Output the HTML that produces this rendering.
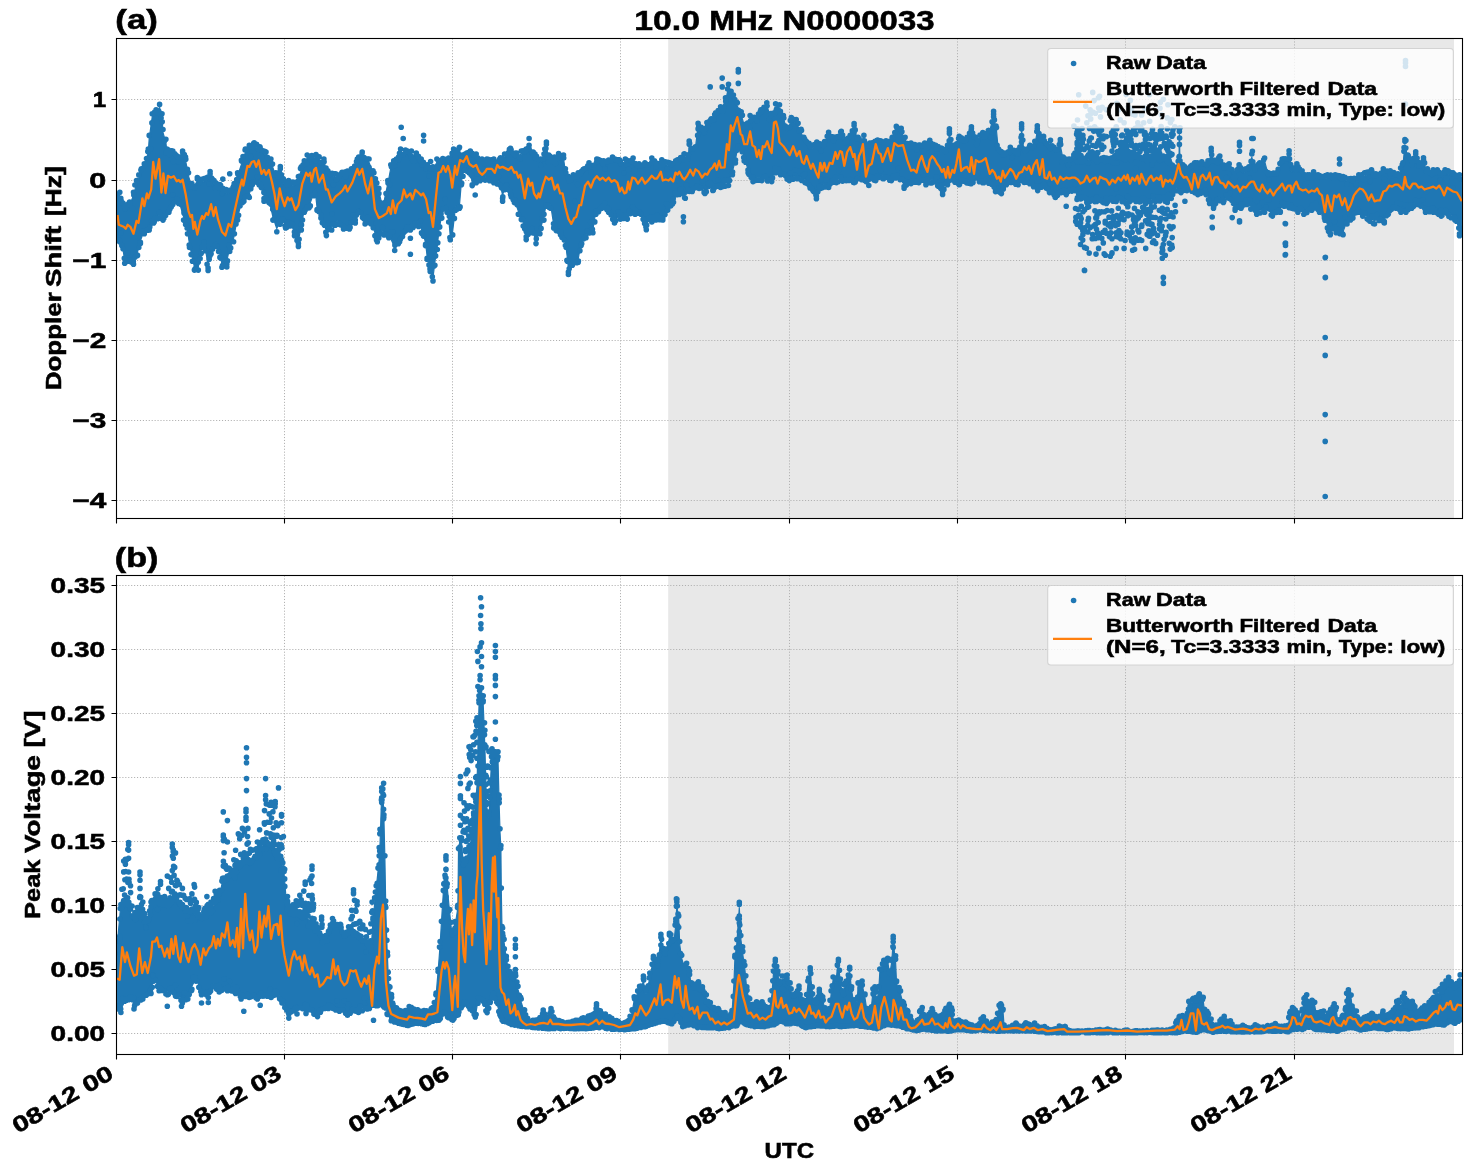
<!DOCTYPE html>
<html><head><meta charset="utf-8"><title>chart</title>
<style>text{stroke:#000;stroke-width:0.55px;}html,body{margin:0;padding:0;background:#fff;}body{width:1471px;height:1172px;position:relative;overflow:hidden;font-family:"Liberation Sans",sans-serif;}</style>
</head><body>
<svg width="1471" height="1172" viewBox="0 0 1471 1172" style="position:absolute;left:0;top:0;will-change:transform;font-family:'Liberation Sans',sans-serif;font-weight:bold">
<rect width="1471" height="1172" fill="#fff"/>
<defs>
<clipPath id="ca"><rect x="116.5" y="38.5" width="1346.0" height="480.0"/></clipPath>
<clipPath id="cb"><rect x="116.5" y="575.5" width="1346.0" height="479.0"/></clipPath>
</defs>
<rect x="668.2" y="38.5" width="785.8" height="480.0" fill="#e8e8e8"/>
<path d="M284.5 38.5V518.5M452.5 38.5V518.5M620.5 38.5V518.5M789.5 38.5V518.5M957.5 38.5V518.5M1125.5 38.5V518.5M1294.5 38.5V518.5M116.5 99.5H1462.5M116.5 180.5H1462.5M116.5 260.5H1462.5M116.5 340.5H1462.5M116.5 420.5H1462.5M116.5 500.5H1462.5" stroke="#b0b0b0" stroke-width="1" stroke-dasharray="1.1 1.83" fill="none"/>
<g clip-path="url(#ca)">
<polygon points="117.5,195.5 120.8,201.4 121.8,203.4 124.7,209.2 128.6,206.1 129.6,205.3 133.5,195.5 136.5,183.7 137.5,181.4 140.4,174.3 141.4,172.0 144.3,167.1 148.3,152.3 149.2,138.6 152.2,117.0 154.2,115.1 156.1,113.1 159.1,108.5 159.6,107.6 162.0,117.0 163.0,132.7 165.9,142.5 166.9,152.3 168.9,153.0 172.8,154.3 178.7,160.2 182.6,154.3 183.6,156.3 185.5,160.2 187.5,170.7 188.5,175.9 189.5,179.3 192.4,189.6 194.4,186.1 197.3,180.8 198.3,180.9 201.2,181.4 204.2,181.8 208.1,178.5 210.1,176.9 214.0,183.7 216.0,185.0 219.9,187.7 221.9,190.3 222.8,191.6 226.8,193.2 227.7,193.6 229.7,192.2 233.6,189.6 237.6,175.9 241.5,164.1 242.5,161.2 245.4,152.3 249.3,148.4 252.3,147.0 254.2,146.1 259.1,149.7 260.1,150.4 264.0,153.7 266.0,155.3 268.9,159.4 270.9,162.2 272.9,167.6 275.8,175.9 276.8,175.0 280.3,172.0 280.7,173.4 283.7,183.7 285.6,183.7 288.6,183.7 290.5,184.4 294.5,185.7 298.4,179.8 301.3,170.0 304.3,164.1 307.2,158.2 310.2,158.1 315.1,157.9 316.0,157.8 317.0,158.4 320.9,160.5 323.9,162.2 325.9,168.0 327.8,173.9 331.7,175.4 335.7,176.9 337.6,176.5 343.5,175.3 345.5,174.9 349.4,172.9 351.4,172.0 355.3,165.4 357.3,162.2 359.2,159.4 362.2,155.3 365.1,158.2 369.0,162.2 371.0,167.6 373.9,175.9 374.9,179.0 377.3,186.6 378.8,191.6 381.8,203.4 382.8,207.3 387.8,183.7 388.8,178.5 390.8,168.0 393.7,164.1 394.7,163.3 398.6,160.2 399.6,156.3 400.6,152.3 404.5,153.1 405.5,153.3 410.4,154.1 411.4,154.3 416.3,156.3 417.3,157.4 421.2,162.2 422.2,163.1 425.5,166.5 427.1,168.0 430.0,169.0 433.0,170.0 434.9,166.1 436.9,162.2 437.3,162.1 438.9,162.0 441.8,161.8 442.8,161.8 445.7,161.5 448.7,161.2 450.3,158.3 452.6,154.1 453.6,152.3 455.5,151.7 459.5,150.4 461.4,155.6 462.4,158.2 464.4,156.6 469.3,154.8 470.3,154.3 472.2,155.3 476.2,157.2 480.1,160.5 482.0,162.2 486.9,162.1 493.8,162.2 499.7,162.2 502.6,159.2 504.6,157.2 505.6,156.3 510.5,151.4 514.4,155.3 515.4,156.3 518.3,155.3 521.3,154.3 523.2,153.5 526.2,152.3 529.1,148.4 531.1,151.4 535.0,157.2 536.0,158.1 539.9,161.3 540.9,162.2 543.9,154.8 544.8,152.3 546.4,147.4 548.8,158.2 550.7,158.9 553.7,159.9 554.6,160.2 558.6,156.7 560.5,157.3 563.5,158.2 565.4,172.0 567.4,178.5 568.4,181.8 572.3,178.6 573.3,177.9 578.2,175.9 581.1,173.9 584.1,172.0 586.0,169.6 589.0,166.1 592.9,164.1 595.9,162.6 596.8,162.2 601.7,163.6 603.7,164.1 608.6,161.9 612.5,160.2 614.5,161.0 619.4,163.1 620.4,163.0 625.3,162.2 627.3,161.9 633.1,161.2 635.1,163.1 639.0,167.1 641.0,166.7 644.9,166.1 645.9,165.4 651.8,161.2 655.9,165.9 661.8,162.9 662.8,163.3 667.7,165.2 669.6,165.9 673.5,164.4 677.5,162.9 679.4,161.3 684.3,157.1 685.3,157.3 688.3,158.0 689.2,144.3 692.2,147.2 695.1,150.2 698.1,126.6 699.1,128.0 704.0,134.5 704.9,131.5 706.9,125.7 710.8,122.7 712.8,120.0 715.7,115.9 720.6,110.0 725.5,101.1 728.5,87.4 732.4,96.0 733.4,98.2 735.4,102.1 737.3,106.0 738.3,108.2 741.2,114.9 744.2,125.2 745.2,128.6 748.1,122.7 750.1,118.8 753.0,119.8 756.0,120.8 760.9,112.9 761.9,111.8 766.8,106.0 770.7,116.8 771.7,114.9 775.6,107.0 779.5,108.0 780.5,110.7 783.4,118.8 787.4,130.6 789.3,125.7 791.3,120.8 796.2,122.7 797.2,124.7 801.1,132.5 805.0,141.9 806.0,144.3 812.9,148.2 816.4,145.6 816.8,145.3 820.7,146.6 822.7,147.2 828.6,135.5 834.5,141.4 836.4,139.4 841.3,134.5 846.2,142.3 850.2,138.4 854.1,128.6 858.0,140.4 861.9,139.1 863.9,138.4 868.8,145.0 869.8,146.3 875.7,144.1 877.6,143.3 883.5,144.1 885.5,144.3 891.4,140.9 892.3,140.4 896.3,129.6 897.3,130.0 901.2,131.5 904.1,138.2 905.1,140.4 911.0,146.3 918.8,148.2 924.7,146.3 925.9,148.4 929.8,143.5 931.8,145.1 935.7,148.4 937.7,149.4 941.6,151.4 942.6,150.9 947.5,148.4 949.4,134.7 952.4,148.4 959.2,139.6 965.1,142.5 971.0,132.4 971.4,131.7 975.9,140.6 982.8,135.7 988.7,133.7 992.6,120.7 993.6,117.4 995.5,126.3 996.5,130.8 998.5,152.3 1001.4,154.3 1004.4,156.3 1006.3,154.3 1010.3,150.4 1018.1,153.3 1021.1,140.6 1021.6,129.8 1024.0,152.3 1029.9,148.4 1034.8,144.5 1037.3,131.7 1037.7,132.8 1040.7,140.6 1043.6,139.6 1047.6,148.4 1049.5,145.1 1050.5,143.5 1055.4,152.3 1060.3,145.5 1061.3,150.4 1063.2,160.2 1066.2,161.2 1069.1,162.2 1075.0,156.3 1077.0,156.8 1078.9,157.2 1086.8,159.6 1088.8,160.2 1096.6,158.2 1106.4,161.2 1116.2,158.2 1126.0,160.2 1135.9,158.2 1145.7,160.2 1155.5,158.2 1165.3,160.2 1167.3,162.2 1169.2,164.1 1171.2,166.7 1175.1,172.0 1179.0,160.2 1179.4,134.7 1180.0,164.1 1181.0,165.2 1186.9,172.0 1194.7,166.1 1195.9,166.1 1197.8,165.8 1201.8,165.1 1205.7,165.8 1207.7,166.1 1209.6,159.5 1211.2,154.3 1213.5,161.2 1214.5,164.1 1217.5,161.4 1219.8,159.2 1223.4,167.7 1224.3,170.0 1229.2,167.1 1234.2,175.9 1235.1,174.3 1239.1,168.0 1241.0,170.5 1243.0,172.9 1246.9,171.0 1248.9,170.0 1251.8,157.2 1252.8,161.5 1254.8,170.0 1256.7,168.4 1259.7,166.1 1264.6,161.2 1268.5,175.9 1272.4,175.9 1276.3,175.9 1280.3,166.7 1282.2,162.2 1284.2,160.8 1289.1,157.2 1292.0,172.0 1296.9,167.1 1297.9,168.4 1301.9,173.9 1303.8,175.2 1307.7,177.9 1311.7,175.9 1313.6,174.9 1319.5,178.8 1324.4,178.2 1327.4,177.9 1330.3,177.9 1335.2,177.9 1336.2,178.1 1343.1,179.8 1347.0,180.8 1350.9,181.8 1352.9,180.8 1357.8,178.3 1358.8,177.9 1362.7,176.5 1364.6,175.9 1368.6,174.2 1371.5,172.9 1374.5,175.9 1376.4,177.9 1380.3,174.5 1383.3,172.0 1384.3,172.2 1388.2,173.4 1390.2,173.9 1396.0,176.1 1398.0,176.9 1400.9,170.4 1402.9,166.1 1404.9,144.5 1405.9,149.1 1407.8,158.2 1411.7,164.1 1415.7,157.2 1417.6,161.7 1419.6,166.1 1423.5,163.1 1425.5,167.6 1427.4,172.0 1433.3,172.6 1437.3,172.9 1441.2,172.9 1445.1,172.9 1449.0,174.4 1453.0,175.9 1454.9,176.3 1459.8,177.4 1461.8,177.9 1461.8,232.6 1459.8,230.6 1454.9,216.9 1453.0,215.6 1449.0,212.9 1445.1,212.9 1441.2,212.9 1437.3,211.0 1433.3,209.0 1427.4,209.0 1425.5,209.0 1423.5,207.1 1419.6,203.1 1417.6,201.2 1415.7,202.5 1411.7,205.1 1407.8,207.7 1405.9,209.0 1404.9,209.0 1402.9,209.0 1400.9,209.0 1398.0,206.7 1396.0,205.1 1390.2,209.5 1388.2,211.0 1384.3,219.8 1383.3,219.1 1380.3,216.9 1376.4,219.5 1374.5,220.8 1371.5,218.8 1368.6,216.9 1364.6,214.3 1362.7,212.9 1358.8,208.2 1357.8,207.1 1352.9,214.9 1350.9,216.9 1347.0,220.8 1343.1,231.6 1336.2,229.6 1335.2,230.0 1330.3,231.6 1327.4,224.7 1324.4,214.9 1319.5,209.0 1313.6,207.6 1311.7,207.1 1307.7,209.0 1303.8,211.0 1301.9,210.3 1297.9,209.0 1296.9,208.4 1292.0,205.1 1289.1,204.4 1284.2,203.1 1282.2,206.1 1280.3,209.0 1276.3,211.0 1272.4,212.9 1268.5,211.0 1264.6,209.0 1259.7,210.2 1256.7,211.0 1254.8,208.0 1252.8,205.1 1251.8,204.4 1248.9,202.5 1246.9,201.2 1243.0,203.8 1241.0,205.1 1239.1,205.8 1235.1,207.1 1234.2,205.1 1229.2,195.3 1224.3,198.6 1223.4,199.2 1219.8,198.0 1217.5,197.2 1214.5,203.1 1213.5,205.1 1211.2,202.2 1209.6,200.2 1207.7,194.8 1205.7,189.4 1201.8,190.4 1197.8,191.4 1195.9,190.1 1194.7,189.4 1186.9,187.4 1181.0,189.4 1180.0,189.1 1179.4,188.9 1179.0,188.7 1175.1,187.4 1171.2,195.3 1169.2,197.2 1167.3,199.2 1165.3,199.0 1155.5,198.2 1145.7,200.2 1135.9,198.2 1126.0,200.2 1116.2,198.2 1106.4,200.2 1096.6,198.2 1088.8,199.0 1086.8,199.2 1078.9,196.9 1077.0,196.3 1075.0,187.4 1069.1,190.1 1066.2,191.4 1063.2,190.2 1061.3,189.4 1060.3,190.2 1055.4,194.3 1050.5,190.2 1049.5,189.4 1047.6,186.8 1043.6,181.6 1040.7,184.5 1037.7,187.4 1037.3,187.1 1034.8,184.9 1029.9,180.6 1024.0,181.1 1021.6,181.3 1021.1,181.3 1018.1,181.6 1010.3,181.6 1006.3,181.6 1004.4,185.1 1001.4,190.4 998.5,189.4 996.5,188.7 995.5,188.4 993.6,183.8 992.6,181.6 988.7,180.8 982.8,179.6 975.9,180.2 971.4,180.5 971.0,180.6 965.1,181.1 959.2,181.6 952.4,181.6 949.4,181.6 947.5,181.6 942.6,188.4 941.6,187.2 937.7,182.5 935.7,181.6 931.8,179.6 929.8,180.2 925.9,181.6 924.7,181.2 918.8,179.4 911.0,180.4 905.1,182.9 904.1,183.3 901.2,179.1 897.3,173.5 896.3,174.2 892.3,176.8 891.4,177.4 885.5,176.0 883.5,175.5 877.6,176.9 875.7,177.4 869.8,181.6 868.8,182.3 863.9,178.1 861.9,176.5 858.0,177.9 854.1,179.4 850.2,178.4 846.2,177.4 841.3,178.4 836.4,179.4 834.5,180.6 828.6,184.3 822.7,185.0 820.7,185.3 816.8,192.4 816.4,193.1 812.9,187.2 806.0,180.4 805.0,179.4 801.1,177.4 797.2,175.5 796.2,175.7 791.3,176.9 789.3,177.4 787.4,176.1 783.4,173.5 780.5,171.6 779.5,171.2 775.6,169.6 771.7,178.4 770.7,178.3 766.8,177.9 761.9,177.4 760.9,177.5 756.0,178.1 753.0,178.4 750.1,173.1 748.1,169.6 745.2,160.8 744.2,157.8 741.2,146.0 738.3,144.1 737.3,149.3 735.4,159.8 733.4,167.6 732.4,171.6 728.5,182.3 725.5,183.1 720.6,184.3 715.7,186.1 712.8,187.2 710.8,188.0 706.9,189.5 704.9,190.2 704.0,189.4 699.1,185.3 698.1,185.7 695.1,187.0 692.2,188.2 689.2,191.2 688.3,192.2 685.3,195.1 684.3,194.4 679.4,191.2 677.5,193.8 673.5,199.0 669.6,204.3 667.7,206.9 662.8,216.7 661.8,216.7 655.9,216.7 651.8,218.8 645.9,223.7 644.9,221.2 641.0,211.0 639.0,211.0 635.1,211.0 633.1,212.2 627.3,215.9 625.3,215.9 620.4,215.9 619.4,216.5 614.5,219.8 612.5,216.2 608.6,209.0 603.7,206.2 601.7,205.1 596.8,210.0 595.9,211.0 592.9,229.6 589.0,232.4 586.0,234.5 584.1,237.7 581.1,242.4 578.2,259.1 573.3,261.5 572.3,262.0 568.4,268.9 567.4,258.1 565.4,242.4 563.5,238.1 560.5,231.6 558.6,229.6 554.6,225.7 553.7,224.7 550.7,205.1 548.8,204.2 546.4,203.1 544.8,211.6 543.9,216.9 540.9,227.2 539.9,230.6 536.0,240.4 535.0,237.7 531.1,226.7 529.1,229.4 526.2,233.6 523.2,222.8 521.3,218.1 518.3,211.0 515.4,202.2 514.4,199.2 510.5,191.4 505.6,183.5 504.6,187.4 502.6,195.3 499.7,181.6 493.8,179.6 486.9,176.7 482.0,177.3 480.1,177.6 476.2,179.6 472.2,181.6 470.3,173.7 469.3,169.8 464.4,167.4 462.4,176.6 461.4,181.6 459.5,205.1 455.5,207.1 453.6,223.4 452.6,231.6 450.3,236.5 448.7,218.8 445.7,205.1 442.8,212.5 441.8,214.9 438.9,230.6 437.3,246.3 436.9,248.9 434.9,262.0 433.0,277.7 430.0,265.9 427.1,256.1 425.5,242.4 422.2,230.6 421.2,228.8 417.3,221.8 416.3,222.5 411.4,226.0 410.4,226.7 405.5,228.3 404.5,228.6 400.6,236.5 399.6,238.5 398.6,240.2 394.7,247.3 393.7,245.2 390.8,238.8 388.8,234.5 387.8,234.0 382.8,231.2 381.8,230.6 378.8,235.7 377.3,238.5 374.9,232.6 373.9,229.6 371.0,220.8 369.0,220.8 365.1,220.8 362.2,214.9 359.2,209.0 357.3,212.9 355.3,216.9 351.4,222.8 349.4,225.7 345.5,225.7 343.5,225.7 337.6,220.8 335.7,222.8 331.7,226.7 327.8,228.6 325.9,229.6 323.9,223.7 320.9,214.9 317.0,207.1 316.0,198.2 315.1,189.4 310.2,203.1 307.2,206.1 304.3,209.0 301.3,226.7 298.4,240.4 294.5,232.6 290.5,222.8 288.6,223.5 285.6,224.7 283.7,222.4 280.7,218.8 280.3,219.8 276.8,228.6 275.8,225.7 272.9,216.9 270.9,208.0 268.9,199.2 266.0,196.9 264.0,195.3 260.1,184.3 259.1,181.6 254.2,181.6 252.3,181.6 249.3,194.3 245.4,197.1 242.5,199.2 241.5,202.7 237.6,216.9 233.6,238.5 229.7,248.3 227.7,256.8 226.8,261.0 222.8,263.4 221.9,264.0 219.9,254.2 216.0,242.4 214.0,245.7 210.1,252.2 208.1,264.9 204.2,242.4 201.2,250.2 198.3,266.9 197.3,266.9 194.4,266.9 192.4,258.1 189.5,244.3 188.5,237.5 187.5,230.6 185.5,223.7 183.6,216.9 182.6,213.5 178.7,200.2 172.8,201.2 168.9,209.0 166.9,211.6 165.9,212.9 163.0,216.9 162.0,216.4 159.6,215.2 159.1,214.9 156.1,217.3 154.2,218.8 152.2,222.0 149.2,226.7 148.3,227.5 144.3,230.6 141.4,238.0 140.4,240.4 137.5,252.2 136.5,254.4 133.5,261.0 129.6,258.7 128.6,258.1 124.7,260.0 121.8,242.4 120.8,241.5 117.5,238.5" fill="#1f77b4" stroke="#1f77b4" stroke-width="1.2" stroke-linejoin="round"/>
<path d="M117.6 194.2h.01M119.3 203.3h.01M121.2 200.9h.01M122.9 203.0h.01M125.1 209.0h.01M126.3 204.9h.01M128.7 203.5h.01M129.6 204.5h.01M132.5 208.5h.01M133.8 194.9h.01M134.9 185.0h.01M136.8 180.9h.01M138.8 174.9h.01M140.9 170.1h.01M143.1 168.3h.01M144.7 165.5h.01M146.5 158.6h.01M147.8 151.6h.01M150.5 148.8h.01M151.9 122.9h.01M153.2 113.6h.01M154.8 111.7h.01M157.0 112.7h.01M158.8 111.2h.01M161.1 118.1h.01M162.2 121.8h.01M164.3 141.1h.01M166.0 152.9h.01M168.1 149.7h.01M169.4 154.6h.01M171.3 150.9h.01M173.6 161.6h.01M174.8 153.8h.01M176.4 155.5h.01M178.3 161.7h.01M180.4 156.7h.01M182.6 152.2h.01M184.3 154.5h.01M185.8 159.2h.01M187.4 169.2h.01M189.9 186.8h.01M191.8 183.6h.01M193.0 185.9h.01M195.1 187.7h.01M197.3 179.0h.01M198.2 178.5h.01M200.1 182.5h.01M201.6 179.3h.01M204.0 178.8h.01M205.8 178.2h.01M207.4 177.2h.01M209.3 183.9h.01M211.5 178.0h.01M212.5 179.2h.01M215.1 188.2h.01M216.1 183.1h.01M218.8 187.4h.01M220.6 185.4h.01M222.0 193.6h.01M223.2 190.4h.01M226.1 189.6h.01M227.5 191.0h.01M229.5 190.3h.01M230.7 191.0h.01M233.0 187.6h.01M234.2 183.6h.01M236.7 179.5h.01M237.8 173.9h.01M239.5 173.1h.01M241.4 160.3h.01M243.0 156.6h.01M245.1 150.0h.01M246.7 150.0h.01M249.4 147.0h.01M250.9 156.4h.01M252.6 147.2h.01M253.7 143.4h.01M256.6 144.3h.01M258.5 149.2h.01M259.9 146.9h.01M261.8 150.3h.01M263.9 151.0h.01M265.2 151.6h.01M267.4 157.3h.01M268.9 159.9h.01M271.0 163.1h.01M272.5 164.1h.01M274.5 174.8h.01M276.2 174.2h.01M277.8 177.0h.01M279.4 172.4h.01M281.4 174.8h.01M283.3 178.8h.01M285.4 195.6h.01M286.6 184.4h.01M288.6 184.5h.01M290.7 182.9h.01M292.4 182.0h.01M294.0 182.4h.01M295.4 182.6h.01M297.5 181.5h.01M299.8 176.4h.01M300.5 168.4h.01M303.1 164.7h.01M304.3 160.7h.01M306.7 163.5h.01M308.8 156.7h.01M310.3 156.1h.01M311.8 155.5h.01M314.2 159.7h.01M315.4 161.0h.01M317.1 158.0h.01M319.1 156.8h.01M321.3 162.8h.01M323.2 162.0h.01M324.1 161.7h.01M326.0 168.0h.01M328.0 171.6h.01M329.9 174.5h.01M332.1 173.3h.01M333.4 184.9h.01M334.7 173.8h.01M336.5 179.6h.01M339.0 176.7h.01M341.0 173.8h.01M342.1 172.4h.01M343.7 173.8h.01M345.8 176.7h.01M347.4 171.0h.01M349.6 172.6h.01M351.7 171.5h.01M353.9 170.5h.01M354.7 166.0h.01M356.5 161.5h.01M358.7 157.0h.01M360.1 158.2h.01M362.1 153.2h.01M364.1 157.6h.01M366.2 158.7h.01M368.1 159.1h.01M369.0 167.4h.01M371.6 173.4h.01M373.0 170.8h.01M375.4 178.7h.01M376.8 183.0h.01M378.9 193.6h.01M380.3 202.9h.01M381.7 204.5h.01M384.3 202.7h.01M386.0 193.6h.01M388.0 182.9h.01M389.9 184.6h.01M391.4 166.7h.01M393.4 163.2h.01M394.5 166.0h.01M396.4 159.0h.01M398.6 159.7h.01M399.5 153.2h.01M401.4 154.4h.01M403.3 154.6h.01M405.8 151.3h.01M406.9 150.9h.01M409.4 152.9h.01M411.1 156.5h.01M412.7 160.4h.01M414.0 161.3h.01M416.3 153.8h.01M418.4 156.3h.01M419.9 160.4h.01M421.8 165.0h.01M423.4 162.4h.01M425.8 168.6h.01M427.5 165.5h.01M428.9 175.8h.01M430.3 168.6h.01M432.5 168.9h.01M433.7 167.0h.01M436.1 171.0h.01M438.3 160.4h.01M439.7 161.3h.01M441.0 162.2h.01M443.2 160.8h.01M445.6 167.8h.01M446.9 159.1h.01M448.6 158.3h.01M451.0 159.8h.01M452.1 153.4h.01M454.2 149.6h.01M455.5 156.2h.01M457.1 152.3h.01M459.2 147.9h.01M461.1 155.5h.01M463.2 155.6h.01M465.2 154.0h.01M466.7 153.1h.01M468.1 152.6h.01M470.2 152.9h.01M472.0 153.4h.01M473.5 155.0h.01M475.9 154.4h.01M477.5 157.7h.01M479.4 161.0h.01M480.8 162.3h.01M483.3 161.7h.01M484.5 163.6h.01M487.0 159.7h.01M488.9 159.5h.01M489.7 163.5h.01M492.2 159.5h.01M493.2 159.6h.01M495.4 163.0h.01M496.9 162.5h.01M499.3 160.2h.01M500.5 157.8h.01M503.2 159.4h.01M504.0 164.5h.01M506.6 154.5h.01M508.3 152.7h.01M509.4 149.4h.01M511.1 149.7h.01M513.5 153.6h.01M514.9 155.5h.01M516.7 153.1h.01M519.5 157.4h.01M520.2 159.1h.01M523.0 150.8h.01M524.6 151.8h.01M526.1 150.4h.01M527.8 149.0h.01M529.1 148.8h.01M531.9 152.4h.01M533.2 152.1h.01M535.0 158.1h.01M536.5 156.3h.01M538.1 159.3h.01M540.9 165.3h.01M542.7 159.1h.01M544.0 154.0h.01M545.9 148.6h.01M548.1 162.3h.01M550.0 156.2h.01M551.6 160.0h.01M553.0 161.5h.01M555.4 163.6h.01M557.0 158.7h.01M558.4 157.9h.01M559.8 157.9h.01M562.1 155.8h.01M563.7 158.0h.01M565.8 172.7h.01M568.0 176.4h.01M569.1 181.1h.01M571.2 179.6h.01M572.8 177.2h.01M574.9 201.4h.01M576.8 177.0h.01M577.7 184.4h.01M580.4 174.3h.01M581.8 171.1h.01M583.3 169.2h.01M585.0 168.5h.01M587.8 165.8h.01M589.1 165.2h.01M591.0 172.2h.01M592.9 177.0h.01M594.0 165.1h.01M596.6 162.0h.01M598.6 159.5h.01M599.9 160.4h.01M601.7 160.9h.01M603.0 163.7h.01M605.2 168.9h.01M607.2 161.7h.01M608.6 160.0h.01M610.8 161.0h.01M612.8 158.0h.01M613.7 158.8h.01M615.6 159.4h.01M618.2 159.8h.01M620.2 161.4h.01M621.0 163.7h.01M623.8 172.8h.01M625.6 159.2h.01M626.9 160.4h.01M628.4 169.4h.01M631.0 160.5h.01M632.3 161.9h.01M634.5 170.5h.01M635.4 163.5h.01M637.6 165.5h.01M639.0 164.5h.01M640.8 165.7h.01M643.3 164.9h.01M644.6 164.7h.01M646.6 164.2h.01M648.5 164.8h.01M650.8 177.2h.01M651.8 162.3h.01M654.4 160.8h.01M655.8 167.1h.01M657.2 163.2h.01M659.4 164.4h.01M661.3 162.8h.01M662.5 164.4h.01M665.3 161.7h.01M667.0 168.9h.01M667.8 162.3h.01M670.0 163.5h.01M671.4 164.8h.01M673.2 163.5h.01M675.7 160.8h.01M677.5 162.2h.01M679.1 159.8h.01M680.7 157.5h.01M683.1 159.4h.01M684.0 154.1h.01M686.4 159.3h.01M687.8 159.2h.01M689.6 143.4h.01M691.5 148.5h.01M694.1 148.5h.01M695.4 146.8h.01M697.6 135.4h.01M698.7 126.2h.01M701.2 127.2h.01M702.0 129.6h.01M704.3 132.8h.01M705.9 128.4h.01M707.4 126.2h.01M709.9 121.1h.01M711.3 118.8h.01M713.5 119.9h.01M714.7 114.5h.01M717.2 112.6h.01M718.2 110.5h.01M720.6 110.6h.01M722.8 111.3h.01M724.0 107.9h.01M725.7 101.2h.01M727.6 89.0h.01M730.0 94.6h.01M731.1 91.2h.01M732.9 95.7h.01M734.8 99.5h.01M736.8 102.2h.01M738.5 110.3h.01M740.4 115.0h.01M742.4 115.2h.01M743.6 127.3h.01M745.7 124.4h.01M747.6 123.1h.01M749.5 127.3h.01M750.6 120.8h.01M753.2 118.9h.01M754.2 117.4h.01M757.0 120.7h.01M758.5 114.1h.01M760.4 111.4h.01M761.6 111.6h.01M764.0 107.2h.01M765.8 106.5h.01M767.1 105.8h.01M769.3 119.6h.01M770.9 115.2h.01M772.9 113.4h.01M774.4 113.4h.01M776.5 109.2h.01M778.5 110.2h.01M780.4 111.2h.01M781.9 120.3h.01M783.8 118.0h.01M785.2 126.0h.01M786.7 128.2h.01M789.5 127.6h.01M790.3 120.4h.01M792.4 118.7h.01M794.9 119.8h.01M795.9 119.7h.01M798.1 123.3h.01M799.3 131.0h.01M801.5 130.5h.01M803.8 137.2h.01M804.6 139.0h.01M806.6 142.2h.01M809.0 143.4h.01M810.2 146.4h.01M812.0 145.3h.01M814.4 144.7h.01M816.0 143.9h.01M817.7 147.5h.01M820.0 143.9h.01M821.1 151.0h.01M823.6 145.6h.01M824.6 141.6h.01M827.2 136.2h.01M828.4 137.3h.01M830.3 136.3h.01M832.7 136.8h.01M833.6 140.8h.01M835.7 137.0h.01M837.9 136.5h.01M839.4 137.1h.01M840.7 132.0h.01M842.6 135.0h.01M844.7 142.8h.01M847.1 141.9h.01M848.3 138.0h.01M850.4 135.8h.01M852.3 130.9h.01M854.1 132.0h.01M855.2 129.9h.01M856.8 138.8h.01M859.1 138.8h.01M861.0 145.6h.01M862.5 141.5h.01M864.4 140.7h.01M865.8 145.9h.01M867.8 146.1h.01M869.9 145.4h.01M872.1 142.9h.01M873.3 142.8h.01M875.1 141.2h.01M877.4 142.2h.01M879.1 141.6h.01M880.6 140.8h.01M883.1 142.6h.01M884.5 146.3h.01M886.0 140.8h.01M887.6 143.4h.01M889.6 141.2h.01M892.1 137.7h.01M892.9 139.4h.01M894.8 132.5h.01M896.9 128.1h.01M898.5 128.4h.01M900.7 129.6h.01M901.9 131.8h.01M903.9 138.9h.01M906.0 146.7h.01M907.5 143.6h.01M909.0 146.8h.01M910.8 143.6h.01M913.3 147.0h.01M914.8 144.6h.01M916.8 149.9h.01M918.2 145.2h.01M919.8 145.1h.01M921.6 145.5h.01M923.8 150.9h.01M925.9 147.0h.01M927.9 147.6h.01M929.1 142.4h.01M930.5 143.0h.01M933.1 144.4h.01M935.0 156.4h.01M936.6 148.9h.01M938.1 146.6h.01M940.3 148.7h.01M941.8 148.3h.01M944.0 149.2h.01M945.6 151.4h.01M947.6 145.8h.01M949.2 140.8h.01M950.9 139.6h.01M953.0 145.3h.01M954.5 155.5h.01M956.7 143.9h.01M958.6 138.5h.01M959.5 139.7h.01M961.4 137.9h.01M963.7 141.1h.01M965.8 140.2h.01M967.1 137.3h.01M969.5 133.3h.01M971.2 130.2h.01M972.6 133.0h.01M974.0 136.7h.01M976.7 144.4h.01M978.0 141.1h.01M980.1 135.1h.01M982.0 134.4h.01M983.4 133.1h.01M984.7 137.0h.01M986.4 133.5h.01M988.3 130.5h.01M991.0 137.5h.01M992.1 121.7h.01M994.4 119.9h.01M996.0 126.1h.01M997.1 145.3h.01M999.5 150.5h.01M1001.2 151.5h.01M1002.7 154.7h.01M1004.6 154.7h.01M1006.5 153.2h.01M1007.9 152.0h.01M1009.9 150.5h.01M1012.2 157.5h.01M1013.8 150.4h.01M1015.9 152.2h.01M1017.8 154.1h.01M1019.9 147.0h.01M1021.5 142.1h.01M1022.8 140.1h.01M1025.2 151.2h.01M1026.5 149.7h.01M1028.8 148.0h.01M1029.6 146.2h.01M1032.4 147.5h.01M1033.8 146.1h.01M1035.3 142.0h.01M1036.8 131.5h.01M1039.0 133.6h.01M1040.8 139.4h.01M1042.9 136.9h.01M1044.2 140.6h.01M1046.2 143.5h.01M1047.6 145.1h.01M1050.5 148.6h.01M1052.1 145.8h.01M1053.9 147.4h.01M1055.6 149.7h.01M1057.6 149.3h.01M1059.3 144.6h.01M1060.7 144.6h.01M1061.9 162.3h.01M1064.1 158.2h.01M1065.6 159.1h.01M1068.3 165.3h.01M1069.5 159.9h.01M1071.0 159.2h.01M1073.8 154.9h.01M1075.1 154.2h.01M1077.5 161.7h.01M1078.3 155.9h.01M1081.0 155.6h.01M1081.9 161.9h.01M1083.9 161.1h.01M1085.5 158.1h.01M1088.3 163.0h.01M1089.7 157.5h.01M1091.8 157.0h.01M1092.6 156.1h.01M1094.7 159.3h.01M1097.1 162.0h.01M1098.1 159.3h.01M1100.8 159.7h.01M1101.6 158.4h.01M1103.7 158.0h.01M1105.3 161.5h.01M1107.2 158.2h.01M1109.6 160.4h.01M1111.3 158.0h.01M1113.0 162.5h.01M1114.5 156.3h.01M1116.7 162.9h.01M1118.5 156.4h.01M1120.7 156.1h.01M1121.9 157.9h.01M1123.2 158.8h.01M1125.2 159.6h.01M1127.7 157.6h.01M1128.8 156.7h.01M1130.6 160.2h.01M1132.8 156.6h.01M1135.0 155.9h.01M1135.7 168.3h.01M1138.4 157.3h.01M1140.4 157.3h.01M1141.3 158.3h.01M1143.7 159.0h.01M1145.5 158.3h.01M1147.1 161.3h.01M1149.3 158.5h.01M1150.7 159.4h.01M1152.1 164.7h.01M1153.9 159.8h.01M1155.8 158.0h.01M1158.2 157.3h.01M1160.0 160.5h.01M1161.5 157.0h.01M1163.4 157.3h.01M1164.5 159.0h.01M1167.2 161.3h.01M1169.1 163.0h.01M1170.1 163.2h.01M1172.3 165.1h.01M1174.0 168.7h.01M1176.3 167.1h.01M1178.2 161.2h.01M1179.6 138.0h.01M1181.0 166.6h.01M1182.9 164.8h.01M1184.7 166.6h.01M1186.7 170.6h.01M1188.6 168.2h.01M1190.7 166.4h.01M1191.8 165.3h.01M1194.1 163.9h.01M1196.0 167.7h.01M1197.4 162.8h.01M1199.0 163.6h.01M1200.6 171.9h.01M1203.2 163.9h.01M1204.3 174.0h.01M1206.8 164.4h.01M1208.0 160.9h.01M1209.7 161.4h.01M1211.7 154.7h.01M1213.2 160.1h.01M1216.1 160.1h.01M1217.6 162.7h.01M1218.8 157.5h.01M1220.6 161.0h.01M1223.2 164.7h.01M1224.3 168.1h.01M1226.4 177.6h.01M1228.0 164.7h.01M1229.4 168.2h.01M1231.9 169.5h.01M1233.6 177.5h.01M1235.3 177.4h.01M1237.5 169.5h.01M1239.2 166.5h.01M1240.5 167.6h.01M1242.6 169.8h.01M1243.9 169.6h.01M1246.1 168.9h.01M1247.8 168.4h.01M1249.9 178.2h.01M1251.1 161.4h.01M1252.8 161.9h.01M1254.9 170.1h.01M1256.3 166.1h.01M1258.4 164.3h.01M1261.0 163.5h.01M1262.0 164.0h.01M1263.7 159.8h.01M1265.7 171.2h.01M1268.0 174.1h.01M1268.9 179.8h.01M1271.2 173.9h.01M1273.6 173.0h.01M1275.2 173.9h.01M1276.2 174.1h.01M1278.2 169.2h.01M1279.9 163.6h.01M1281.5 162.0h.01M1283.8 158.9h.01M1285.3 158.8h.01M1287.2 158.9h.01M1289.5 158.9h.01M1290.7 164.5h.01M1293.2 168.9h.01M1294.6 167.7h.01M1296.2 170.3h.01M1298.1 166.8h.01M1299.5 169.0h.01M1302.1 170.8h.01M1304.1 174.5h.01M1305.3 184.3h.01M1307.8 177.7h.01M1309.3 174.7h.01M1311.4 176.4h.01M1312.4 178.3h.01M1314.0 175.3h.01M1316.2 175.2h.01M1318.0 174.9h.01M1319.9 176.8h.01M1321.3 176.3h.01M1323.5 176.7h.01M1325.5 175.5h.01M1326.6 175.5h.01M1328.8 175.9h.01M1330.8 175.1h.01M1332.6 178.3h.01M1333.7 178.3h.01M1335.9 176.4h.01M1337.8 175.5h.01M1339.7 175.9h.01M1341.5 178.9h.01M1343.0 177.9h.01M1344.9 177.2h.01M1347.0 184.2h.01M1348.9 178.9h.01M1350.5 179.1h.01M1352.8 180.7h.01M1354.2 178.3h.01M1356.2 184.6h.01M1357.8 178.1h.01M1359.4 176.0h.01M1361.7 174.8h.01M1363.0 179.6h.01M1364.3 179.8h.01M1366.7 172.2h.01M1368.3 172.1h.01M1369.9 181.6h.01M1371.8 171.0h.01M1373.6 175.6h.01M1375.8 173.9h.01M1377.2 175.2h.01M1379.5 174.2h.01M1381.2 173.0h.01M1383.3 171.6h.01M1384.5 179.6h.01M1387.0 171.0h.01M1388.6 171.3h.01M1390.3 174.3h.01M1392.3 181.3h.01M1393.8 172.6h.01M1395.6 174.8h.01M1397.0 174.8h.01M1399.1 175.4h.01M1400.6 168.1h.01M1402.3 164.5h.01M1404.1 147.6h.01M1405.8 148.1h.01M1408.3 155.8h.01M1409.8 158.5h.01M1411.7 165.3h.01M1413.9 158.4h.01M1414.8 160.8h.01M1417.1 158.2h.01M1418.8 166.1h.01M1420.4 165.8h.01M1422.3 164.5h.01M1424.6 162.9h.01M1426.5 171.3h.01M1427.8 171.3h.01M1429.8 172.7h.01M1431.9 174.5h.01M1433.2 169.8h.01M1434.8 172.9h.01M1436.3 170.3h.01M1439.2 172.4h.01M1440.1 180.3h.01M1442.2 173.2h.01M1444.0 172.7h.01M1446.5 178.2h.01M1448.0 170.9h.01M1449.0 171.8h.01M1451.6 173.1h.01M1452.6 187.9h.01M1454.3 174.3h.01M1456.7 175.9h.01M1458.3 175.3h.01M1460.7 179.2h.01M117.4 240.7h.01M119.6 240.4h.01M121.0 233.1h.01M123.0 248.8h.01M124.3 258.3h.01M126.0 261.8h.01M128.0 253.3h.01M129.6 260.1h.01M131.3 262.1h.01M133.3 261.4h.01M135.2 256.9h.01M137.3 255.0h.01M138.8 247.5h.01M140.4 242.3h.01M142.5 231.2h.01M144.1 233.4h.01M146.9 230.3h.01M148.5 230.1h.01M149.8 226.9h.01M151.6 221.0h.01M153.6 222.9h.01M155.4 217.9h.01M157.6 218.7h.01M159.5 212.2h.01M161.1 217.2h.01M162.1 216.0h.01M163.9 218.2h.01M165.6 215.5h.01M168.2 212.2h.01M169.7 209.4h.01M171.2 206.9h.01M172.7 194.7h.01M175.5 201.7h.01M177.2 199.0h.01M179.1 201.9h.01M180.8 204.3h.01M181.8 202.9h.01M184.0 212.9h.01M185.6 224.5h.01M187.1 227.9h.01M189.2 245.1h.01M191.1 254.6h.01M193.5 261.1h.01M195.1 268.8h.01M196.4 268.8h.01M198.3 261.9h.01M200.1 258.5h.01M201.8 247.1h.01M204.0 242.3h.01M205.3 250.8h.01M207.1 264.3h.01M209.2 259.2h.01M211.1 253.7h.01M212.7 249.1h.01M215.2 245.4h.01M217.0 246.5h.01M218.6 251.4h.01M220.7 258.1h.01M222.5 265.5h.01M223.6 265.3h.01M225.1 261.3h.01M227.5 260.9h.01M228.9 245.2h.01M230.7 247.9h.01M232.3 230.3h.01M234.4 233.8h.01M236.0 223.9h.01M238.6 215.2h.01M240.1 205.8h.01M241.8 203.0h.01M243.9 201.3h.01M245.2 196.9h.01M247.0 195.8h.01M248.6 196.4h.01M250.8 188.8h.01M251.9 182.6h.01M254.2 181.8h.01M256.2 182.1h.01M257.5 176.7h.01M260.3 184.4h.01M261.3 187.4h.01M263.9 192.4h.01M265.5 197.8h.01M267.5 200.4h.01M268.4 200.2h.01M270.7 203.9h.01M272.7 209.2h.01M274.1 219.0h.01M275.4 214.0h.01M278.0 223.5h.01M279.9 224.2h.01M281.3 220.9h.01M282.7 218.9h.01M285.1 226.1h.01M286.8 227.3h.01M288.5 222.1h.01M290.7 225.2h.01M292.4 224.1h.01M294.4 232.0h.01M295.3 233.5h.01M297.0 240.5h.01M299.1 239.2h.01M301.5 224.9h.01M302.5 220.1h.01M305.1 210.3h.01M307.0 207.1h.01M308.9 208.0h.01M310.3 205.7h.01M312.2 195.2h.01M313.9 195.8h.01M314.9 194.8h.01M317.1 209.6h.01M318.8 211.4h.01M321.1 215.2h.01M322.3 222.8h.01M324.5 225.2h.01M325.8 232.2h.01M328.2 223.2h.01M329.5 229.5h.01M331.9 214.1h.01M333.3 224.1h.01M335.2 225.2h.01M337.3 224.1h.01M339.3 223.4h.01M340.6 225.0h.01M343.0 225.9h.01M344.5 227.6h.01M346.2 228.1h.01M348.3 227.9h.01M350.1 227.4h.01M351.4 222.4h.01M353.2 214.9h.01M355.2 216.3h.01M356.4 215.1h.01M358.4 211.6h.01M361.0 213.0h.01M362.5 217.4h.01M363.8 218.6h.01M365.5 222.4h.01M367.4 217.2h.01M369.3 222.4h.01M371.7 219.8h.01M373.2 227.7h.01M375.4 235.4h.01M376.5 240.0h.01M378.8 238.1h.01M380.1 233.1h.01M382.6 227.5h.01M384.1 234.9h.01M385.5 234.1h.01M387.3 235.1h.01M389.4 235.4h.01M391.7 232.1h.01M392.8 231.8h.01M394.9 245.2h.01M397.1 243.7h.01M398.3 243.8h.01M400.3 239.2h.01M402.5 236.4h.01M403.5 232.8h.01M405.4 231.1h.01M406.8 226.9h.01M409.3 229.8h.01M411.2 226.6h.01M413.1 227.4h.01M414.8 223.0h.01M416.3 225.3h.01M418.5 226.4h.01M420.4 221.0h.01M421.5 232.9h.01M423.5 236.1h.01M425.6 244.4h.01M427.1 258.3h.01M429.0 264.9h.01M430.2 271.4h.01M432.3 276.8h.01M434.0 265.9h.01M435.6 255.9h.01M437.8 242.8h.01M439.7 226.9h.01M441.0 214.1h.01M442.9 208.7h.01M445.1 199.3h.01M447.0 212.2h.01M449.3 216.3h.01M449.9 237.6h.01M452.7 234.9h.01M454.4 218.4h.01M455.9 209.6h.01M457.2 209.1h.01M460.1 206.9h.01M461.7 183.3h.01M463.0 176.3h.01M464.6 170.2h.01M467.2 171.2h.01M468.5 171.7h.01M470.8 174.5h.01M472.2 175.9h.01M474.4 182.0h.01M475.5 181.7h.01M477.2 178.8h.01M479.2 180.2h.01M480.9 179.3h.01M482.8 179.3h.01M485.1 180.1h.01M486.5 179.8h.01M488.2 178.8h.01M489.6 180.7h.01M491.7 181.0h.01M493.4 181.3h.01M495.5 180.2h.01M497.2 183.9h.01M498.5 176.6h.01M501.5 187.8h.01M502.8 196.9h.01M504.3 189.7h.01M506.4 185.0h.01M508.1 189.6h.01M510.2 191.4h.01M511.2 196.8h.01M513.2 199.7h.01M515.2 200.3h.01M517.0 204.6h.01M519.1 214.5h.01M521.3 219.6h.01M522.3 218.8h.01M524.7 228.7h.01M526.3 231.8h.01M528.2 234.2h.01M529.8 231.7h.01M532.0 228.6h.01M532.7 233.0h.01M535.4 232.9h.01M536.3 238.8h.01M538.6 232.9h.01M541.1 228.4h.01M541.8 218.1h.01M544.0 214.2h.01M545.8 204.9h.01M547.6 205.1h.01M549.3 207.4h.01M550.8 208.2h.01M553.5 223.8h.01M555.0 225.9h.01M556.2 230.6h.01M559.0 231.6h.01M560.8 232.1h.01M562.0 237.5h.01M564.3 239.9h.01M566.1 247.3h.01M566.9 260.4h.01M569.2 268.8h.01M571.6 264.0h.01M573.1 262.9h.01M575.0 262.5h.01M576.8 262.8h.01M578.4 261.1h.01M579.9 250.8h.01M581.7 243.8h.01M583.7 238.8h.01M585.6 237.1h.01M587.1 231.3h.01M589.1 232.9h.01M590.7 222.4h.01M592.4 229.4h.01M594.8 221.9h.01M596.0 211.2h.01M598.5 211.7h.01M600.2 208.7h.01M601.8 206.6h.01M604.1 206.8h.01M605.2 203.1h.01M606.8 209.4h.01M608.4 208.6h.01M611.1 215.0h.01M612.7 219.2h.01M614.4 220.1h.01M615.7 220.7h.01M618.2 211.7h.01M619.2 214.6h.01M621.2 214.5h.01M623.3 218.4h.01M624.6 216.3h.01M627.0 214.7h.01M629.2 211.3h.01M630.3 213.6h.01M632.6 206.9h.01M634.5 213.8h.01M635.6 210.3h.01M637.1 213.3h.01M639.2 211.9h.01M641.0 214.0h.01M643.1 219.3h.01M644.6 223.4h.01M646.7 225.3h.01M648.1 218.6h.01M650.7 217.4h.01M652.2 219.0h.01M653.9 217.0h.01M656.2 216.7h.01M657.2 215.4h.01M659.8 219.7h.01M661.4 218.5h.01M662.8 218.8h.01M665.0 214.6h.01M666.5 203.8h.01M668.1 206.7h.01M670.6 206.0h.01M672.4 204.1h.01M673.2 198.8h.01M675.0 192.7h.01M676.8 194.7h.01M678.9 181.3h.01M680.4 189.2h.01M682.2 193.3h.01M684.6 197.7h.01M686.5 185.1h.01M688.4 189.7h.01M689.4 191.5h.01M691.3 189.7h.01M693.3 188.6h.01M694.9 188.0h.01M697.0 185.7h.01M698.4 186.6h.01M700.8 187.9h.01M702.6 180.6h.01M704.1 192.4h.01M706.3 191.7h.01M708.5 183.9h.01M710.2 182.6h.01M712.0 185.1h.01M713.3 190.2h.01M715.3 186.9h.01M717.0 186.1h.01M718.2 180.1h.01M721.1 185.4h.01M721.8 187.0h.01M724.6 180.5h.01M725.3 186.1h.01M727.9 180.4h.01M729.6 180.6h.01M731.7 173.6h.01M732.6 172.0h.01M735.5 160.1h.01M736.6 150.5h.01M738.3 146.2h.01M740.6 148.6h.01M742.2 151.7h.01M743.7 157.6h.01M745.6 162.2h.01M748.0 170.1h.01M748.9 174.3h.01M751.1 177.3h.01M752.7 176.8h.01M754.9 180.6h.01M756.5 180.3h.01M758.8 180.1h.01M759.8 180.2h.01M761.7 179.6h.01M763.9 176.9h.01M765.5 176.3h.01M767.6 180.9h.01M768.8 180.5h.01M771.5 179.9h.01M772.5 177.9h.01M775.1 168.0h.01M775.9 171.6h.01M778.4 169.1h.01M780.2 173.3h.01M781.4 174.1h.01M783.8 174.1h.01M785.7 176.0h.01M787.1 179.1h.01M788.4 178.9h.01M790.3 172.9h.01M793.0 179.2h.01M794.8 169.7h.01M796.6 177.7h.01M798.2 178.6h.01M799.3 171.2h.01M801.7 180.4h.01M803.6 175.3h.01M805.0 173.7h.01M806.4 183.1h.01M809.2 185.3h.01M810.1 187.9h.01M811.8 188.6h.01M813.7 191.4h.01M815.9 195.1h.01M817.8 191.7h.01M819.5 186.4h.01M820.8 179.6h.01M822.6 187.4h.01M825.2 186.9h.01M826.7 180.0h.01M828.3 187.0h.01M830.1 183.9h.01M832.7 180.6h.01M834.0 182.3h.01M835.7 177.4h.01M838.0 181.7h.01M838.7 170.6h.01M841.0 177.3h.01M842.5 181.1h.01M845.0 180.4h.01M845.9 180.0h.01M848.7 180.4h.01M850.3 179.5h.01M851.5 180.2h.01M853.5 182.5h.01M855.2 181.9h.01M857.1 178.5h.01M859.2 178.8h.01M860.7 178.9h.01M862.8 173.9h.01M864.5 180.2h.01M866.1 181.6h.01M867.8 177.6h.01M870.3 176.5h.01M871.3 177.1h.01M874.1 180.1h.01M874.9 179.9h.01M876.8 176.4h.01M878.5 177.2h.01M880.4 170.5h.01M882.7 178.6h.01M884.4 177.6h.01M886.6 177.3h.01M887.8 177.6h.01M889.7 180.2h.01M891.6 179.6h.01M893.3 176.4h.01M895.1 177.9h.01M897.1 175.0h.01M898.4 168.2h.01M900.0 179.6h.01M902.0 179.1h.01M904.5 181.2h.01M906.4 184.9h.01M907.6 182.9h.01M910.0 181.8h.01M911.3 181.5h.01M913.5 182.3h.01M914.7 181.0h.01M916.4 182.2h.01M918.9 177.3h.01M920.8 171.5h.01M922.5 180.1h.01M924.3 180.4h.01M925.3 179.8h.01M927.3 179.2h.01M929.8 182.8h.01M931.1 182.9h.01M933.3 182.1h.01M935.2 181.4h.01M936.7 177.1h.01M938.5 186.3h.01M940.7 188.3h.01M941.7 184.7h.01M943.9 189.4h.01M946.1 183.3h.01M946.9 182.1h.01M948.6 180.9h.01M951.2 178.7h.01M953.1 180.1h.01M955.0 182.2h.01M956.3 181.7h.01M957.9 183.3h.01M959.5 184.6h.01M961.4 179.8h.01M963.8 181.2h.01M965.3 180.7h.01M966.8 183.0h.01M969.1 183.3h.01M971.2 180.3h.01M973.0 182.4h.01M974.0 176.2h.01M976.2 174.2h.01M978.2 173.3h.01M979.4 181.8h.01M981.5 180.7h.01M983.7 182.8h.01M985.1 180.9h.01M986.6 179.5h.01M988.8 183.3h.01M990.3 183.5h.01M991.8 184.5h.01M994.1 186.9h.01M996.1 182.8h.01M997.6 190.7h.01M999.5 192.1h.01M1000.8 183.9h.01M1003.3 188.9h.01M1005.0 183.0h.01M1007.2 181.7h.01M1008.2 177.8h.01M1010.9 182.4h.01M1011.7 182.5h.01M1013.4 180.4h.01M1015.8 184.3h.01M1017.8 183.8h.01M1019.1 180.8h.01M1021.3 180.1h.01M1022.8 180.7h.01M1024.2 182.5h.01M1027.0 182.1h.01M1027.8 177.3h.01M1029.8 183.7h.01M1031.8 182.0h.01M1033.6 186.7h.01M1035.8 186.1h.01M1037.5 188.7h.01M1039.2 185.8h.01M1041.2 187.3h.01M1042.2 185.3h.01M1043.9 184.0h.01M1046.2 188.1h.01M1047.6 188.8h.01M1050.3 183.7h.01M1051.8 192.4h.01M1054.1 194.8h.01M1055.1 197.0h.01M1057.5 195.3h.01M1058.8 192.5h.01M1061.2 191.6h.01M1062.8 192.2h.01M1064.2 190.1h.01M1066.0 193.2h.01M1067.7 192.0h.01M1069.6 190.1h.01M1071.8 191.1h.01M1073.3 189.6h.01M1075.0 184.6h.01M1077.4 197.7h.01M1079.0 188.7h.01M1080.7 199.0h.01M1082.1 197.0h.01M1084.6 197.7h.01M1086.1 198.9h.01M1087.9 200.6h.01M1089.8 201.4h.01M1091.9 199.6h.01M1093.4 200.5h.01M1094.8 201.6h.01M1096.4 197.1h.01M1098.2 199.0h.01M1100.9 200.6h.01M1102.6 201.9h.01M1104.0 202.7h.01M1106.1 198.1h.01M1107.6 201.7h.01M1109.6 199.1h.01M1111.2 198.3h.01M1113.1 201.2h.01M1114.8 199.3h.01M1116.1 188.4h.01M1118.1 197.3h.01M1120.6 198.3h.01M1122.0 201.6h.01M1123.7 200.7h.01M1125.7 202.7h.01M1127.5 196.4h.01M1129.5 201.8h.01M1130.5 200.8h.01M1132.7 199.3h.01M1135.1 199.4h.01M1136.8 199.0h.01M1138.4 200.6h.01M1139.7 202.0h.01M1141.9 199.1h.01M1143.4 197.7h.01M1145.1 202.4h.01M1146.5 200.8h.01M1149.1 201.3h.01M1150.5 201.9h.01M1153.0 195.8h.01M1153.9 200.8h.01M1155.6 201.1h.01M1158.2 196.9h.01M1159.7 200.9h.01M1160.9 198.4h.01M1163.7 197.0h.01M1165.3 201.5h.01M1166.7 198.8h.01M1168.4 194.6h.01M1170.3 197.2h.01M1172.7 194.6h.01M1174.2 190.7h.01M1175.6 181.1h.01M1177.8 190.8h.01M1180.1 191.6h.01M1181.2 191.4h.01M1183.5 190.5h.01M1185.1 185.7h.01M1186.5 190.3h.01M1188.2 188.4h.01M1190.7 186.5h.01M1191.9 191.3h.01M1194.2 191.7h.01M1195.9 193.1h.01M1197.9 194.2h.01M1199.4 192.0h.01M1200.6 193.5h.01M1203.5 192.1h.01M1205.1 190.4h.01M1206.0 194.6h.01M1208.5 199.7h.01M1209.8 203.4h.01M1212.1 202.9h.01M1213.7 206.8h.01M1215.6 203.4h.01M1217.1 199.5h.01M1218.9 200.1h.01M1220.3 200.7h.01M1222.8 201.1h.01M1224.0 200.7h.01M1226.3 194.8h.01M1227.9 197.1h.01M1230.2 193.3h.01M1231.9 200.5h.01M1233.5 203.5h.01M1235.2 208.6h.01M1237.1 207.5h.01M1238.9 206.7h.01M1241.2 203.7h.01M1241.9 206.6h.01M1243.7 205.0h.01M1246.2 200.1h.01M1247.5 204.0h.01M1250.1 200.1h.01M1251.7 204.0h.01M1253.2 205.0h.01M1255.2 210.2h.01M1257.5 207.8h.01M1259.1 206.2h.01M1260.2 213.0h.01M1262.4 202.2h.01M1263.9 210.2h.01M1265.9 206.9h.01M1267.2 199.9h.01M1268.9 199.7h.01M1271.2 215.1h.01M1272.6 212.7h.01M1275.4 212.4h.01M1277.0 212.3h.01M1278.6 210.4h.01M1280.3 211.6h.01M1282.3 202.6h.01M1283.8 206.0h.01M1285.5 204.4h.01M1287.7 204.6h.01M1289.0 207.6h.01M1290.8 204.9h.01M1293.2 208.6h.01M1295.2 208.9h.01M1296.0 208.8h.01M1298.0 209.3h.01M1300.4 207.9h.01M1301.4 209.3h.01M1304.1 214.0h.01M1305.1 212.9h.01M1306.9 212.4h.01M1309.6 209.6h.01M1310.6 209.5h.01M1312.3 205.2h.01M1314.6 207.9h.01M1315.8 203.2h.01M1318.0 209.4h.01M1319.6 207.5h.01M1321.3 211.1h.01M1324.1 215.0h.01M1325.0 220.2h.01M1327.3 219.6h.01M1328.5 231.3h.01M1330.4 233.8h.01M1332.7 228.5h.01M1334.5 221.8h.01M1336.0 229.9h.01M1337.9 229.5h.01M1339.7 233.6h.01M1341.5 232.9h.01M1342.7 234.0h.01M1344.9 217.0h.01M1346.5 223.0h.01M1349.2 219.6h.01M1350.5 219.9h.01M1352.6 216.6h.01M1353.8 213.6h.01M1356.2 212.6h.01M1358.1 210.1h.01M1359.1 212.2h.01M1361.7 212.6h.01M1363.4 213.5h.01M1365.2 213.3h.01M1367.1 218.7h.01M1368.1 219.5h.01M1369.7 221.1h.01M1372.0 216.1h.01M1373.4 223.4h.01M1375.8 217.5h.01M1376.9 214.5h.01M1379.0 220.4h.01M1380.6 220.0h.01M1383.1 221.3h.01M1384.3 221.5h.01M1386.4 215.7h.01M1388.4 213.6h.01M1390.0 210.6h.01M1391.3 209.5h.01M1393.3 207.2h.01M1394.9 207.5h.01M1397.4 202.7h.01M1399.2 209.3h.01M1400.5 203.7h.01M1402.9 210.8h.01M1404.7 210.8h.01M1405.7 204.8h.01M1407.9 209.7h.01M1410.2 205.4h.01M1412.2 204.7h.01M1413.4 206.5h.01M1415.6 200.2h.01M1417.7 204.4h.01M1419.3 201.6h.01M1420.8 206.1h.01M1423.0 199.7h.01M1424.8 208.5h.01M1426.5 191.5h.01M1428.5 209.0h.01M1429.6 211.8h.01M1431.1 209.7h.01M1432.8 207.7h.01M1434.8 210.1h.01M1437.0 212.8h.01M1438.6 214.3h.01M1441.1 210.0h.01M1442.1 215.2h.01M1443.7 212.6h.01M1445.5 210.5h.01M1447.5 213.7h.01M1448.9 216.5h.01M1451.1 217.7h.01M1453.7 217.9h.01M1454.4 217.0h.01M1456.4 221.3h.01M1458.8 228.1h.01M1460.8 228.5h.01M119.8 192.3h.01M120.8 198.2h.01M124.7 206.0h.01M129.6 202.1h.01M133.5 192.3h.01M136.5 180.5h.01M141.4 168.8h.01M144.3 163.9h.01M148.3 149.1h.01M149.2 135.4h.01M152.2 113.8h.01M156.1 109.9h.01M159.6 104.4h.01M162.0 113.8h.01M163.0 129.5h.01M165.9 139.3h.01M166.9 149.1h.01M172.8 151.1h.01M178.7 157.0h.01M182.6 151.1h.01M185.5 157.0h.01M188.5 172.7h.01M192.4 186.4h.01M197.3 177.6h.01M204.2 178.6h.01M210.1 173.7h.01M214.0 180.5h.01M219.9 184.5h.01M222.8 188.4h.01M227.7 190.4h.01M233.6 186.4h.01M237.6 172.7h.01M241.5 160.9h.01M245.4 149.1h.01M249.3 145.2h.01M254.2 142.9h.01M260.1 147.2h.01M266.0 152.1h.01M270.9 159.0h.01M275.8 172.7h.01M280.3 168.8h.01M283.7 180.5h.01M288.6 180.5h.01M294.5 182.5h.01M298.4 176.6h.01M301.3 166.8h.01M307.2 155.0h.01M316.0 154.6h.01M323.9 159.0h.01M327.8 170.7h.01M335.7 173.7h.01M345.5 171.7h.01M351.4 168.8h.01M357.3 159.0h.01M362.2 152.1h.01M369.0 159.0h.01M373.9 172.7h.01M378.8 188.4h.01M382.8 204.1h.01M387.8 180.5h.01M390.8 164.8h.01M393.7 160.9h.01M398.6 157.0h.01M400.6 149.1h.01M405.5 150.1h.01M411.4 151.1h.01M416.3 153.1h.01M421.2 159.0h.01M427.1 164.8h.01M433.0 166.8h.01M436.9 159.0h.01M442.8 158.6h.01M448.7 158.0h.01M453.6 149.1h.01M459.5 147.2h.01M462.4 155.0h.01M470.3 151.1h.01M476.2 154.0h.01M482.0 159.0h.01M486.9 159.0h.01M493.8 159.0h.01M499.7 159.0h.01M504.6 154.0h.01M510.5 148.2h.01M515.4 153.1h.01M521.3 151.1h.01M526.2 149.1h.01M529.1 145.2h.01M535.0 154.0h.01M540.9 159.0h.01M544.8 149.1h.01M546.4 144.2h.01M548.8 155.0h.01M554.6 157.0h.01M558.6 153.5h.01M563.5 155.0h.01M565.4 168.8h.01M568.4 178.6h.01M573.3 174.7h.01M578.2 172.7h.01M584.1 168.8h.01M589.0 162.9h.01M596.8 159.0h.01M603.7 160.9h.01M612.5 157.0h.01M619.4 159.9h.01M625.3 159.0h.01M633.1 158.0h.01M639.0 163.9h.01M644.9 162.9h.01M651.8 158.0h.01M655.9 162.7h.01M661.8 159.7h.01M669.6 162.7h.01M677.5 159.7h.01M684.3 153.9h.01M688.3 154.8h.01M689.2 141.1h.01M695.1 147.0h.01M698.1 123.4h.01M704.0 131.3h.01M706.9 122.5h.01M710.8 119.5h.01M715.7 112.7h.01M720.6 106.8h.01M725.5 97.9h.01M728.5 84.2h.01M733.4 95.0h.01M737.3 102.8h.01M741.2 111.7h.01M745.2 125.4h.01M750.1 115.6h.01M756.0 117.6h.01M760.9 109.7h.01M766.8 102.8h.01M770.7 113.6h.01M775.6 103.8h.01M779.5 104.8h.01M783.4 115.6h.01M787.4 127.4h.01M791.3 117.6h.01M796.2 119.5h.01M801.1 129.3h.01M806.0 141.1h.01M812.9 145.0h.01M816.8 142.1h.01M822.7 144.0h.01M828.6 132.3h.01M834.5 138.2h.01M841.3 131.3h.01M846.2 139.1h.01M850.2 135.2h.01M854.1 125.4h.01M858.0 137.2h.01M863.9 135.2h.01M869.8 143.1h.01M877.6 140.1h.01M885.5 141.1h.01M892.3 137.2h.01M896.3 126.4h.01M901.2 128.3h.01M905.1 137.2h.01M911.0 143.1h.01M918.8 145.0h.01M924.7 143.1h.01M925.9 145.2h.01M929.8 140.3h.01M935.7 145.2h.01M941.6 148.2h.01M947.5 145.2h.01M949.4 131.5h.01M952.4 145.2h.01M959.2 136.4h.01M965.1 139.3h.01M971.4 128.5h.01M975.9 137.4h.01M982.8 132.5h.01M988.7 130.5h.01M993.6 114.2h.01M996.5 127.6h.01M998.5 149.1h.01M1004.4 153.1h.01M1010.3 147.2h.01M1018.1 150.1h.01M1021.1 137.4h.01M1021.6 126.6h.01M1024.0 149.1h.01M1029.9 145.2h.01M1034.8 141.3h.01M1037.3 128.5h.01M1040.7 137.4h.01M1043.6 136.4h.01M1047.6 145.2h.01M1050.5 140.3h.01M1055.4 149.1h.01M1060.3 142.3h.01M1063.2 157.0h.01M1069.1 159.0h.01M1075.0 153.1h.01M1078.9 154.0h.01M1088.8 157.0h.01M1096.6 155.0h.01M1106.4 158.0h.01M1116.2 155.0h.01M1126.0 157.0h.01M1135.9 155.0h.01M1145.7 157.0h.01M1155.5 155.0h.01M1165.3 157.0h.01M1169.2 160.9h.01M1175.1 168.8h.01M1179.0 157.0h.01M1179.4 131.5h.01M1180.0 160.9h.01M1186.9 168.8h.01M1194.7 162.9h.01M1195.9 162.9h.01M1201.8 161.9h.01M1207.7 162.9h.01M1211.2 151.1h.01M1214.5 160.9h.01M1219.8 156.0h.01M1224.3 166.8h.01M1229.2 163.9h.01M1234.2 172.7h.01M1239.1 164.8h.01M1243.0 169.7h.01M1248.9 166.8h.01M1251.8 154.0h.01M1254.8 166.8h.01M1259.7 162.9h.01M1264.6 158.0h.01M1268.5 172.7h.01M1276.3 172.7h.01M1282.2 159.0h.01M1289.1 154.0h.01M1292.0 168.8h.01M1296.9 163.9h.01M1301.9 170.7h.01M1307.7 174.7h.01M1313.6 171.7h.01M1319.5 175.6h.01M1327.4 174.7h.01M1335.2 174.7h.01M1343.1 176.6h.01M1350.9 178.6h.01M1358.8 174.7h.01M1364.6 172.7h.01M1371.5 169.7h.01M1376.4 174.7h.01M1383.3 168.8h.01M1390.2 170.7h.01M1398.0 173.7h.01M1402.9 162.9h.01M1404.9 141.3h.01M1407.8 155.0h.01M1411.7 160.9h.01M1415.7 154.0h.01M1419.6 162.9h.01M1423.5 159.9h.01M1427.4 168.8h.01M1437.3 169.7h.01M1445.1 169.7h.01M1453.0 172.7h.01M1459.5 174.7h.01M119.8 241.7h.01M121.8 245.6h.01M124.7 263.2h.01M128.6 261.3h.01M133.5 264.2h.01M137.5 255.4h.01M140.4 243.6h.01M144.3 233.8h.01M149.2 229.9h.01M154.2 222.0h.01M159.1 218.1h.01M163.0 220.1h.01M168.9 212.2h.01M172.8 204.4h.01M178.7 203.4h.01M183.6 220.1h.01M187.5 233.8h.01M189.5 247.5h.01M192.4 261.3h.01M194.4 270.1h.01M198.3 270.1h.01M201.2 253.4h.01M204.2 245.6h.01M208.1 268.1h.01M210.1 255.4h.01M216.0 245.6h.01M219.9 257.4h.01M221.9 267.2h.01M226.8 264.2h.01M229.7 251.5h.01M233.6 241.7h.01M237.6 220.1h.01M242.5 202.4h.01M249.3 197.5h.01M252.3 184.8h.01M259.1 184.8h.01M264.0 198.5h.01M268.9 202.4h.01M272.9 220.1h.01M276.8 231.8h.01M280.7 222.0h.01M285.6 227.9h.01M290.5 226.0h.01M294.5 235.8h.01M298.4 243.6h.01M301.3 229.9h.01M304.3 212.2h.01M310.2 206.3h.01M315.1 192.6h.01M317.0 210.3h.01M320.9 218.1h.01M325.9 232.8h.01M331.7 229.9h.01M337.6 224.0h.01M343.5 228.9h.01M349.4 228.9h.01M355.3 220.1h.01M359.2 212.2h.01M365.1 224.0h.01M371.0 224.0h.01M374.9 235.8h.01M377.3 241.7h.01M381.8 233.8h.01M388.8 237.7h.01M394.7 250.5h.01M399.6 241.7h.01M404.5 231.8h.01M410.4 229.9h.01M417.3 225.0h.01M422.2 233.8h.01M425.5 245.6h.01M427.1 259.3h.01M430.0 269.1h.01M433.0 280.9h.01M434.9 265.2h.01M437.3 249.5h.01M438.9 233.8h.01M441.8 218.1h.01M445.7 208.3h.01M448.7 222.0h.01M450.3 239.7h.01M452.6 234.8h.01M455.5 210.3h.01M459.5 208.3h.01M461.4 184.8h.01M464.4 170.0h.01M469.3 173.0h.01M472.2 184.8h.01M476.2 182.8h.01M480.1 180.8h.01M486.9 179.8h.01M493.8 182.8h.01M499.7 184.8h.01M502.6 198.5h.01M505.6 186.7h.01M510.5 194.6h.01M514.4 202.4h.01M518.3 214.2h.01M523.2 226.0h.01M526.2 236.8h.01M531.1 229.9h.01M536.0 243.6h.01M539.9 233.8h.01M543.9 220.1h.01M546.4 206.3h.01M550.7 208.3h.01M553.7 227.9h.01M560.5 234.8h.01M565.4 245.6h.01M567.4 261.3h.01M568.4 272.1h.01M572.3 265.2h.01M578.2 262.3h.01M581.1 245.6h.01M586.0 237.7h.01M592.9 232.8h.01M595.9 214.2h.01M601.7 208.3h.01M608.6 212.2h.01M614.5 223.0h.01M620.4 219.1h.01M627.3 219.1h.01M635.1 214.2h.01M641.0 214.2h.01M645.9 226.9h.01M651.8 222.0h.01M655.9 219.9h.01M662.8 219.9h.01M667.7 210.1h.01M673.5 202.2h.01M679.4 194.4h.01M685.3 198.3h.01M692.2 191.4h.01M699.1 188.5h.01M704.9 193.4h.01M712.8 190.4h.01M720.6 187.5h.01M728.5 185.5h.01M732.4 174.8h.01M735.4 163.0h.01M738.3 147.3h.01M741.2 149.2h.01M744.2 161.0h.01M748.1 172.8h.01M753.0 181.6h.01M761.9 180.6h.01M771.7 181.6h.01M775.6 172.8h.01M780.5 174.8h.01M789.3 180.6h.01M797.2 178.7h.01M805.0 182.6h.01M812.9 190.4h.01M816.4 196.3h.01M820.7 188.5h.01M828.6 187.5h.01M836.4 182.6h.01M846.2 180.6h.01M854.1 182.6h.01M861.9 179.7h.01M868.8 185.5h.01M875.7 180.6h.01M883.5 178.7h.01M891.4 180.6h.01M897.3 176.7h.01M904.1 186.5h.01M911.0 183.6h.01M918.8 182.6h.01M925.9 184.8h.01M931.8 182.8h.01M937.7 185.7h.01M942.6 191.6h.01M947.5 184.8h.01M959.2 184.8h.01M971.0 183.8h.01M982.8 182.8h.01M992.6 184.8h.01M995.5 191.6h.01M1001.4 193.6h.01M1006.3 184.8h.01M1018.1 184.8h.01M1029.9 183.8h.01M1037.7 190.6h.01M1043.6 184.8h.01M1049.5 192.6h.01M1055.4 197.5h.01M1061.3 192.6h.01M1066.2 194.6h.01M1075.0 190.6h.01M1077.0 199.5h.01M1086.8 202.4h.01M1096.6 201.4h.01M1106.4 203.4h.01M1116.2 201.4h.01M1126.0 203.4h.01M1135.9 201.4h.01M1145.7 203.4h.01M1155.5 201.4h.01M1167.3 202.4h.01M1171.2 198.5h.01M1175.1 190.6h.01M1181.0 192.6h.01M1186.9 190.6h.01M1194.7 192.6h.01M1197.8 194.6h.01M1205.7 192.6h.01M1209.6 203.4h.01M1213.5 208.3h.01M1217.5 200.4h.01M1223.4 202.4h.01M1229.2 198.5h.01M1235.1 210.3h.01M1241.0 208.3h.01M1246.9 204.4h.01M1252.8 208.3h.01M1256.7 214.2h.01M1264.6 212.2h.01M1272.4 216.1h.01M1280.3 212.2h.01M1284.2 206.3h.01M1292.0 208.3h.01M1297.9 212.2h.01M1303.8 214.2h.01M1311.7 210.3h.01M1319.5 212.2h.01M1324.4 218.1h.01M1327.4 227.9h.01M1330.3 234.8h.01M1336.2 232.8h.01M1343.1 234.8h.01M1347.0 224.0h.01M1352.9 218.1h.01M1357.8 210.3h.01M1362.7 216.1h.01M1368.6 220.1h.01M1374.5 224.0h.01M1380.3 220.1h.01M1384.3 223.0h.01M1388.2 214.2h.01M1396.0 208.3h.01M1400.9 212.2h.01M1405.9 212.2h.01M1411.7 208.3h.01M1417.6 204.4h.01M1425.5 212.2h.01M1433.3 212.2h.01M1441.2 216.1h.01M1449.0 216.1h.01M1454.9 220.1h.01M1459.5 233.8h.01M1459.5 235.8h.01M229.7 173.8h.01M222.8 179.1h.01M208.1 270.4h.01M226.8 267.0h.01M326.4 235.6h.01M355.3 222.9h.01M264.0 201.3h.01M298.4 246.4h.01M280.3 166.6h.01M210.1 171.5h.01M401.2 127.3h.01M403.2 138.5h.01M423.6 135.2h.01M423.6 141.0h.01M529.1 138.5h.01M546.4 142.0h.01M410.4 238.2h.01M410.4 254.3h.01M475.2 195.0h.01M568.4 274.5h.01M646.3 229.7h.01M526.2 239.6h.01M430.6 161.5h.01M472.2 185.6h.01M502.6 201.3h.01M738.3 69.6h.01M738.3 72.0h.01M722.2 78.1h.01M738.3 83.4h.01M710.2 86.9h.01M722.2 86.9h.01M689.2 141.2h.01M689.2 144.2h.01M683.4 216.8h.01M683.4 221.7h.01M904.1 188.3h.01M698.1 123.6h.01M698.1 128.9h.01M816.4 198.7h.01M854.1 123.6h.01M993.6 111.4h.01M993.6 116.9h.01M1021.6 123.8h.01M1021.6 128.7h.01M1021.6 135.5h.01M1037.3 125.7h.01M1037.3 130.6h.01M949.4 128.7h.01M949.4 133.6h.01M949.4 141.4h.01M971.4 126.7h.01M1060.3 139.5h.01M1060.3 143.4h.01M1066.2 206.2h.01M1084.4 270.4h.01M1163.3 277.4h.01M1163.3 282.7h.01M1105.4 255.3h.01M1110.3 256.2h.01M1080.5 244.5h.01M1082.9 234.6h.01M1162.3 258.2h.01M1172.2 247.4h.01M1116.2 248.4h.01M1124.1 248.4h.01M1098.6 248.4h.01M1145.7 248.4h.01M1141.7 240.5h.01M1179.4 128.7h.01M1179.4 144.4h.01M1179.4 156.2h.01M942.6 194.4h.01M1184.9 201.3h.01M1175.1 205.2h.01M1173.1 217.0h.01M1173.1 226.8h.01M1172.2 237.6h.01M1163.3 244.5h.01M1165.3 255.3h.01M1152.5 242.5h.01M1153.5 228.4h.01M1092.7 234.6h.01M1090.3 227.4h.01M1080.5 217.0h.01M1080.5 222.9h.01M1080.5 226.8h.01M1097.6 237.6h.01M1130.9 238.6h.01M1125.1 240.5h.01M1109.4 236.6h.01M1116.2 232.7h.01M1139.8 239.6h.01M1161.4 230.7h.01M1148.6 220.9h.01M1131.9 215.0h.01M1092.7 92.4h.01M1099.6 96.3h.01M1163.3 99.2h.01M1098.6 108.1h.01M1092.7 112.0h.01M1100.5 116.9h.01M1086.8 122.8h.01M1094.6 126.7h.01M1116.2 126.7h.01M1124.1 122.8h.01M1141.7 114.9h.01M1143.7 122.8h.01M1161.4 114.9h.01M1167.3 117.9h.01M1161.4 127.7h.01M1167.3 128.7h.01M1141.7 128.7h.01M1137.8 122.8h.01M1120.2 119.9h.01M1160.4 102.2h.01M1090.7 118.9h.01M1180.0 127.7h.01M1339.5 159.1h.01M1339.5 164.0h.01M1251.8 138.5h.01M1253.2 138.5h.01M1239.5 142.4h.01M1239.5 145.4h.01M1239.5 151.2h.01M1289.1 150.7h.01M1212.2 217.0h.01M1212.2 227.4h.01M1232.2 217.6h.01M1239.5 220.9h.01M1285.2 223.5h.01M1285.2 243.5h.01M1285.2 254.9h.01M1325.4 257.2h.01M1325.4 277.4h.01M1250.8 209.1h.01M1211.2 148.3h.01M1252.4 151.2h.01M1404.9 139.5h.01M1405.9 140.5h.01M1403.9 151.2h.01M1415.7 151.8h.01M1423.5 157.7h.01M1325.2 257.6h.01M1325.2 277.6h.01M1325.2 337.5h.01M1325.2 355.4h.01M1325.2 414.6h.01M1325.2 441.4h.01M1325.2 496.5h.01M1084.6 270.4h.01M1163.4 277.6h.01M1163.4 283.5h.01M1285.5 223.8h.01M1285.5 243.0h.01M1285.5 245.5h.01M1285.5 254.6h.01M1212.3 227.7h.01M1239.5 222.0h.01M1405.5 60.5h.01M1405.5 63.0h.01M1405.5 66.5h.01M1405.5 104.0h.01M1136.1 154.1h.01M1079.8 150.0h.01M1138.7 156.5h.01M1150.3 156.0h.01M1095.8 146.3h.01M1139.9 145.4h.01M1090.2 152.3h.01M1078.2 154.6h.01M1092.8 145.5h.01M1112.0 151.1h.01M1113.8 146.0h.01M1113.4 143.3h.01M1103.8 147.0h.01M1169.2 153.6h.01M1133.9 155.3h.01M1131.7 145.6h.01M1079.7 157.2h.01M1142.8 148.5h.01M1078.3 149.8h.01M1172.0 154.3h.01M1166.5 148.2h.01M1160.7 146.8h.01M1168.0 155.9h.01M1087.1 146.1h.01M1136.3 156.9h.01M1125.3 153.3h.01M1088.2 147.6h.01M1080.2 144.2h.01M1142.6 148.2h.01M1146.5 145.2h.01M1137.6 155.0h.01M1113.8 157.2h.01M1147.9 144.6h.01M1101.6 145.1h.01M1135.9 145.5h.01M1154.6 153.3h.01M1120.6 145.2h.01M1165.6 157.4h.01M1154.7 150.4h.01M1163.3 156.0h.01M1134.2 154.4h.01M1118.8 155.5h.01M1127.4 145.7h.01M1122.1 154.6h.01M1120.6 149.9h.01M1138.5 155.0h.01M1134.8 148.3h.01M1159.6 153.3h.01M1167.9 150.8h.01M1101.0 146.0h.01M1153.9 153.1h.01M1171.6 154.7h.01M1145.3 156.0h.01M1079.9 145.9h.01M1170.3 153.3h.01M1081.1 157.8h.01M1092.7 156.4h.01M1102.0 149.2h.01M1171.2 144.1h.01M1136.6 147.2h.01M1096.0 153.3h.01M1080.7 147.4h.01M1167.6 147.4h.01M1097.4 152.6h.01M1101.4 145.4h.01M1158.0 152.1h.01M1076.9 148.7h.01M1169.6 156.1h.01M1145.7 149.5h.01M1123.5 148.8h.01M1092.1 151.9h.01M1126.3 150.4h.01M1132.3 156.9h.01M1077.5 144.8h.01M1150.0 145.0h.01M1154.5 151.0h.01M1154.2 147.0h.01M1124.8 147.4h.01M1150.8 156.2h.01M1078.5 144.9h.01M1130.6 152.2h.01M1076.5 154.2h.01M1082.3 143.0h.01M1097.5 143.2h.01M1117.6 151.6h.01M1152.7 155.9h.01M1122.2 153.2h.01M1123.4 147.6h.01M1146.6 151.7h.01M1154.8 150.2h.01M1153.5 157.6h.01M1143.5 144.0h.01M1088.5 154.9h.01M1077.2 144.0h.01M1155.5 143.7h.01M1097.8 152.7h.01M1144.7 145.0h.01M1151.3 149.2h.01M1172.8 146.2h.01M1140.0 151.6h.01M1138.7 156.2h.01M1148.0 150.3h.01M1136.3 156.7h.01M1127.3 150.6h.01M1129.7 152.3h.01M1165.8 146.5h.01M1103.9 157.6h.01M1159.0 149.8h.01M1099.5 144.3h.01M1087.7 156.0h.01M1150.2 150.2h.01M1164.3 143.4h.01M1084.2 149.4h.01M1148.2 144.3h.01M1123.7 146.2h.01M1136.9 148.3h.01M1133.3 154.9h.01M1133.9 152.7h.01M1118.2 155.8h.01M1169.1 145.7h.01M1082.0 128.5h.01M1078.2 137.9h.01M1146.2 135.1h.01M1135.8 134.4h.01M1096.8 129.1h.01M1159.5 135.0h.01M1098.2 132.2h.01M1125.8 141.4h.01M1134.6 132.7h.01M1077.2 142.2h.01M1129.4 132.4h.01M1106.5 136.6h.01M1171.5 134.0h.01M1111.6 132.7h.01M1130.6 135.0h.01M1093.7 131.1h.01M1173.1 134.5h.01M1077.6 128.9h.01M1116.0 128.7h.01M1157.5 138.7h.01M1152.5 129.4h.01M1115.8 139.7h.01M1144.5 134.7h.01M1083.0 138.4h.01M1111.7 136.0h.01M1131.2 142.8h.01M1089.3 140.9h.01M1076.6 134.3h.01M1126.6 130.0h.01M1126.5 138.3h.01M1172.0 136.3h.01M1156.3 140.3h.01M1101.4 136.1h.01M1091.3 138.0h.01M1150.0 138.5h.01M1112.9 141.3h.01M1127.8 133.7h.01M1077.0 132.3h.01M1089.5 128.4h.01M1077.7 132.0h.01M1113.3 130.0h.01M1101.5 130.1h.01M1130.9 139.5h.01M1078.6 129.8h.01M1155.5 134.5h.01M1172.9 129.9h.01M1135.2 128.2h.01M1103.9 136.0h.01M1099.3 134.7h.01M1152.5 129.8h.01M1115.3 134.6h.01M1165.9 136.0h.01M1133.6 129.6h.01M1116.8 128.8h.01M1080.1 136.7h.01M1135.4 133.9h.01M1121.6 135.7h.01M1151.6 133.5h.01M1154.4 137.9h.01M1082.9 135.4h.01M1098.8 140.5h.01M1083.3 139.3h.01M1112.9 139.9h.01M1122.3 135.1h.01M1090.5 128.2h.01M1166.5 137.3h.01M1079.1 138.2h.01M1159.7 138.6h.01M1169.2 141.9h.01M1079.2 133.4h.01M1160.3 131.1h.01M1079.3 136.7h.01M1144.9 132.6h.01M1103.1 138.7h.01M1090.8 138.0h.01M1162.2 138.3h.01M1147.2 137.2h.01M1161.7 133.1h.01M1117.2 142.5h.01M1140.4 130.7h.01M1113.9 133.8h.01M1162.8 138.3h.01M1100.7 129.5h.01M1121.2 142.3h.01M1145.4 139.5h.01M1088.0 115.8h.01M1145.0 108.2h.01M1160.0 108.2h.01M1130.3 100.4h.01M1095.4 113.2h.01M1133.0 114.2h.01M1130.9 110.5h.01M1167.9 104.8h.01M1138.3 125.5h.01M1170.4 122.6h.01M1098.4 97.8h.01M1135.0 114.9h.01M1149.7 121.3h.01M1161.1 126.5h.01M1094.1 100.6h.01M1106.2 109.6h.01M1090.1 109.8h.01M1174.8 126.7h.01M1073.9 126.1h.01M1126.1 94.5h.01M1171.9 119.5h.01M1130.0 111.0h.01M1090.9 113.6h.01M1131.5 108.7h.01M1116.8 103.2h.01M1099.9 110.2h.01M1128.4 107.1h.01M1085.7 106.1h.01M1077.5 120.0h.01M1078.7 94.7h.01M1140.4 127.0h.01M1149.5 94.4h.01M1118.5 110.0h.01M1102.2 107.4h.01M1118.3 217.3h.01M1138.3 218.1h.01M1075.7 221.4h.01M1118.1 223.1h.01M1105.2 222.9h.01M1108.2 224.9h.01M1148.0 209.6h.01M1134.5 208.3h.01M1152.3 207.5h.01M1084.7 209.7h.01M1152.0 224.3h.01M1099.4 212.9h.01M1078.1 209.5h.01M1122.6 212.3h.01M1127.7 215.8h.01M1143.7 207.7h.01M1138.9 215.1h.01M1118.1 224.3h.01M1075.5 208.5h.01M1081.3 206.2h.01M1116.8 215.6h.01M1127.8 206.7h.01M1135.7 220.8h.01M1147.8 223.6h.01M1161.7 211.2h.01M1175.5 211.7h.01M1088.5 218.2h.01M1110.4 223.6h.01M1163.7 213.1h.01M1148.9 216.8h.01M1151.5 206.8h.01M1095.5 224.4h.01M1121.7 215.2h.01M1095.8 217.9h.01M1120.0 219.3h.01M1152.6 217.3h.01M1133.5 216.7h.01M1081.2 218.8h.01M1075.9 217.2h.01M1159.3 210.2h.01M1087.5 207.2h.01M1088.6 206.8h.01M1124.0 219.7h.01M1118.3 208.3h.01M1101.6 211.7h.01M1127.6 214.8h.01M1111.7 223.9h.01M1171.2 212.7h.01M1146.7 214.3h.01M1140.4 215.3h.01M1150.8 223.8h.01M1078.8 215.4h.01M1113.0 216.6h.01M1144.8 212.0h.01M1111.6 210.9h.01M1160.8 218.2h.01M1088.1 220.6h.01M1098.2 222.5h.01M1169.2 216.3h.01M1133.5 219.8h.01M1148.1 211.9h.01M1128.4 213.8h.01M1083.0 211.7h.01M1096.9 215.6h.01M1142.7 207.4h.01M1165.8 219.0h.01M1134.4 224.0h.01M1096.6 217.7h.01M1165.1 213.2h.01M1121.9 214.1h.01M1159.6 224.6h.01M1105.2 221.4h.01M1099.3 211.8h.01M1137.9 211.8h.01M1167.2 209.2h.01M1149.1 214.9h.01M1134.5 208.5h.01M1094.9 210.7h.01M1150.4 210.9h.01M1104.6 211.7h.01M1136.6 219.3h.01M1162.3 208.3h.01M1109.0 217.2h.01M1155.4 217.5h.01M1080.6 222.7h.01M1145.6 220.7h.01M1113.5 220.4h.01M1077.1 224.3h.01M1126.1 214.0h.01M1141.2 212.5h.01M1159.9 221.0h.01M1170.2 215.4h.01M1154.4 206.8h.01M1151.0 224.5h.01M1107.1 210.5h.01M1138.8 231.9h.01M1116.5 236.6h.01M1096.5 229.2h.01M1159.5 229.0h.01M1165.5 235.7h.01M1119.2 237.4h.01M1120.9 232.7h.01M1112.0 238.8h.01M1152.6 233.4h.01M1087.8 225.4h.01M1149.9 236.2h.01M1135.3 237.9h.01M1135.6 225.4h.01M1171.0 228.6h.01M1131.6 241.0h.01M1141.9 225.1h.01M1127.2 232.0h.01M1087.9 231.9h.01M1103.0 232.2h.01M1147.2 234.4h.01M1120.7 238.7h.01M1164.1 239.3h.01M1165.9 233.0h.01M1129.3 235.5h.01M1082.7 240.1h.01M1097.8 237.8h.01M1099.3 234.8h.01M1095.3 238.4h.01M1152.9 230.9h.01M1084.6 227.7h.01M1081.2 238.0h.01M1153.8 240.9h.01M1166.1 232.4h.01M1161.2 229.1h.01M1162.1 226.3h.01M1119.0 230.6h.01M1132.2 232.3h.01M1081.1 227.2h.01M1092.2 238.8h.01M1141.7 226.5h.01M1154.3 232.6h.01M1169.3 226.3h.01M1119.2 235.6h.01M1137.9 230.3h.01M1133.8 242.8h.01M1110.8 226.9h.01M1152.8 230.9h.01M1148.9 235.7h.01M1106.4 233.3h.01M1127.0 234.2h.01M1157.5 235.3h.01M1110.8 232.7h.01M1148.9 230.8h.01M1131.7 226.9h.01M1101.8 238.2h.01M1093.9 225.9h.01M1105.0 230.3h.01M1115.7 225.6h.01M1103.3 242.9h.01M1138.2 240.2h.01M1082.8 230.8h.01M1097.6 232.9h.01M1134.6 249.2h.01M1171.7 245.1h.01M1162.7 250.3h.01M1104.2 253.9h.01M1112.0 252.9h.01M1170.2 249.1h.01M1111.9 253.5h.01M1155.7 243.4h.01M1162.3 247.9h.01M1169.2 243.2h.01M1084.5 247.4h.01M1086.4 248.3h.01M1132.6 250.3h.01M1096.0 254.1h.01M1089.2 253.1h.01M1162.0 252.4h.01" stroke="#1f77b4" stroke-width="5.6" stroke-linecap="round" fill="none"/>
<polyline points="117.5,215.0 118.8,224.8 123.7,226.8 125.7,228.8 127.7,224.8 130.6,227.2 133.5,233.7 136.5,220.9 138.5,222.9 142.4,198.3 144.3,206.2 146.9,193.4 148.3,198.3 151.2,189.5 153.2,162.0 155.5,178.7 159.1,159.1 161.4,192.5 163.4,173.4 165.5,193.0 167.9,175.8 170.8,177.7 173.8,176.2 176.7,181.3 178.7,180.1 180.6,182.1 182.6,179.7 185.5,193.4 188.5,211.1 190.5,217.0 192.0,215.0 193.4,228.8 194.8,221.9 197.3,234.6 200.3,220.9 202.2,216.0 203.8,218.9 206.2,213.1 208.1,215.0 211.1,204.2 213.6,216.0 215.6,207.2 217.9,218.9 221.9,231.7 225.4,235.6 228.7,223.9 231.3,226.8 234.6,211.1 238.5,193.4 241.9,179.7 243.4,185.6 247.4,166.0 249.3,166.9 251.7,162.0 254.2,161.1 256.2,166.9 258.7,160.5 261.5,173.8 264.0,169.9 266.0,174.8 268.9,169.9 271.9,181.7 274.4,193.4 276.8,209.1 279.7,188.5 281.7,197.4 284.6,206.2 287.6,197.4 289.6,200.3 291.5,198.3 295.4,210.1 298.4,205.2 302.3,183.6 306.2,172.8 308.2,175.8 310.2,172.8 311.7,181.7 314.1,169.9 316.0,167.9 319.0,182.6 322.9,174.8 325.9,189.5 327.8,189.5 331.7,202.3 335.7,196.4 339.6,193.4 342.5,190.5 345.5,185.6 347.4,191.5 352.3,182.6 357.3,168.9 359.2,174.8 362.2,168.9 365.1,183.6 368.0,193.4 371.4,177.7 374.9,209.1 378.8,218.0 382.8,216.0 386.9,213.1 388.8,207.2 390.8,214.0 392.8,200.3 395.3,213.1 397.7,204.2 401.6,200.3 403.9,189.5 406.5,197.4 410.4,193.4 412.4,199.3 415.3,189.9 418.3,192.5 421.2,195.4 423.2,193.4 426.1,199.3 428.7,213.1 430.6,212.1 433.0,226.8 435.9,197.4 438.5,172.8 440.8,171.9 443.2,166.0 445.7,171.9 448.1,166.0 450.3,173.8 452.2,187.6 455.0,166.0 456.9,174.8 460.1,160.1 463.4,162.0 466.7,156.2 469.3,164.0 473.2,166.9 476.2,165.0 479.1,171.9 482.0,174.8 485.0,171.9 486.9,168.9 491.9,168.9 494.8,172.8 497.3,165.0 499.7,167.9 502.6,166.9 508.5,169.9 511.5,166.9 514.4,172.8 516.4,171.9 518.3,177.7 520.3,174.8 522.3,183.6 524.8,198.3 528.2,178.7 530.1,185.6 532.1,182.6 534.0,193.4 537.0,198.3 538.6,193.4 539.9,197.4 542.9,185.6 545.8,176.8 548.8,179.7 551.7,177.7 554.6,189.5 557.6,184.6 560.1,193.4 562.5,193.4 565.4,207.2 568.4,218.9 571.3,223.9 574.3,218.0 576.2,217.0 579.2,205.2 581.1,205.2 585.1,185.6 588.0,181.7 590.9,187.6 593.9,179.7 596.8,176.2 599.8,179.7 602.7,177.7 605.7,180.7 608.6,177.7 611.6,181.7 614.5,180.1 617.4,182.6 619.8,191.5 621.8,187.6 624.3,193.4 626.3,192.5 628.2,181.7 629.6,189.5 632.2,177.7 635.1,178.7 638.0,183.6 642.0,177.7 644.9,183.6 647.9,180.7 651.8,175.8 654.7,178.7 656.9,178.5 658.8,175.6 660.8,171.7 662.8,180.5 665.7,179.5 668.6,180.5 670.6,178.5 673.2,181.5 675.5,172.6 677.5,174.6 679.4,171.7 682.4,177.6 684.3,179.5 687.3,175.6 690.2,169.7 693.2,175.6 695.5,169.3 698.7,171.7 702.0,177.6 704.9,173.6 707.3,174.6 709.9,169.7 712.4,167.7 714.8,163.4 716.7,169.7 719.1,160.9 721.0,167.7 724.6,167.3 726.9,144.2 728.9,150.1 730.8,125.5 732.8,131.4 734.8,124.6 737.3,117.1 739.3,126.5 740.7,134.4 742.2,135.4 744.2,144.2 747.1,144.2 750.1,131.4 752.4,145.2 755.0,147.1 756.9,156.9 758.9,150.1 760.9,158.9 762.8,146.2 764.8,147.1 767.3,141.2 769.7,149.1 771.7,153.0 774.0,122.6 776.0,121.6 777.9,128.5 779.5,142.2 783.4,146.2 787.4,152.0 789.7,155.0 793.2,146.2 796.8,156.0 799.5,151.1 802.1,161.9 804.0,163.8 806.6,156.0 808.9,162.8 810.9,168.7 812.9,163.8 815.8,171.7 818.4,177.6 820.3,162.8 822.3,170.7 824.3,162.8 826.6,171.7 829.6,162.8 832.5,163.8 835.4,152.0 837.4,158.9 840.0,151.1 841.9,152.0 844.3,165.8 847.2,152.0 850.2,147.1 853.1,156.9 854.5,154.0 857.0,169.7 859.0,156.0 860.9,152.0 862.9,144.2 865.9,176.6 868.8,165.8 871.7,163.8 875.7,144.2 878.6,153.0 880.6,154.0 882.5,161.9 885.5,154.0 887.8,148.1 891.0,160.9 894.3,143.2 898.2,146.2 903.1,145.2 907.1,159.9 911.0,170.7 913.9,169.7 916.5,172.6 919.2,161.9 921.8,156.0 924.7,165.8 927.5,171.9 929.8,160.1 932.2,156.2 934.7,159.1 937.3,164.0 939.6,166.9 942.0,171.9 943.9,168.9 945.9,177.7 947.9,166.9 949.8,177.7 952.4,169.9 954.3,172.8 956.3,164.0 958.9,149.3 961.2,170.9 964.2,167.9 967.1,166.9 969.5,171.9 971.4,157.1 974.0,173.8 975.9,160.1 978.9,162.0 981.8,161.1 985.7,158.1 987.7,166.0 989.7,173.8 992.2,169.9 994.6,172.8 996.9,178.7 998.9,176.8 1000.8,181.7 1002.8,170.9 1004.8,177.7 1007.3,173.8 1010.3,168.9 1013.2,171.9 1016.2,178.7 1019.1,172.8 1022.0,171.9 1024.4,166.9 1026.9,169.9 1028.9,166.0 1031.5,173.8 1033.8,165.0 1036.8,160.1 1039.7,174.8 1042.6,159.1 1044.6,177.7 1047.2,178.7 1049.5,171.9 1051.9,179.7 1054.4,177.7 1057.4,183.6 1060.3,176.8 1063.2,179.7 1066.2,177.7 1069.1,178.7 1072.1,177.7 1075.0,177.7 1078.0,179.7 1080.5,183.6 1083.9,181.7 1086.8,175.8 1089.7,181.7 1092.7,178.7 1095.6,177.7 1097.6,183.6 1100.1,176.8 1103.5,178.7 1106.4,179.7 1109.4,184.6 1112.3,179.7 1115.3,182.6 1118.2,177.7 1121.1,180.7 1124.1,175.8 1126.0,179.7 1127.6,174.8 1130.0,183.6 1132.3,177.7 1134.9,180.7 1137.4,175.8 1139.4,183.6 1141.4,173.8 1143.7,179.7 1146.1,184.6 1148.6,178.7 1151.2,175.8 1153.5,180.7 1156.5,177.7 1159.4,179.7 1161.0,175.8 1162.9,186.6 1165.3,179.7 1168.2,181.7 1170.2,179.7 1172.7,183.6 1175.1,177.7 1178.6,164.0 1181.0,173.8 1183.9,177.7 1186.5,176.8 1189.2,181.7 1191.8,189.5 1194.3,173.8 1196.3,179.7 1198.2,187.6 1200.8,176.8 1202.8,174.8 1205.7,179.7 1207.7,177.7 1209.6,172.8 1212.0,184.6 1214.5,177.7 1217.5,176.8 1220.4,182.6 1223.4,183.6 1225.7,187.6 1228.3,181.7 1231.2,184.6 1234.2,187.6 1237.1,185.6 1240.0,191.5 1243.0,186.6 1245.9,187.6 1248.9,183.6 1251.2,181.7 1253.8,181.7 1256.7,188.5 1259.7,191.5 1262.2,184.6 1264.6,189.5 1267.5,193.4 1270.1,189.5 1273.4,195.4 1276.3,190.5 1279.3,187.6 1282.2,183.6 1285.2,190.5 1288.1,185.6 1290.5,185.6 1292.0,192.5 1294.0,185.6 1296.4,181.7 1298.9,188.5 1302.8,190.5 1305.8,189.5 1308.7,192.5 1311.7,190.5 1314.6,191.5 1317.2,188.5 1319.5,193.4 1321.9,195.4 1325.0,212.1 1327.4,195.4 1329.7,205.2 1331.7,211.1 1334.2,195.4 1336.8,197.4 1339.1,194.4 1342.1,205.2 1345.0,198.3 1348.0,210.1 1350.9,204.2 1353.9,195.4 1356.8,191.5 1359.7,188.5 1362.7,189.5 1365.6,193.4 1368.6,200.3 1371.5,194.4 1374.5,201.3 1377.4,200.3 1380.0,200.3 1383.3,191.5 1386.2,190.5 1389.2,185.6 1392.1,186.6 1395.1,184.6 1398.0,184.6 1400.9,187.6 1402.9,189.5 1404.9,176.8 1406.8,185.6 1409.8,188.5 1412.7,183.6 1415.7,183.6 1418.6,187.6 1421.6,186.6 1424.5,189.5 1427.4,188.5 1430.4,187.6 1433.3,186.6 1436.3,188.5 1439.2,185.6 1442.2,190.5 1444.1,195.4 1447.1,187.6 1450.0,189.5 1453.0,191.5 1456.9,192.5 1459.8,197.4 1461.8,201.3" fill="none" stroke="#ff7f0e" stroke-width="2.3" stroke-linejoin="round"/>
</g>
<rect x="1047.7" y="48.5" width="405.5999999999999" height="79.5" rx="3.3" fill="#fff" fill-opacity="0.8" stroke="#ccc" stroke-opacity="0.8" stroke-width="1.1"/>
<circle cx="1073.6" cy="63.5" r="2.8" fill="#1f77b4"/>
<path d="M1053 101.9H1092" stroke="#ff7f0e" stroke-width="2.1"/>
<text x="1106.1" y="68.9" font-size="17.7" textLength="44.30000000000018" lengthAdjust="spacingAndGlyphs" text-anchor="start" >Raw</text>
<text x="1156.0" y="68.9" font-size="17.7" textLength="50.09999999999991" lengthAdjust="spacingAndGlyphs" text-anchor="start" >Data</text>
<text x="1106.1" y="95.3" font-size="17.7" textLength="127.40000000000009" lengthAdjust="spacingAndGlyphs" text-anchor="start" >Butterworth</text>
<text x="1239.4" y="95.3" font-size="17.7" textLength="80.5" lengthAdjust="spacingAndGlyphs" text-anchor="start" >Filtered</text>
<text x="1327.4" y="95.3" font-size="17.7" textLength="49.59999999999991" lengthAdjust="spacingAndGlyphs" text-anchor="start" >Data</text>
<text x="1106.1" y="116.2" font-size="17.7" textLength="59.600000000000136" lengthAdjust="spacingAndGlyphs" text-anchor="start" >(N=6,</text>
<text x="1171.1" y="116.2" font-size="17.7" textLength="108.80000000000018" lengthAdjust="spacingAndGlyphs" text-anchor="start" >Tc=3.3333</text>
<text x="1286.5" y="116.2" font-size="17.7" textLength="45.299999999999955" lengthAdjust="spacingAndGlyphs" text-anchor="start" >min,</text>
<text x="1338.8" y="116.2" font-size="17.7" textLength="54.90000000000009" lengthAdjust="spacingAndGlyphs" text-anchor="start" >Type:</text>
<text x="1400.2" y="116.2" font-size="17.7" textLength="45.09999999999991" lengthAdjust="spacingAndGlyphs" text-anchor="start" >low)</text>
<path d="M116.5 518.5v5M284.5 518.5v5M452.5 518.5v5M620.5 518.5v5M789.5 518.5v5M957.5 518.5v5M1125.5 518.5v5M1294.5 518.5v5M116.5 99.5h-5M116.5 180.5h-5M116.5 260.5h-5M116.5 340.5h-5M116.5 420.5h-5M116.5 500.5h-5" stroke="#000" stroke-width="1.1" fill="none"/>
<rect x="116.5" y="38.5" width="1346.0" height="480.0" fill="none" stroke="#000" stroke-width="1.1"/>
<rect x="668.2" y="575.5" width="785.8" height="479.0" fill="#e8e8e8"/>
<path d="M284.5 575.5V1054.5M452.5 575.5V1054.5M620.5 575.5V1054.5M789.5 575.5V1054.5M957.5 575.5V1054.5M1125.5 575.5V1054.5M1294.5 575.5V1054.5M116.5 1033.5H1462.5M116.5 969.5H1462.5M116.5 905.5H1462.5M116.5 841.5H1462.5M116.5 777.5H1462.5M116.5 713.5H1462.5M116.5 649.5H1462.5M116.5 585.5H1462.5" stroke="#b0b0b0" stroke-width="1" stroke-dasharray="1.1 1.83" fill="none"/>
<g clip-path="url(#cb)">
<polygon points="117.3,956.6 117.3,943.5 117.7,939.6 120.2,911.7 120.9,907.8 123.7,903.7 126.4,904.7 128.6,905.4 128.8,905.5 130.5,912.3 132.2,919.1 133.2,919.6 134.6,920.3 135.6,920.8 137.3,918.8 139.9,915.7 140.0,915.9 142.8,919.2 144.1,920.8 146.9,921.7 149.2,922.5 151.0,910.0 151.8,903.7 153.7,903.0 155.1,902.5 156.1,902.0 159.1,904.1 160.5,905.0 161.2,905.5 164.6,905.5 166.3,905.5 167.3,905.1 168.7,904.7 171.4,903.7 172.3,902.1 174.8,896.9 175.5,898.1 176.9,900.3 180.0,905.5 182.4,907.8 185.1,910.6 186.5,910.9 187.8,911.3 191.9,912.3 194.6,914.3 196.0,915.4 198.7,917.4 201.5,918.3 203.9,919.1 204.2,918.7 206.9,915.0 208.3,913.2 209.0,912.3 211.0,909.5 213.8,905.9 214.1,905.5 215.1,903.4 219.2,897.1 221.9,884.3 222.6,881.6 223.3,881.2 227.4,879.2 229.5,878.2 230.1,877.7 234.6,874.7 235.6,873.4 238.3,869.7 239.7,867.9 241.1,866.5 242.4,865.2 246.0,861.6 246.5,861.1 247.9,862.5 249.2,864.9 250.0,866.2 251.6,864.0 252.0,863.6 255.1,859.4 257.4,855.5 259.6,851.9 260.2,850.8 262.9,846.4 264.3,844.1 265.4,842.3 265.6,842.6 270.5,847.4 271.1,848.3 275.2,853.7 275.6,854.3 276.6,855.2 277.9,856.6 280.7,859.4 281.5,862.8 282.0,865.2 283.4,871.4 284.1,874.7 284.7,882.1 286.7,905.5 287.5,908.1 288.8,912.6 289.2,914.0 292.9,912.8 294.4,912.3 297.0,913.6 299.8,915.0 301.2,915.7 305.2,917.7 306.6,918.4 308.0,919.1 312.0,927.2 313.1,929.3 313.4,929.4 317.5,930.8 318.3,931.1 321.6,939.4 321.7,939.6 325.1,939.6 325.7,938.7 328.4,934.6 328.5,934.5 332.5,926.4 333.6,924.2 339.4,927.1 340.4,927.6 340.7,928.1 345.6,936.2 347.5,934.9 350.7,932.8 351.6,933.4 353.5,934.7 355.8,936.2 357.1,937.0 358.5,937.9 359.8,938.9 360.9,939.6 365.3,944.0 367.7,946.4 369.4,948.0 371.2,949.8 372.1,934.5 372.9,922.5 375.4,895.2 376.2,888.9 378.0,871.3 379.2,859.0 379.7,854.3 381.4,803.1 381.7,800.9 382.8,792.1 383.0,796.5 383.1,797.6 383.9,817.9 384.9,858.9 385.7,904.3 385.8,910.7 386.5,933.3 386.9,943.5 387.1,949.9 387.4,955.5 388.2,975.4 388.5,981.7 389.9,990.3 391.2,998.1 391.6,1000.6 392.6,1006.0 398.5,1011.2 400.7,1013.0 408.1,1009.9 409.2,1009.4 415.6,1011.3 417.7,1012.0 425.2,1013.0 426.3,1013.0 432.7,1009.9 435.9,998.0 438.0,972.4 439.1,958.5 440.1,944.7 442.3,908.4 443.3,893.2 443.8,887.1 445.0,878.5 447.2,887.1 447.6,891.3 449.7,912.7 451.9,934.0 452.9,931.1 455.1,925.5 457.8,908.4 458.0,894.0 458.3,872.1 458.5,851.8 459.8,841.0 461.5,841.0 463.5,868.0 464.0,867.2 464.7,866.1 466.0,864.0 468.0,854.0 469.0,849.7 470.0,845.4 471.0,841.0 473.0,827.7 474.0,821.0 475.3,805.6 477.0,786.0 478.5,725.0 479.0,706.0 480.6,698.0 483.2,704.0 483.9,721.1 484.5,737.9 485.0,751.0 486.0,787.7 486.5,806.0 487.1,808.7 489.0,818.0 490.3,788.9 490.5,783.2 491.5,760.0 492.0,759.4 493.5,757.5 495.4,755.0 496.7,757.4 498.0,760.0 499.0,798.3 499.2,806.0 499.9,827.3 500.0,832.0 500.9,848.7 501.3,891.3 502.0,929.7 503.1,936.1 504.1,942.5 506.3,959.6 509.5,974.5 511.6,978.8 512.7,980.9 515.4,976.6 518.0,989.4 521.2,1002.2 522.3,1005.8 524.4,1012.4 527.6,1020.0 532.9,1021.9 535.1,1021.6 539.3,1021.0 543.2,1014.5 546.8,1020.2 547.8,1018.5 551.0,1013.6 554.2,1020.2 560.6,1023.0 567.0,1023.9 573.4,1022.5 575.6,1022.0 582.0,1020.2 586.2,1018.9 588.4,1018.3 593.7,1016.3 596.5,1008.6 599.0,1012.1 600.1,1013.5 605.4,1016.4 611.8,1020.2 618.2,1023.1 622.5,1025.0 624.6,1024.0 628.9,1022.1 632.1,1012.7 634.2,1000.1 635.3,998.0 639.6,989.4 643.4,982.0 646.0,993.7 649.2,980.9 653.4,959.6 654.5,960.7 657.7,963.8 660.9,940.4 663.0,947.9 665.2,955.3 669.4,938.3 670.8,937.8 671.8,939.5 673.8,942.8 675.8,925.0 676.8,905.3 677.7,912.2 678.7,919.1 679.7,944.7 681.7,958.5 682.7,961.8 684.6,968.4 686.6,966.4 689.6,974.3 691.5,986.1 696.5,987.1 697.5,986.1 698.4,985.1 702.4,990.1 706.3,998.0 707.3,999.9 710.3,1005.8 714.2,1011.6 718.2,1011.6 719.1,1012.8 721.1,1015.1 725.1,1015.0 729.0,1018.5 732.0,1013.2 733.9,984.2 734.9,958.5 736.9,942.8 739.3,907.7 740.8,938.8 742.8,954.6 744.8,968.4 746.8,990.1 749.7,1001.9 752.7,1007.8 754.6,1006.3 756.6,1004.9 759.6,1007.8 762.1,1004.9 764.5,1008.3 765.5,1009.6 769.4,1010.4 772.0,994.0 773.4,974.3 774.4,969.4 775.3,964.4 777.9,974.3 779.3,984.2 780.3,982.5 782.2,979.2 786.2,978.4 787.2,978.2 790.1,986.1 792.1,998.0 795.1,998.0 798.0,993.5 799.0,992.0 801.0,1001.9 805.9,1003.9 807.9,984.2 810.2,973.3 812.2,990.1 813.8,1003.9 816.7,1001.9 817.7,999.2 819.3,995.0 822.7,999.9 825.6,1013.1 829.6,1011.4 831.1,994.0 833.1,980.2 835.9,982.2 837.4,968.4 838.4,964.4 840.4,982.2 841.4,988.1 842.4,994.0 845.3,986.1 848.3,978.2 849.7,972.3 851.6,990.1 853.2,999.8 854.2,1005.8 857.2,1001.9 858.1,986.1 862.1,984.2 865.0,998.0 867.0,1011.4 871.0,1011.5 872.9,992.0 874.9,990.1 876.9,1001.9 878.8,990.1 879.8,972.3 883.8,963.5 886.7,962.0 887.7,961.5 889.7,974.3 891.7,962.5 893.2,941.8 895.6,962.5 896.6,984.2 900.5,994.0 903.5,1005.8 906.5,1011.6 907.4,1013.4 910.4,1018.7 913.4,1025.7 916.3,1023.1 917.3,1022.3 920.3,1013.6 922.2,1010.8 925.2,1018.7 926.2,1018.3 929.1,1017.0 932.1,1011.8 935.0,1017.1 936.0,1017.5 940.0,1018.9 944.9,1013.7 945.9,1011.5 947.9,1009.3 949.5,1007.5 952.2,1013.4 953.8,1022.9 958.7,1021.9 959.7,1022.2 965.6,1023.7 971.5,1026.4 978.4,1026.4 981.0,1021.2 983.4,1019.1 986.3,1022.9 989.3,1028.1 992.2,1023.8 995.2,1023.0 997.6,1016.0 999.1,1008.5 1000.7,1006.9 1003.1,1012.5 1004.1,1026.4 1009.0,1028.2 1015.9,1024.7 1018.9,1026.8 1020.8,1028.2 1025.8,1024.4 1030.7,1026.4 1034.6,1024.7 1038.6,1028.3 1044.5,1028.0 1046.5,1029.5 1048.4,1031.0 1054.4,1030.1 1059.3,1027.5 1065.2,1028.0 1069.1,1031.4 1078.0,1031.6 1087.9,1031.4 1095.8,1031.0 1107.6,1030.1 1117.4,1031.6 1127.3,1031.0 1137.2,1031.6 1147.0,1031.4 1156.9,1031.0 1166.7,1031.0 1173.6,1029.3 1176.6,1023.2 1179.6,1018.8 1182.5,1018.2 1185.5,1023.0 1187.4,1016.1 1188.4,1008.0 1188.8,1004.6 1193.4,1001.6 1196.3,1000.6 1199.3,997.1 1203.2,1000.6 1204.2,1009.1 1204.6,1012.4 1208.1,1016.0 1211.1,1021.3 1213.1,1030.0 1216.0,1026.5 1220.0,1022.6 1220.6,1022.0 1221.5,1021.2 1224.2,1018.8 1226.9,1023.5 1230.4,1022.8 1234.0,1028.3 1236.6,1028.3 1239.3,1028.3 1242.8,1026.7 1247.3,1029.1 1252.6,1029.1 1254.4,1027.3 1255.2,1026.4 1258.8,1028.3 1263.2,1028.2 1267.7,1027.0 1272.1,1026.6 1275.3,1025.1 1278.3,1027.4 1284.5,1027.4 1288.1,1026.7 1289.8,1015.7 1292.5,1010.7 1293.4,1011.6 1295.2,1013.1 1297.8,1015.5 1299.6,1021.7 1302.3,1012.3 1304.0,1001.8 1306.7,997.9 1308.5,1005.4 1312.0,1003.6 1314.7,1005.4 1316.5,1015.5 1320.9,1014.7 1323.6,1014.0 1327.1,1018.7 1330.7,1012.5 1334.2,1007.1 1336.3,1010.7 1336.9,1015.1 1337.8,1021.9 1342.2,1018.6 1344.8,1012.6 1345.7,1010.7 1346.6,996.5 1348.4,992.9 1351.1,998.3 1351.9,1005.4 1352.8,1012.2 1356.4,1013.8 1359.0,1021.7 1360.8,1021.0 1364.4,1019.4 1368.8,1017.7 1369.7,1017.1 1371.8,1015.7 1375.0,1018.5 1379.4,1018.5 1380.3,1017.3 1383.0,1013.8 1385.7,1017.8 1387.4,1017.0 1391.0,1015.4 1395.4,1010.7 1396.7,1004.5 1398.1,1003.9 1399.0,1003.6 1400.7,1010.7 1402.5,1000.0 1404.3,996.5 1406.9,1003.6 1408.7,1004.8 1409.6,1005.4 1412.3,1004.5 1414.9,1009.8 1416.7,1015.3 1419.4,1013.4 1421.1,1012.1 1424.7,1008.9 1428.2,1006.1 1429.1,1005.4 1432.7,1001.8 1435.3,994.7 1437.1,993.8 1438.9,992.9 1442.4,987.6 1444.2,985.8 1446.0,984.1 1448.6,980.5 1449.5,982.0 1451.3,985.0 1454.0,989.4 1454.9,988.5 1456.6,986.7 1460.2,985.8 1461.8,984.1 1461.8,1019.3 1460.2,1020.2 1456.6,1021.9 1454.9,1022.8 1454.0,1022.5 1451.3,1021.6 1449.5,1021.1 1448.6,1021.6 1446.0,1023.4 1444.2,1024.6 1442.4,1024.4 1438.9,1023.9 1437.1,1023.7 1435.3,1024.1 1432.7,1024.6 1429.1,1025.3 1428.2,1025.5 1424.7,1026.2 1421.1,1026.9 1419.4,1027.3 1416.7,1027.6 1414.9,1027.8 1412.3,1028.1 1409.6,1028.4 1408.7,1028.5 1406.9,1028.4 1404.3,1028.4 1402.5,1028.3 1400.7,1028.2 1399.0,1028.2 1398.1,1028.1 1396.7,1028.3 1395.4,1028.4 1391.0,1028.7 1387.4,1029.0 1385.7,1028.8 1383.0,1028.5 1380.3,1028.1 1379.4,1028.1 1375.0,1028.1 1371.8,1028.1 1369.7,1028.1 1368.8,1028.3 1364.4,1029.0 1360.8,1029.6 1359.0,1029.1 1356.4,1028.4 1352.8,1027.5 1351.9,1027.3 1351.1,1027.4 1348.4,1027.7 1346.6,1027.9 1345.7,1028.0 1344.8,1028.1 1342.2,1029.0 1337.8,1030.5 1336.9,1030.8 1336.3,1030.8 1334.2,1030.6 1330.7,1030.2 1327.1,1029.9 1323.6,1029.6 1320.9,1029.4 1316.5,1029.0 1314.7,1028.6 1312.0,1027.8 1308.5,1026.9 1306.7,1026.4 1304.0,1028.0 1302.3,1029.0 1299.6,1029.0 1297.8,1029.0 1295.2,1029.0 1293.4,1029.0 1292.5,1029.4 1289.8,1030.6 1288.1,1031.3 1284.5,1031.2 1278.3,1031.0 1275.3,1030.9 1272.1,1030.8 1267.7,1031.0 1263.2,1031.3 1258.8,1031.5 1255.2,1031.7 1254.4,1031.7 1252.6,1031.7 1247.3,1031.7 1242.8,1031.7 1239.3,1031.7 1236.6,1031.7 1234.0,1031.5 1230.4,1031.4 1226.9,1031.2 1224.2,1031.0 1221.5,1030.9 1220.6,1030.8 1220.0,1030.9 1216.0,1031.5 1213.1,1031.9 1211.1,1031.3 1208.1,1030.5 1204.6,1029.5 1204.2,1029.3 1203.2,1029.7 1199.3,1030.9 1196.3,1031.9 1193.4,1031.5 1188.8,1031.0 1188.4,1030.9 1187.4,1031.1 1185.5,1031.3 1182.5,1031.7 1179.6,1032.1 1176.6,1032.5 1173.6,1032.5 1166.7,1032.5 1156.9,1032.5 1147.0,1032.5 1137.2,1032.5 1127.3,1032.5 1117.4,1032.5 1107.6,1032.5 1095.8,1032.5 1087.9,1032.5 1078.0,1032.5 1069.1,1032.5 1065.2,1032.5 1059.3,1032.5 1054.4,1032.5 1048.4,1032.5 1046.5,1032.5 1044.5,1032.2 1038.6,1031.4 1034.6,1030.9 1030.7,1030.8 1025.8,1030.7 1020.8,1030.6 1018.9,1030.5 1015.9,1030.6 1009.0,1030.7 1004.1,1030.8 1003.1,1030.8 1000.7,1030.9 999.1,1030.9 997.6,1030.8 995.2,1030.7 992.2,1030.5 989.3,1030.3 986.3,1030.1 983.4,1029.9 981.0,1030.1 978.4,1030.2 971.5,1030.5 965.6,1029.9 959.7,1029.3 958.7,1029.5 953.8,1030.1 952.2,1030.3 949.5,1030.7 947.9,1030.9 945.9,1030.9 944.9,1030.8 940.0,1030.7 936.0,1030.6 935.0,1030.5 932.1,1030.1 929.1,1029.6 926.2,1029.2 925.2,1029.3 922.2,1029.6 920.3,1029.8 917.3,1030.1 916.3,1030.2 913.4,1029.6 910.4,1029.0 907.4,1028.4 906.5,1028.2 903.5,1027.4 900.5,1026.5 896.6,1025.3 895.6,1025.2 893.2,1024.9 891.7,1024.8 889.7,1024.6 887.7,1024.4 886.7,1024.3 883.8,1025.5 879.8,1027.1 878.8,1027.4 876.9,1028.2 874.9,1027.9 872.9,1027.6 871.0,1027.3 867.0,1026.6 865.0,1026.3 862.1,1026.0 858.1,1025.7 857.2,1025.6 854.2,1025.4 853.2,1025.3 851.6,1025.4 849.7,1025.6 848.3,1025.7 845.3,1025.9 842.4,1026.2 841.4,1026.3 840.4,1026.3 838.4,1026.3 837.4,1026.3 835.9,1026.3 833.1,1026.3 831.1,1026.3 829.6,1026.3 825.6,1025.9 822.7,1025.7 819.3,1025.4 817.7,1025.3 816.7,1025.4 813.8,1025.9 812.2,1026.2 810.2,1026.5 807.9,1026.9 805.9,1027.3 801.0,1024.8 799.0,1023.8 798.0,1023.3 795.1,1023.3 792.1,1023.3 790.1,1023.3 787.2,1023.3 786.2,1023.3 782.2,1021.3 780.3,1020.4 779.3,1021.0 777.9,1021.9 775.3,1023.6 774.4,1024.3 773.4,1024.5 772.0,1024.8 769.4,1025.3 765.5,1026.1 764.5,1026.3 762.1,1026.3 759.6,1026.3 756.6,1026.3 754.6,1026.3 752.7,1025.8 749.7,1025.0 746.8,1024.3 744.8,1023.0 742.8,1021.7 740.8,1020.4 739.3,1022.3 736.9,1025.3 734.9,1025.8 733.9,1026.0 732.0,1026.5 729.0,1027.3 725.1,1027.6 721.1,1028.0 719.1,1028.2 718.2,1028.2 714.2,1027.8 710.3,1027.5 707.3,1027.3 706.3,1027.3 702.4,1027.3 698.4,1027.3 697.5,1027.3 696.5,1026.9 691.5,1025.0 689.6,1024.3 686.6,1025.1 684.6,1025.7 682.7,1026.3 681.7,1024.3 679.7,1020.4 678.7,1018.4 677.7,1016.4 676.8,1017.6 675.8,1018.7 673.8,1021.0 671.8,1023.3 670.8,1023.0 669.4,1022.6 665.2,1021.4 663.0,1020.8 660.9,1021.4 657.7,1022.2 654.5,1023.0 653.4,1023.4 649.2,1025.0 646.0,1026.2 643.4,1026.7 639.6,1027.4 635.3,1028.3 634.2,1028.4 632.1,1028.6 628.9,1028.9 624.6,1029.4 622.5,1029.3 618.2,1029.1 611.8,1028.9 605.4,1028.1 600.1,1027.4 599.0,1027.2 596.5,1027.4 593.7,1027.7 588.4,1028.1 586.2,1028.3 582.0,1028.3 575.6,1028.3 573.4,1028.3 567.0,1028.3 560.6,1028.3 554.2,1028.3 551.0,1028.3 547.8,1028.3 546.8,1028.2 543.2,1027.9 539.3,1027.6 535.1,1027.2 532.9,1027.0 527.6,1026.6 524.4,1026.3 522.3,1026.2 521.2,1025.9 518.0,1025.3 515.4,1024.8 512.7,1024.2 511.6,1024.0 509.5,1023.2 506.3,1022.0 504.1,1021.2 503.1,1020.8 502.0,1018.7 501.3,1017.4 500.9,1016.6 500.0,1014.7 499.9,1014.4 499.2,1011.8 499.0,1011.0 498.0,1007.0 496.7,1001.6 495.4,998.3 493.5,993.1 492.0,997.0 491.5,998.3 490.5,1001.0 490.3,1001.6 489.0,1005.8 487.1,1012.3 486.5,1010.4 486.0,1008.8 485.0,1005.4 484.5,1003.8 483.9,1001.6 483.2,1001.1 480.6,999.0 479.0,997.7 478.5,997.4 477.0,1006.5 475.3,1016.6 474.0,1014.4 473.0,1012.8 471.0,1009.6 470.0,1008.0 469.0,1006.8 468.0,1005.6 466.0,1003.2 464.7,1001.6 464.0,1002.9 463.5,1003.9 461.5,1007.9 459.8,1011.3 458.5,1013.9 458.3,1014.4 458.0,1014.7 457.8,1014.9 455.1,1017.6 452.9,1019.8 451.9,1019.1 449.7,1017.8 447.6,1016.6 447.2,1016.1 445.0,1014.0 443.8,1012.7 443.3,1012.3 442.3,1014.2 440.1,1017.9 439.1,1019.8 438.0,1019.9 435.9,1020.3 432.7,1020.8 426.3,1023.6 425.2,1024.0 417.7,1023.2 415.6,1023.0 409.2,1024.8 408.1,1025.1 400.7,1023.4 398.5,1020.9 392.6,1018.4 391.6,1017.9 391.2,1017.7 389.9,1015.6 388.5,1013.2 388.2,1012.7 387.4,1011.3 387.1,1010.9 386.9,1010.3 386.5,1009.7 385.8,1008.2 385.7,1008.0 384.9,1006.5 383.9,1004.3 383.1,1002.8 383.0,1002.7 382.8,1002.7 381.7,1002.7 381.4,1002.7 379.7,1002.7 379.2,1002.7 378.0,1002.7 376.2,1002.7 375.4,1003.0 372.9,1004.0 372.1,1004.3 371.2,1004.7 369.4,1005.4 367.7,1006.0 365.3,1007.0 360.9,1008.6 359.8,1009.0 358.5,1009.5 357.1,1009.9 355.8,1010.2 353.5,1010.8 351.6,1011.2 350.7,1011.5 347.5,1012.3 345.6,1011.3 340.7,1008.8 340.4,1008.7 339.4,1008.2 333.6,1006.7 332.5,1006.5 328.5,1005.4 328.4,1005.4 325.7,1007.5 325.1,1007.9 321.7,1010.5 321.6,1010.5 318.3,1013.1 317.5,1013.6 313.4,1011.1 313.1,1010.9 312.0,1010.2 308.0,1007.7 306.6,1006.8 305.2,1006.6 301.2,1006.0 299.8,1005.8 297.0,1005.4 294.4,1007.2 292.9,1008.2 289.2,1010.6 288.8,1010.9 287.5,1008.7 286.7,1007.4 284.7,1004.3 284.1,1003.4 283.4,1002.2 282.0,1000.0 281.5,999.1 280.7,998.0 277.9,993.8 276.6,991.8 275.6,992.3 275.2,992.5 271.1,994.5 270.5,994.4 265.6,993.6 265.4,993.6 264.3,993.4 262.9,993.1 260.2,994.5 259.6,994.8 257.4,995.9 255.1,995.5 252.0,995.0 251.6,994.9 250.0,994.6 249.2,994.5 247.9,994.7 246.5,995.0 246.0,995.1 242.4,995.6 241.1,995.9 239.7,994.5 238.3,993.1 235.6,990.4 234.6,990.1 230.1,988.6 229.5,988.4 227.4,987.7 223.3,988.4 222.6,988.5 221.9,988.6 219.2,989.0 215.1,985.0 214.1,983.9 213.8,983.6 211.0,989.0 209.0,993.1 208.3,994.5 206.9,994.0 204.2,992.9 203.9,992.7 201.5,991.8 198.7,985.0 196.0,978.1 194.6,980.9 191.9,986.3 187.8,995.9 186.5,996.9 185.1,997.9 182.4,1000.0 180.0,997.6 176.9,994.5 175.5,993.1 174.8,993.0 172.3,992.6 171.4,992.5 168.7,992.0 167.3,991.8 166.3,991.3 164.6,990.4 161.2,988.7 160.5,988.4 159.1,987.7 156.1,982.3 155.1,980.5 153.7,978.1 151.8,986.6 151.0,990.4 149.2,991.5 146.9,993.1 144.1,995.0 142.8,995.9 140.0,998.1 139.9,998.3 137.3,1000.4 135.6,1001.8 134.6,1002.7 133.2,1001.8 132.2,1001.1 130.5,1000.0 128.8,998.8 128.6,998.7 126.4,997.2 123.7,1003.4 120.9,1009.5 120.2,1008.8 117.7,1006.3 117.3,1005.4 117.3,1005.4" fill="#1f77b4" stroke="#1f77b4" stroke-width="1.2" stroke-linejoin="round"/>
<path d="M117.2 941.2h.01M119.9 919.0h.01M121.4 907.8h.01M123.3 902.1h.01M124.2 903.2h.01M127.1 902.2h.01M127.8 905.0h.01M130.4 907.8h.01M131.9 916.1h.01M133.3 917.1h.01M135.4 919.6h.01M136.9 916.2h.01M138.6 915.2h.01M140.9 913.9h.01M143.0 916.1h.01M144.7 922.1h.01M145.9 927.4h.01M148.0 920.6h.01M150.3 914.8h.01M152.3 901.5h.01M154.1 903.2h.01M155.8 899.3h.01M157.4 909.5h.01M159.1 903.3h.01M161.1 903.9h.01M162.6 904.8h.01M164.5 903.8h.01M166.6 904.9h.01M167.7 906.2h.01M169.4 904.9h.01M171.5 902.4h.01M172.8 900.7h.01M174.7 894.6h.01M176.5 900.0h.01M179.2 902.6h.01M180.2 904.5h.01M182.2 907.3h.01M183.7 908.1h.01M185.7 911.0h.01M187.7 920.7h.01M190.0 911.9h.01M190.7 921.3h.01M192.6 917.9h.01M195.2 920.2h.01M197.0 913.6h.01M198.4 916.5h.01M200.2 917.7h.01M202.3 918.5h.01M204.1 915.9h.01M206.1 917.1h.01M207.5 913.4h.01M208.9 909.1h.01M210.6 913.0h.01M212.4 910.8h.01M214.8 902.5h.01M216.4 898.2h.01M218.2 900.1h.01M219.6 890.3h.01M221.4 890.2h.01M223.9 881.1h.01M225.6 877.9h.01M226.9 879.5h.01M229.6 876.0h.01M230.9 874.7h.01M233.0 874.6h.01M234.8 877.4h.01M236.3 872.2h.01M238.2 867.1h.01M240.2 866.2h.01M241.2 864.1h.01M243.9 862.4h.01M245.5 861.2h.01M246.8 858.6h.01M248.9 862.0h.01M251.2 862.5h.01M251.9 860.9h.01M254.3 858.1h.01M256.5 857.4h.01M258.5 851.8h.01M259.7 854.3h.01M261.3 848.7h.01M262.7 843.0h.01M265.6 849.3h.01M267.0 842.4h.01M268.9 844.4h.01M270.8 844.6h.01M272.4 847.2h.01M274.5 852.0h.01M275.5 854.2h.01M277.5 858.2h.01M279.9 857.4h.01M280.8 870.2h.01M282.9 868.7h.01M284.8 886.4h.01M287.1 909.5h.01M288.8 909.9h.01M289.8 913.8h.01M291.7 910.9h.01M293.8 914.6h.01M296.0 910.8h.01M297.1 923.5h.01M299.0 915.1h.01M301.4 917.1h.01M303.0 917.7h.01M305.1 914.6h.01M306.6 915.5h.01M308.0 926.1h.01M310.3 922.0h.01M311.7 926.8h.01M314.2 927.9h.01M315.1 930.7h.01M317.7 930.9h.01M319.6 932.7h.01M320.6 935.4h.01M322.4 942.4h.01M324.1 936.8h.01M326.7 941.0h.01M328.4 932.5h.01M330.0 929.1h.01M331.8 924.9h.01M333.5 925.4h.01M334.8 924.8h.01M337.4 924.6h.01M339.2 925.1h.01M341.1 927.6h.01M342.3 931.9h.01M344.7 936.0h.01M346.4 934.3h.01M348.0 933.0h.01M349.7 931.4h.01M352.0 931.2h.01M353.4 934.2h.01M355.1 934.7h.01M357.1 934.3h.01M358.5 936.7h.01M360.1 938.3h.01M362.6 940.9h.01M363.7 940.9h.01M366.0 951.7h.01M367.2 944.3h.01M369.2 947.5h.01M371.6 951.3h.01M373.0 917.8h.01M374.6 897.9h.01M377.2 883.3h.01M379.1 864.7h.01M379.8 833.7h.01M382.0 799.7h.01M383.8 817.3h.01M385.4 906.1h.01M387.6 955.6h.01M389.4 986.5h.01M391.5 994.6h.01M393.0 1004.4h.01M394.3 1008.8h.01M396.4 1007.9h.01M398.0 1010.1h.01M399.8 1010.6h.01M401.7 1011.4h.01M404.1 1013.4h.01M405.4 1010.5h.01M407.4 1010.5h.01M409.6 1009.3h.01M411.2 1007.4h.01M412.6 1011.7h.01M413.9 1009.1h.01M415.9 1012.5h.01M417.6 1009.8h.01M420.1 1011.0h.01M421.9 1013.6h.01M424.0 1010.6h.01M425.7 1013.6h.01M427.5 1013.6h.01M429.2 1011.1h.01M431.3 1008.6h.01M432.4 1007.7h.01M434.3 1002.6h.01M436.1 993.0h.01M438.1 971.5h.01M439.5 947.1h.01M441.4 921.3h.01M443.3 890.4h.01M445.1 883.5h.01M446.8 886.7h.01M448.7 911.0h.01M450.7 922.2h.01M452.2 934.7h.01M454.7 932.7h.01M456.4 923.9h.01M457.5 907.4h.01M459.9 847.0h.01M461.4 840.5h.01M463.2 859.4h.01M464.9 862.7h.01M466.8 858.1h.01M468.3 849.1h.01M470.4 845.2h.01M472.7 830.9h.01M473.8 818.5h.01M475.8 801.7h.01M478.0 766.0h.01M479.3 701.6h.01M481.2 696.8h.01M483.1 702.0h.01M484.7 744.8h.01M486.6 804.5h.01M488.8 812.0h.01M490.1 790.8h.01M492.3 761.8h.01M494.0 771.8h.01M495.4 754.3h.01M497.4 760.0h.01M499.2 799.0h.01M500.7 848.4h.01M503.0 936.1h.01M504.3 948.9h.01M506.4 959.8h.01M507.9 966.2h.01M510.3 972.5h.01M511.5 976.8h.01M513.6 977.3h.01M515.7 975.7h.01M516.9 982.1h.01M519.3 995.3h.01M520.6 997.3h.01M523.1 1014.1h.01M524.6 1010.1h.01M525.6 1014.8h.01M527.5 1020.8h.01M529.6 1024.1h.01M531.5 1021.7h.01M533.6 1022.5h.01M534.5 1020.2h.01M537.0 1019.9h.01M538.2 1019.5h.01M540.0 1017.6h.01M542.5 1014.1h.01M544.4 1013.9h.01M545.7 1017.1h.01M548.1 1017.3h.01M549.9 1013.6h.01M551.9 1011.5h.01M553.4 1016.7h.01M555.1 1019.4h.01M556.3 1020.8h.01M559.0 1020.6h.01M560.0 1021.5h.01M562.4 1021.7h.01M563.3 1023.4h.01M565.2 1024.1h.01M567.5 1023.0h.01M569.1 1022.2h.01M571.4 1022.1h.01M572.6 1021.3h.01M574.4 1024.4h.01M577.0 1020.2h.01M578.0 1022.4h.01M580.5 1019.7h.01M581.7 1018.7h.01M583.3 1017.7h.01M585.5 1018.3h.01M587.2 1019.1h.01M589.0 1016.3h.01M590.9 1015.3h.01M592.3 1016.1h.01M595.1 1013.0h.01M596.1 1008.5h.01M597.6 1009.8h.01M600.3 1010.7h.01M601.8 1013.7h.01M603.3 1014.1h.01M605.3 1016.6h.01M607.4 1017.6h.01M609.3 1016.8h.01M610.8 1018.0h.01M613.0 1020.8h.01M613.9 1020.6h.01M616.5 1020.6h.01M617.5 1021.7h.01M619.6 1023.0h.01M621.1 1024.3h.01M623.8 1023.8h.01M625.0 1022.5h.01M626.5 1021.9h.01M628.5 1020.6h.01M630.1 1016.2h.01M632.1 1010.5h.01M634.5 998.7h.01M635.8 997.7h.01M637.7 990.9h.01M639.8 989.5h.01M640.7 986.1h.01M643.7 979.9h.01M644.9 988.0h.01M647.0 988.0h.01M648.3 985.7h.01M649.8 973.0h.01M652.1 964.2h.01M653.3 958.6h.01M655.4 959.0h.01M658.1 965.8h.01M659.3 954.9h.01M661.6 939.2h.01M663.1 948.4h.01M665.2 954.1h.01M666.2 949.0h.01M668.8 943.6h.01M670.0 935.6h.01M672.3 940.7h.01M674.1 939.5h.01M675.1 925.1h.01M677.3 906.0h.01M678.7 927.3h.01M680.5 953.6h.01M683.3 966.6h.01M683.9 965.9h.01M686.3 963.7h.01M688.4 968.5h.01M689.6 974.6h.01M692.3 983.5h.01M693.7 987.7h.01M695.2 984.4h.01M697.3 987.5h.01M698.7 983.5h.01M700.2 989.8h.01M702.7 990.2h.01M704.4 992.9h.01M705.9 1001.8h.01M708.2 1001.6h.01M709.2 1004.7h.01M711.4 1007.1h.01M713.8 1007.5h.01M715.1 1009.1h.01M716.4 1009.3h.01M718.8 1009.9h.01M720.8 1013.4h.01M722.0 1012.8h.01M724.1 1015.3h.01M725.9 1015.4h.01M727.1 1015.9h.01M730.0 1017.9h.01M731.0 1013.8h.01M733.3 996.4h.01M734.8 956.9h.01M736.4 947.7h.01M738.0 918.5h.01M739.8 925.1h.01M742.6 946.8h.01M743.9 961.6h.01M745.8 975.8h.01M747.0 990.3h.01M749.0 998.1h.01M751.2 1004.9h.01M752.6 1006.5h.01M754.2 1004.2h.01M757.1 1002.5h.01M758.1 1005.7h.01M760.6 1006.1h.01M761.9 1005.7h.01M763.2 1004.3h.01M765.9 1006.7h.01M767.5 1009.8h.01M768.7 1009.8h.01M770.3 1000.1h.01M772.8 980.7h.01M774.4 965.5h.01M776.7 966.2h.01M777.7 973.8h.01M779.5 983.3h.01M782.2 988.6h.01M783.6 990.0h.01M784.9 976.0h.01M787.0 978.8h.01M788.6 983.3h.01M791.1 988.9h.01M792.9 995.6h.01M794.5 995.2h.01M795.8 993.3h.01M797.5 990.7h.01M800.1 994.5h.01M802.0 1003.0h.01M803.8 1000.3h.01M805.3 1001.7h.01M806.6 994.5h.01M808.6 978.1h.01M810.8 973.6h.01M812.5 993.7h.01M814.5 1000.6h.01M816.5 1002.8h.01M818.2 996.7h.01M819.6 993.6h.01M821.0 995.4h.01M823.2 1000.1h.01M825.0 1007.7h.01M826.4 1010.9h.01M828.3 1010.9h.01M830.0 1000.3h.01M832.2 985.7h.01M834.4 977.8h.01M836.2 979.1h.01M837.3 965.0h.01M839.5 970.3h.01M840.7 983.5h.01M843.4 994.6h.01M844.2 984.8h.01M846.3 981.1h.01M848.8 978.4h.01M849.9 976.0h.01M851.4 989.2h.01M854.1 999.7h.01M855.3 1005.5h.01M857.7 997.1h.01M859.0 983.2h.01M860.3 988.1h.01M862.3 985.1h.01M865.0 994.0h.01M866.6 1010.4h.01M868.0 1012.0h.01M870.2 1011.0h.01M871.5 1006.8h.01M873.1 993.9h.01M875.8 991.9h.01M877.4 1001.1h.01M878.7 986.5h.01M881.1 969.6h.01M882.5 963.9h.01M884.5 964.1h.01M885.6 960.0h.01M887.5 960.8h.01M889.7 973.5h.01M892.0 960.4h.01M892.9 946.5h.01M895.6 955.8h.01M896.5 981.8h.01M899.1 987.6h.01M900.5 990.9h.01M902.5 1001.6h.01M904.3 1005.2h.01M905.9 1009.9h.01M907.9 1011.6h.01M909.0 1017.1h.01M911.2 1020.1h.01M912.9 1023.8h.01M915.3 1022.9h.01M916.6 1021.9h.01M918.9 1019.3h.01M919.7 1011.4h.01M921.8 1009.6h.01M923.4 1014.2h.01M926.1 1018.5h.01M927.9 1015.6h.01M928.9 1014.3h.01M930.8 1012.1h.01M932.7 1011.2h.01M935.0 1016.2h.01M936.2 1018.5h.01M938.7 1016.2h.01M939.6 1017.1h.01M941.6 1015.3h.01M943.6 1013.8h.01M945.8 1009.6h.01M946.9 1011.8h.01M949.1 1005.3h.01M951.5 1007.8h.01M952.2 1014.5h.01M954.2 1021.2h.01M956.4 1020.9h.01M958.0 1022.7h.01M960.4 1021.3h.01M961.6 1021.7h.01M963.7 1023.7h.01M965.7 1022.5h.01M966.6 1023.1h.01M968.7 1024.0h.01M970.4 1026.3h.01M972.0 1025.1h.01M974.3 1026.4h.01M975.9 1027.6h.01M977.5 1025.2h.01M979.7 1023.6h.01M982.0 1021.0h.01M982.8 1017.8h.01M985.6 1021.7h.01M986.9 1023.1h.01M988.5 1027.0h.01M991.0 1025.0h.01M992.1 1022.7h.01M994.6 1023.9h.01M996.2 1019.6h.01M997.7 1026.1h.01M1000.0 1006.7h.01M1001.5 1005.4h.01M1002.9 1009.9h.01M1004.4 1026.7h.01M1007.0 1028.1h.01M1008.9 1028.7h.01M1010.2 1027.0h.01M1012.6 1025.3h.01M1013.7 1025.6h.01M1016.3 1023.5h.01M1017.1 1024.7h.01M1019.5 1026.0h.01M1020.8 1028.0h.01M1023.0 1026.2h.01M1024.3 1024.7h.01M1026.0 1024.6h.01M1028.4 1024.0h.01M1030.3 1026.9h.01M1032.3 1026.2h.01M1034.2 1024.6h.01M1035.9 1027.4h.01M1037.0 1025.9h.01M1039.2 1027.4h.01M1041.4 1027.4h.01M1043.2 1027.6h.01M1044.0 1030.5h.01M1046.9 1028.4h.01M1048.0 1029.8h.01M1050.1 1029.8h.01M1052.1 1029.8h.01M1054.0 1031.5h.01M1055.5 1028.7h.01M1057.0 1031.6h.01M1059.5 1026.8h.01M1060.1 1026.9h.01M1062.1 1027.1h.01M1064.8 1026.6h.01M1066.0 1028.7h.01M1067.6 1031.2h.01M1069.2 1030.6h.01M1071.2 1031.1h.01M1073.9 1031.4h.01M1075.5 1031.2h.01M1077.2 1031.0h.01M1079.1 1031.1h.01M1080.3 1031.3h.01M1082.0 1031.1h.01M1084.1 1031.5h.01M1085.6 1030.7h.01M1087.4 1030.8h.01M1089.6 1030.5h.01M1090.7 1031.1h.01M1092.7 1030.9h.01M1095.3 1030.5h.01M1097.1 1030.1h.01M1098.3 1029.8h.01M1099.9 1029.6h.01M1102.6 1030.2h.01M1103.6 1030.3h.01M1105.9 1029.8h.01M1107.0 1029.2h.01M1109.8 1030.7h.01M1110.6 1030.0h.01M1112.5 1031.0h.01M1115.3 1030.4h.01M1116.2 1030.9h.01M1118.6 1031.5h.01M1119.7 1031.3h.01M1121.7 1031.9h.01M1124.0 1030.5h.01M1125.4 1030.3h.01M1127.3 1030.2h.01M1128.7 1031.0h.01M1130.9 1032.8h.01M1132.6 1031.6h.01M1134.6 1031.0h.01M1135.9 1030.9h.01M1137.7 1031.0h.01M1139.5 1031.0h.01M1141.2 1032.2h.01M1143.0 1030.9h.01M1145.8 1031.2h.01M1147.0 1031.0h.01M1149.0 1031.4h.01M1151.0 1031.1h.01M1152.0 1030.4h.01M1154.0 1030.3h.01M1156.5 1030.9h.01M1158.0 1030.0h.01M1159.6 1030.5h.01M1162.1 1030.1h.01M1163.6 1031.0h.01M1165.6 1031.1h.01M1167.2 1031.3h.01M1168.1 1030.2h.01M1170.3 1029.2h.01M1171.7 1029.5h.01M1174.0 1028.0h.01M1175.8 1022.8h.01M1177.9 1019.7h.01M1179.2 1016.7h.01M1181.2 1018.6h.01M1182.7 1019.0h.01M1184.5 1020.7h.01M1186.7 1016.6h.01M1188.5 1009.1h.01M1190.1 1006.1h.01M1192.5 999.4h.01M1193.7 999.3h.01M1196.3 1001.1h.01M1197.5 998.3h.01M1198.8 994.7h.01M1200.8 996.9h.01M1202.5 999.4h.01M1204.4 1010.0h.01M1206.9 1011.4h.01M1208.5 1014.3h.01M1210.4 1019.1h.01M1211.5 1023.9h.01M1213.5 1028.8h.01M1215.9 1026.0h.01M1217.7 1025.8h.01M1219.2 1024.4h.01M1221.1 1022.0h.01M1222.3 1021.1h.01M1224.0 1017.3h.01M1226.9 1021.2h.01M1227.8 1022.4h.01M1229.7 1022.2h.01M1232.0 1024.1h.01M1233.6 1027.3h.01M1234.9 1027.4h.01M1236.6 1027.1h.01M1239.3 1027.4h.01M1240.3 1028.0h.01M1242.3 1026.6h.01M1244.8 1026.5h.01M1246.2 1027.9h.01M1247.6 1029.7h.01M1249.2 1028.1h.01M1251.8 1028.1h.01M1253.3 1027.1h.01M1255.1 1025.2h.01M1257.1 1025.9h.01M1259.1 1027.5h.01M1260.1 1027.2h.01M1262.1 1027.7h.01M1264.3 1029.1h.01M1266.0 1027.8h.01M1267.4 1026.6h.01M1269.2 1026.1h.01M1271.2 1026.2h.01M1273.2 1027.0h.01M1274.4 1025.0h.01M1277.0 1028.5h.01M1278.7 1026.4h.01M1280.1 1027.1h.01M1281.6 1026.4h.01M1283.7 1026.2h.01M1285.3 1026.1h.01M1287.1 1027.2h.01M1288.8 1017.4h.01M1290.6 1011.3h.01M1293.3 1008.3h.01M1294.9 1011.4h.01M1296.6 1012.8h.01M1297.7 1015.0h.01M1299.8 1019.0h.01M1302.3 1010.7h.01M1304.0 1003.0h.01M1305.1 997.4h.01M1306.9 1001.1h.01M1309.6 1002.7h.01M1311.2 1003.6h.01M1312.2 1005.1h.01M1314.2 1002.3h.01M1316.8 1016.0h.01M1318.1 1012.7h.01M1319.9 1012.2h.01M1321.6 1014.7h.01M1323.1 1011.6h.01M1325.3 1016.1h.01M1326.8 1016.4h.01M1328.8 1012.9h.01M1330.6 1009.5h.01M1333.1 1006.8h.01M1333.7 1007.4h.01M1335.6 1009.8h.01M1338.0 1021.7h.01M1339.6 1020.2h.01M1341.4 1018.7h.01M1343.0 1015.3h.01M1345.3 1009.4h.01M1347.0 1001.0h.01M1348.4 991.1h.01M1350.4 994.7h.01M1352.1 1006.0h.01M1354.0 1011.5h.01M1355.4 1011.2h.01M1357.3 1016.9h.01M1359.0 1020.8h.01M1361.1 1019.4h.01M1362.7 1020.4h.01M1364.7 1019.9h.01M1366.7 1016.6h.01M1368.6 1018.6h.01M1370.8 1014.6h.01M1372.5 1013.8h.01M1374.4 1017.2h.01M1375.9 1020.5h.01M1377.9 1017.8h.01M1379.1 1019.3h.01M1381.2 1016.5h.01M1382.7 1012.8h.01M1384.6 1015.3h.01M1386.6 1015.4h.01M1388.2 1014.6h.01M1390.4 1016.3h.01M1392.4 1011.9h.01M1393.4 1009.7h.01M1395.9 1007.1h.01M1396.8 1001.9h.01M1399.3 1002.0h.01M1400.3 1007.3h.01M1402.9 997.7h.01M1405.0 998.3h.01M1406.3 1006.0h.01M1407.9 1001.9h.01M1410.1 1007.4h.01M1412.1 1003.5h.01M1413.4 1004.8h.01M1414.9 1009.5h.01M1417.4 1015.1h.01M1419.1 1011.6h.01M1420.3 1010.4h.01M1422.3 1007.9h.01M1424.7 1006.9h.01M1426.6 1006.3h.01M1427.6 1005.9h.01M1430.1 1002.8h.01M1431.1 1000.4h.01M1433.5 997.5h.01M1435.6 1002.6h.01M1436.6 996.6h.01M1438.5 997.9h.01M1440.3 988.5h.01M1442.1 991.9h.01M1443.8 987.7h.01M1446.4 985.0h.01M1447.9 980.5h.01M1449.2 984.0h.01M1451.1 984.8h.01M1452.6 985.0h.01M1454.4 987.6h.01M1456.9 985.2h.01M1458.8 984.5h.01M1460.6 983.2h.01M117.1 1005.6h.01M118.7 1009.1h.01M120.7 1009.0h.01M122.4 998.6h.01M124.6 1001.2h.01M126.9 998.7h.01M128.5 999.8h.01M130.5 996.9h.01M132.5 999.8h.01M133.6 997.7h.01M135.0 1004.5h.01M137.5 1002.9h.01M139.1 999.7h.01M140.8 999.9h.01M142.2 998.0h.01M144.1 995.7h.01M146.2 995.3h.01M147.8 993.8h.01M150.4 990.0h.01M152.2 987.2h.01M152.9 975.2h.01M155.9 980.2h.01M157.4 986.2h.01M159.5 987.7h.01M161.2 989.3h.01M162.0 990.5h.01M164.2 991.0h.01M165.9 994.0h.01M168.4 994.2h.01M169.7 988.5h.01M171.4 988.4h.01M173.5 992.6h.01M175.3 985.3h.01M176.9 996.5h.01M179.0 994.5h.01M181.0 1000.3h.01M182.7 1000.6h.01M184.5 992.7h.01M185.8 999.8h.01M187.4 998.6h.01M189.2 994.6h.01M191.6 990.4h.01M193.4 977.2h.01M195.1 977.7h.01M196.6 980.8h.01M198.8 987.3h.01M200.8 991.4h.01M202.1 994.1h.01M203.8 992.8h.01M206.3 994.7h.01M207.1 992.2h.01M209.6 992.2h.01M210.6 990.9h.01M212.8 986.0h.01M214.9 985.8h.01M216.6 989.1h.01M218.7 985.6h.01M219.7 988.2h.01M221.7 990.5h.01M224.1 978.8h.01M225.2 988.6h.01M227.8 987.1h.01M229.6 981.2h.01M231.5 991.0h.01M233.1 988.8h.01M235.0 992.6h.01M236.5 987.2h.01M238.2 992.5h.01M240.3 996.5h.01M241.9 994.9h.01M243.9 995.8h.01M245.6 996.4h.01M247.6 994.2h.01M249.4 995.9h.01M250.7 997.0h.01M253.0 995.9h.01M254.1 995.1h.01M256.1 998.1h.01M257.7 997.2h.01M259.8 996.3h.01M261.0 993.4h.01M263.6 995.9h.01M265.5 994.7h.01M267.3 996.2h.01M268.8 993.2h.01M270.1 989.3h.01M272.9 994.3h.01M273.8 995.5h.01M275.6 991.1h.01M277.1 992.4h.01M279.6 998.8h.01M281.6 1000.8h.01M283.2 1001.4h.01M284.8 1007.5h.01M286.6 1010.1h.01M288.2 1012.3h.01M290.8 1011.9h.01M292.5 1010.9h.01M294.1 1010.2h.01M295.6 1007.7h.01M297.7 1007.9h.01M299.2 1007.7h.01M301.1 1007.8h.01M302.5 1008.6h.01M304.9 1004.6h.01M306.8 1005.2h.01M308.8 1009.8h.01M309.5 1009.6h.01M312.2 1010.2h.01M313.9 1014.1h.01M315.1 1013.9h.01M317.6 1014.4h.01M319.6 1010.3h.01M320.4 1012.3h.01M322.6 1009.0h.01M324.6 1008.4h.01M326.5 1008.1h.01M328.6 1005.0h.01M329.8 1006.3h.01M332.3 1006.5h.01M332.9 1008.5h.01M335.7 1009.9h.01M337.0 1000.7h.01M338.6 1010.6h.01M341.0 1009.8h.01M342.9 1009.9h.01M344.1 1000.7h.01M345.6 1013.2h.01M348.4 1004.3h.01M350.2 1013.2h.01M351.8 1009.5h.01M353.5 1009.7h.01M354.8 1011.0h.01M356.7 1011.3h.01M358.4 1009.5h.01M360.3 1005.9h.01M362.3 1010.7h.01M364.3 998.2h.01M365.4 1008.5h.01M367.2 1008.9h.01M369.6 1002.3h.01M370.7 1004.8h.01M372.8 1005.3h.01M374.8 1001.6h.01M377.3 1004.9h.01M378.0 1005.6h.01M380.8 1002.3h.01M381.9 1004.5h.01M383.9 1006.9h.01M385.6 1007.9h.01M387.3 1014.5h.01M389.1 1014.5h.01M391.7 1017.7h.01M393.5 1020.3h.01M394.4 1021.9h.01M396.9 1022.5h.01M398.0 1022.5h.01M400.4 1023.6h.01M402.1 1024.1h.01M404.2 1024.4h.01M405.5 1024.5h.01M406.7 1025.2h.01M409.4 1025.0h.01M411.0 1024.3h.01M413.0 1024.0h.01M414.8 1023.3h.01M416.8 1022.7h.01M418.3 1023.5h.01M420.1 1023.2h.01M421.7 1023.8h.01M423.7 1024.2h.01M425.7 1023.8h.01M427.6 1023.4h.01M429.3 1022.6h.01M430.6 1021.4h.01M432.6 1020.9h.01M433.7 1020.2h.01M436.7 1020.5h.01M438.5 1019.7h.01M440.3 1018.6h.01M441.1 1015.4h.01M443.8 1012.3h.01M445.2 1013.4h.01M447.3 1015.4h.01M448.3 1017.6h.01M451.1 1017.7h.01M451.8 1019.6h.01M454.0 1018.4h.01M456.3 1015.6h.01M457.7 1015.3h.01M458.9 1012.0h.01M461.2 1007.8h.01M463.0 1004.9h.01M465.4 1001.8h.01M467.1 1004.3h.01M468.5 1006.3h.01M470.0 1008.9h.01M472.5 1011.0h.01M474.2 1014.4h.01M476.1 1014.6h.01M478.0 1003.3h.01M478.9 998.1h.01M481.5 999.3h.01M483.1 1000.8h.01M484.8 1004.2h.01M485.9 1010.7h.01M488.7 1008.3h.01M490.2 1002.4h.01M492.0 997.4h.01M493.5 993.9h.01M495.2 998.6h.01M497.8 1003.6h.01M498.8 1011.6h.01M500.8 1016.4h.01M502.1 1019.9h.01M504.6 1021.2h.01M505.8 1021.7h.01M508.5 1023.0h.01M509.6 1023.2h.01M512.1 1024.1h.01M513.7 1024.5h.01M514.8 1025.1h.01M517.2 1024.2h.01M518.5 1025.8h.01M520.9 1026.2h.01M522.3 1026.5h.01M524.9 1026.5h.01M525.8 1026.7h.01M528.2 1026.7h.01M529.8 1025.8h.01M531.9 1027.3h.01M533.2 1027.4h.01M535.5 1027.4h.01M536.8 1027.5h.01M538.4 1027.9h.01M539.9 1026.2h.01M542.5 1028.2h.01M543.7 1028.0h.01M546.0 1028.4h.01M547.5 1028.6h.01M549.9 1028.6h.01M551.7 1028.1h.01M553.0 1028.4h.01M554.5 1028.4h.01M556.4 1027.5h.01M558.7 1028.1h.01M560.7 1028.6h.01M561.8 1028.3h.01M563.9 1028.5h.01M566.1 1028.2h.01M567.4 1027.8h.01M569.5 1028.5h.01M571.0 1028.4h.01M573.4 1027.6h.01M574.4 1028.6h.01M576.3 1028.6h.01M578.8 1028.6h.01M579.7 1028.4h.01M582.1 1028.5h.01M583.2 1028.5h.01M585.5 1028.6h.01M587.1 1028.4h.01M589.5 1028.2h.01M590.5 1028.2h.01M592.9 1027.9h.01M594.2 1027.6h.01M595.7 1027.2h.01M597.7 1027.3h.01M599.4 1027.6h.01M601.6 1026.7h.01M604.0 1027.1h.01M605.6 1028.3h.01M607.1 1028.6h.01M609.2 1027.9h.01M611.0 1028.6h.01M612.9 1029.3h.01M614.2 1029.3h.01M616.3 1029.0h.01M618.5 1029.1h.01M619.2 1029.4h.01M621.4 1029.1h.01M623.4 1028.3h.01M625.3 1029.6h.01M627.4 1029.3h.01M628.8 1029.2h.01M630.9 1029.0h.01M631.9 1028.8h.01M634.6 1028.7h.01M635.8 1027.7h.01M637.4 1028.1h.01M639.0 1027.5h.01M640.8 1027.4h.01M642.7 1026.8h.01M645.4 1026.6h.01M646.4 1026.0h.01M648.9 1025.1h.01M650.8 1024.3h.01M652.2 1024.1h.01M654.3 1023.4h.01M656.3 1023.0h.01M657.2 1021.7h.01M659.4 1021.9h.01M661.0 1021.4h.01M663.4 1021.2h.01M665.2 1021.3h.01M666.2 1021.6h.01M667.9 1022.6h.01M669.8 1023.1h.01M671.5 1023.3h.01M673.9 1021.3h.01M675.4 1018.8h.01M677.1 1016.3h.01M679.5 1018.9h.01M680.9 1022.2h.01M683.1 1026.0h.01M684.8 1026.0h.01M686.2 1025.1h.01M688.1 1024.9h.01M690.0 1024.5h.01M692.0 1024.0h.01M693.6 1025.6h.01M695.0 1025.6h.01M697.6 1027.4h.01M698.4 1027.1h.01M700.9 1027.1h.01M702.3 1027.4h.01M704.9 1027.5h.01M706.5 1027.6h.01M707.7 1027.6h.01M709.9 1027.8h.01M711.5 1027.5h.01M712.7 1027.8h.01M714.7 1027.5h.01M716.8 1028.1h.01M719.2 1028.2h.01M720.1 1028.2h.01M722.0 1028.2h.01M724.6 1027.9h.01M726.1 1026.4h.01M728.3 1027.2h.01M729.1 1027.4h.01M731.7 1026.1h.01M732.9 1025.8h.01M735.5 1026.0h.01M736.8 1025.6h.01M737.9 1023.5h.01M740.4 1020.7h.01M742.2 1021.2h.01M743.7 1022.7h.01M745.4 1023.9h.01M747.8 1024.5h.01M749.4 1025.2h.01M751.3 1025.7h.01M752.7 1025.7h.01M754.5 1025.9h.01M756.1 1026.3h.01M758.5 1026.3h.01M760.3 1026.5h.01M761.7 1026.5h.01M764.3 1026.1h.01M766.1 1025.4h.01M766.9 1026.0h.01M768.7 1025.6h.01M771.3 1025.0h.01M773.1 1024.7h.01M773.9 1024.3h.01M776.8 1023.1h.01M778.2 1022.0h.01M780.3 1020.4h.01M781.4 1021.2h.01M783.4 1022.0h.01M785.7 1023.1h.01M786.8 1023.6h.01M789.0 1023.6h.01M790.9 1023.6h.01M793.0 1022.9h.01M794.9 1023.1h.01M796.7 1023.5h.01M797.5 1023.5h.01M799.4 1023.4h.01M801.6 1025.4h.01M802.9 1026.3h.01M804.6 1027.1h.01M807.3 1027.1h.01M809.0 1026.8h.01M810.5 1026.7h.01M812.6 1026.5h.01M814.5 1026.2h.01M816.0 1025.7h.01M817.5 1025.0h.01M819.9 1025.7h.01M821.0 1025.9h.01M823.0 1025.9h.01M824.8 1025.9h.01M826.3 1026.4h.01M827.9 1026.1h.01M830.5 1026.5h.01M831.5 1026.5h.01M834.0 1026.3h.01M835.9 1025.1h.01M837.3 1026.0h.01M839.5 1026.5h.01M841.1 1026.3h.01M843.2 1025.9h.01M844.2 1026.1h.01M846.0 1026.1h.01M848.0 1025.9h.01M850.4 1025.8h.01M851.8 1025.1h.01M854.2 1025.6h.01M855.9 1025.2h.01M857.0 1024.6h.01M859.1 1025.7h.01M860.5 1026.3h.01M863.2 1026.2h.01M864.2 1026.5h.01M866.6 1026.2h.01M867.8 1027.1h.01M870.3 1027.1h.01M871.7 1027.5h.01M873.8 1027.9h.01M875.0 1027.5h.01M876.9 1027.5h.01M879.4 1027.7h.01M880.9 1027.0h.01M881.9 1025.9h.01M884.2 1025.6h.01M886.3 1024.8h.01M887.9 1023.9h.01M889.2 1024.6h.01M891.5 1025.1h.01M893.0 1024.6h.01M895.1 1025.5h.01M897.4 1025.7h.01M898.4 1025.8h.01M900.4 1026.1h.01M902.8 1027.2h.01M904.6 1027.5h.01M905.4 1027.0h.01M907.4 1028.3h.01M909.1 1028.8h.01M911.3 1029.5h.01M913.4 1029.9h.01M915.3 1029.8h.01M916.4 1030.4h.01M918.1 1030.3h.01M919.7 1030.0h.01M922.1 1029.3h.01M923.6 1029.0h.01M926.2 1029.5h.01M927.4 1029.7h.01M929.4 1029.7h.01M931.4 1030.1h.01M932.8 1030.2h.01M935.2 1030.8h.01M936.7 1030.9h.01M938.7 1030.6h.01M940.3 1030.6h.01M941.9 1031.0h.01M943.5 1030.5h.01M945.6 1030.7h.01M947.5 1031.0h.01M949.1 1030.7h.01M950.4 1030.9h.01M952.2 1030.4h.01M954.4 1029.9h.01M956.4 1029.7h.01M958.2 1029.4h.01M960.1 1029.3h.01M962.0 1029.7h.01M963.5 1029.8h.01M965.9 1030.1h.01M967.7 1030.2h.01M968.3 1030.5h.01M970.4 1030.6h.01M972.8 1030.4h.01M974.2 1030.6h.01M976.2 1030.6h.01M977.8 1030.1h.01M979.1 1029.5h.01M982.0 1030.0h.01M983.3 1029.3h.01M985.1 1030.3h.01M986.3 1030.4h.01M989.2 1030.5h.01M990.8 1030.7h.01M992.4 1030.7h.01M994.7 1030.5h.01M996.1 1030.8h.01M997.5 1031.2h.01M999.8 1031.1h.01M1001.5 1030.6h.01M1003.6 1030.9h.01M1004.8 1030.8h.01M1006.7 1030.3h.01M1008.0 1030.7h.01M1010.5 1030.6h.01M1012.5 1030.5h.01M1013.5 1030.9h.01M1015.4 1030.7h.01M1017.7 1030.7h.01M1018.9 1030.8h.01M1020.8 1030.6h.01M1023.2 1030.7h.01M1025.0 1031.0h.01M1026.9 1031.0h.01M1028.4 1030.8h.01M1030.5 1030.9h.01M1031.6 1030.8h.01M1034.1 1030.8h.01M1035.8 1031.1h.01M1036.7 1031.5h.01M1039.0 1031.7h.01M1041.2 1031.5h.01M1042.1 1031.7h.01M1044.5 1031.7h.01M1046.3 1032.7h.01M1048.5 1032.8h.01M1049.4 1032.2h.01M1051.7 1032.6h.01M1053.3 1032.5h.01M1055.7 1031.9h.01M1057.2 1032.8h.01M1058.7 1032.6h.01M1060.7 1032.1h.01M1062.3 1032.7h.01M1063.9 1032.7h.01M1066.6 1032.7h.01M1067.3 1032.5h.01M1070.1 1032.7h.01M1071.9 1032.8h.01M1073.5 1032.8h.01M1075.5 1032.8h.01M1077.4 1032.6h.01M1079.2 1032.6h.01M1081.0 1031.2h.01M1082.4 1031.7h.01M1084.4 1032.0h.01M1085.9 1032.7h.01M1087.7 1032.8h.01M1089.6 1032.7h.01M1091.2 1031.5h.01M1093.0 1032.4h.01M1095.3 1032.3h.01M1097.0 1032.7h.01M1098.8 1031.9h.01M1100.3 1032.7h.01M1101.5 1032.6h.01M1103.6 1032.6h.01M1105.1 1032.6h.01M1108.1 1032.6h.01M1109.0 1031.8h.01M1110.5 1032.0h.01M1113.3 1032.7h.01M1115.2 1032.8h.01M1116.3 1032.4h.01M1117.7 1032.7h.01M1119.9 1032.2h.01M1121.5 1032.7h.01M1123.8 1032.8h.01M1125.5 1032.5h.01M1127.1 1032.7h.01M1129.1 1032.8h.01M1130.9 1032.7h.01M1132.2 1032.7h.01M1134.7 1032.7h.01M1136.9 1032.7h.01M1137.9 1032.5h.01M1140.3 1032.5h.01M1141.2 1032.4h.01M1144.1 1032.6h.01M1145.1 1032.2h.01M1147.1 1032.6h.01M1149.2 1032.3h.01M1151.3 1032.5h.01M1153.1 1032.3h.01M1154.1 1032.8h.01M1156.6 1032.8h.01M1157.3 1032.6h.01M1159.3 1032.7h.01M1161.1 1032.7h.01M1163.9 1032.2h.01M1164.7 1032.8h.01M1167.1 1032.7h.01M1168.6 1032.3h.01M1170.6 1032.5h.01M1172.5 1032.6h.01M1173.6 1031.7h.01M1175.4 1032.7h.01M1178.0 1032.3h.01M1179.2 1032.3h.01M1181.2 1031.6h.01M1182.7 1031.5h.01M1185.3 1030.4h.01M1187.1 1031.3h.01M1188.1 1031.2h.01M1190.7 1031.1h.01M1191.6 1031.6h.01M1193.3 1031.9h.01M1195.9 1031.6h.01M1197.8 1031.8h.01M1199.2 1030.6h.01M1200.5 1030.5h.01M1202.4 1029.2h.01M1205.2 1029.5h.01M1207.0 1030.3h.01M1208.8 1030.8h.01M1210.4 1030.9h.01M1211.9 1031.4h.01M1214.3 1031.3h.01M1215.5 1031.5h.01M1217.5 1031.5h.01M1218.6 1030.9h.01M1220.8 1031.1h.01M1222.7 1030.5h.01M1224.3 1031.2h.01M1226.3 1031.5h.01M1228.7 1031.0h.01M1230.3 1031.0h.01M1231.5 1031.7h.01M1233.8 1031.7h.01M1235.3 1031.0h.01M1237.5 1031.7h.01M1239.0 1031.8h.01M1240.2 1031.8h.01M1242.0 1031.9h.01M1244.5 1032.0h.01M1246.6 1031.6h.01M1247.9 1031.7h.01M1249.8 1032.0h.01M1251.6 1031.2h.01M1253.6 1031.5h.01M1255.1 1031.7h.01M1256.8 1031.8h.01M1259.2 1031.6h.01M1261.0 1031.7h.01M1261.9 1030.8h.01M1263.5 1031.5h.01M1265.7 1030.8h.01M1267.8 1030.8h.01M1269.7 1031.0h.01M1270.8 1030.9h.01M1273.0 1031.1h.01M1274.8 1031.1h.01M1276.2 1031.1h.01M1278.0 1031.0h.01M1280.8 1031.2h.01M1281.7 1030.6h.01M1283.9 1029.7h.01M1285.9 1031.5h.01M1287.2 1031.6h.01M1289.8 1030.7h.01M1290.7 1030.1h.01M1292.9 1029.4h.01M1294.8 1028.4h.01M1297.1 1029.2h.01M1298.2 1028.8h.01M1299.9 1028.8h.01M1301.4 1028.8h.01M1304.3 1028.4h.01M1305.6 1026.9h.01M1307.6 1026.1h.01M1308.8 1027.3h.01M1310.8 1027.0h.01M1312.7 1027.6h.01M1314.2 1028.8h.01M1315.7 1029.3h.01M1318.4 1029.4h.01M1319.9 1029.5h.01M1321.2 1029.6h.01M1323.9 1029.8h.01M1325.3 1029.6h.01M1327.0 1030.2h.01M1328.7 1030.2h.01M1330.8 1030.6h.01M1332.5 1030.2h.01M1334.5 1029.2h.01M1336.2 1031.0h.01M1338.4 1030.8h.01M1340.1 1029.4h.01M1341.3 1029.3h.01M1343.6 1028.9h.01M1345.3 1028.4h.01M1347.3 1027.3h.01M1348.6 1027.8h.01M1350.2 1027.4h.01M1352.5 1027.7h.01M1353.7 1027.3h.01M1355.7 1028.3h.01M1357.7 1029.0h.01M1359.5 1029.4h.01M1360.8 1029.8h.01M1363.5 1029.3h.01M1364.9 1029.2h.01M1366.5 1028.9h.01M1368.4 1028.4h.01M1370.6 1028.2h.01M1371.7 1027.9h.01M1374.4 1027.6h.01M1376.0 1028.0h.01M1378.0 1028.5h.01M1379.3 1028.4h.01M1381.6 1028.5h.01M1382.9 1028.4h.01M1385.3 1029.0h.01M1386.1 1029.2h.01M1388.8 1029.3h.01M1389.8 1028.6h.01M1391.4 1028.6h.01M1394.0 1027.7h.01M1395.2 1028.0h.01M1397.5 1028.5h.01M1399.7 1027.9h.01M1400.6 1028.6h.01M1402.9 1028.4h.01M1405.1 1028.5h.01M1406.7 1028.6h.01M1408.6 1028.4h.01M1409.9 1028.2h.01M1412.0 1028.3h.01M1413.3 1027.7h.01M1415.1 1028.0h.01M1417.1 1027.8h.01M1419.2 1027.2h.01M1420.3 1027.0h.01M1422.8 1026.7h.01M1423.9 1026.5h.01M1425.9 1026.2h.01M1427.4 1025.1h.01M1430.0 1025.5h.01M1431.0 1024.9h.01M1433.4 1024.6h.01M1435.6 1024.0h.01M1436.4 1023.5h.01M1439.2 1024.1h.01M1440.8 1023.6h.01M1442.4 1024.7h.01M1444.0 1024.9h.01M1445.4 1023.8h.01M1447.5 1022.6h.01M1449.1 1021.3h.01M1451.0 1020.9h.01M1453.5 1022.4h.01M1454.8 1023.1h.01M1456.1 1022.1h.01M1458.3 1021.2h.01M1459.8 1020.1h.01M119.8 953.4h.01M119.8 940.3h.01M119.8 936.4h.01M120.2 908.5h.01M120.9 904.6h.01M123.7 900.5h.01M128.6 902.2h.01M128.8 902.3h.01M130.5 909.1h.01M132.2 915.9h.01M133.2 916.4h.01M135.6 917.6h.01M137.3 915.6h.01M139.9 912.5h.01M140.0 912.7h.01M142.8 916.0h.01M144.1 917.6h.01M146.9 918.5h.01M149.2 919.3h.01M151.0 906.8h.01M151.8 900.5h.01M155.1 899.3h.01M156.1 898.8h.01M160.5 901.8h.01M161.2 902.3h.01M164.6 902.3h.01M166.3 902.3h.01M168.7 901.5h.01M171.4 900.5h.01M172.3 898.9h.01M174.8 893.7h.01M175.5 894.9h.01M176.9 897.1h.01M180.0 902.3h.01M182.4 904.6h.01M185.1 907.4h.01M186.5 907.7h.01M191.9 909.1h.01M194.6 911.1h.01M198.7 914.2h.01M203.9 915.9h.01M204.2 915.5h.01M206.9 911.8h.01M209.0 909.1h.01M211.0 906.3h.01M214.1 902.3h.01M215.1 900.2h.01M219.2 893.9h.01M221.9 881.1h.01M222.6 878.4h.01M223.3 878.0h.01M227.4 876.0h.01M229.5 875.0h.01M230.1 874.5h.01M234.6 871.5h.01M235.6 870.2h.01M238.3 866.5h.01M239.7 864.7h.01M242.4 862.0h.01M246.0 858.4h.01M246.5 857.9h.01M247.9 859.3h.01M250.0 863.0h.01M251.6 860.8h.01M252.0 860.4h.01M255.1 856.2h.01M257.4 852.3h.01M259.6 848.7h.01M260.2 847.6h.01M264.3 840.9h.01M265.4 839.1h.01M265.6 839.4h.01M270.5 844.2h.01M271.1 845.1h.01M275.2 850.5h.01M275.6 851.1h.01M277.9 853.4h.01M280.7 856.2h.01M281.5 859.6h.01M283.4 868.2h.01M284.1 871.5h.01M284.7 878.9h.01M286.7 902.3h.01M287.5 904.9h.01M289.2 910.8h.01M292.9 909.6h.01M294.4 909.1h.01M299.8 911.8h.01M301.2 912.5h.01M305.2 914.5h.01M308.0 915.9h.01M312.0 924.0h.01M313.1 926.1h.01M313.4 926.2h.01M317.5 927.6h.01M318.3 927.9h.01M321.6 936.2h.01M321.7 936.4h.01M325.1 936.4h.01M325.7 935.5h.01M328.5 931.3h.01M332.5 923.2h.01M333.6 921.0h.01M340.4 924.4h.01M340.7 924.9h.01M345.6 933.0h.01M347.5 931.7h.01M350.7 929.6h.01M351.6 930.2h.01M353.5 931.5h.01M355.8 933.0h.01M357.1 933.8h.01M359.8 935.7h.01M360.9 936.4h.01M365.3 940.8h.01M367.7 943.2h.01M369.4 944.8h.01M371.2 946.6h.01M372.1 931.3h.01M372.9 919.3h.01M375.4 892.0h.01M376.2 885.7h.01M378.0 868.1h.01M379.2 855.8h.01M379.7 851.1h.01M381.4 799.9h.01M381.7 797.7h.01M382.8 788.9h.01M383.1 794.4h.01M383.9 814.7h.01M384.9 855.7h.01M385.7 901.1h.01M385.8 907.5h.01M386.5 930.1h.01M386.9 940.3h.01M387.4 952.3h.01M388.2 972.2h.01M388.5 978.5h.01M389.9 987.1h.01M391.6 997.4h.01M392.6 1003.1h.01M400.7 1010.8h.01M409.2 1006.5h.01M417.7 1009.7h.01M426.3 1010.8h.01M432.7 1007.6h.01M435.9 994.8h.01M438.0 969.2h.01M440.1 941.5h.01M442.3 905.2h.01M443.8 883.9h.01M445.0 875.3h.01M447.2 883.9h.01M449.7 909.5h.01M451.9 930.8h.01M455.1 922.3h.01M457.8 905.2h.01M458.0 890.8h.01M458.5 848.6h.01M459.8 837.8h.01M461.5 837.8h.01M463.5 864.8h.01M464.0 864.0h.01M466.0 860.8h.01M468.0 850.8h.01M469.0 846.5h.01M471.0 837.8h.01M473.0 824.5h.01M474.0 817.8h.01M477.0 782.8h.01M479.0 702.8h.01M480.6 694.8h.01M483.2 700.8h.01M484.5 734.7h.01M485.0 747.8h.01M486.0 784.5h.01M486.5 802.8h.01M489.0 814.8h.01M490.5 780.0h.01M491.5 756.8h.01M492.0 756.2h.01M495.4 751.8h.01M498.0 756.8h.01M499.0 795.1h.01M499.2 802.8h.01M500.0 828.8h.01M500.9 845.5h.01M501.3 888.1h.01M502.0 926.5h.01M504.1 939.3h.01M506.3 956.4h.01M509.5 971.3h.01M512.7 977.7h.01M515.4 973.4h.01M518.0 986.2h.01M521.2 999.0h.01M524.4 1009.7h.01M527.6 1018.2h.01M532.9 1020.4h.01M539.3 1019.3h.01M543.2 1011.8h.01M546.8 1018.2h.01M551.0 1010.8h.01M554.2 1018.2h.01M560.6 1021.4h.01M567.0 1022.5h.01M575.6 1020.4h.01M582.0 1018.2h.01M588.4 1016.1h.01M593.7 1014.0h.01M596.5 1005.4h.01M600.1 1010.8h.01M605.4 1014.0h.01M611.8 1018.2h.01M618.2 1021.4h.01M622.5 1023.6h.01M628.9 1020.4h.01M632.1 1009.7h.01M634.2 996.9h.01M639.6 986.2h.01M643.4 978.8h.01M646.0 990.5h.01M649.2 977.7h.01M653.4 956.4h.01M657.7 960.6h.01M660.9 937.2h.01M665.2 952.1h.01M669.4 935.1h.01M670.8 934.6h.01M673.8 939.6h.01M675.8 921.8h.01M676.8 902.1h.01M678.7 915.9h.01M679.7 941.5h.01M681.7 955.3h.01M684.6 965.2h.01M686.6 963.2h.01M689.6 971.1h.01M691.5 982.9h.01M696.5 983.9h.01M698.4 981.9h.01M702.4 986.9h.01M706.3 994.8h.01M710.3 1002.6h.01M714.2 1008.6h.01M718.2 1008.6h.01M721.1 1012.5h.01M725.1 1012.5h.01M729.0 1016.4h.01M732.0 1010.5h.01M733.9 981.0h.01M734.9 955.3h.01M736.9 939.6h.01M739.3 904.5h.01M740.8 935.6h.01M742.8 951.4h.01M744.8 965.2h.01M746.8 986.9h.01M749.7 998.7h.01M752.7 1004.6h.01M756.6 1001.7h.01M759.6 1004.6h.01M762.1 1001.7h.01M765.5 1006.6h.01M769.4 1007.6h.01M772.0 990.8h.01M773.4 971.1h.01M775.3 961.2h.01M777.9 971.1h.01M779.3 981.0h.01M782.2 976.0h.01M787.2 975.0h.01M790.1 982.9h.01M792.1 994.8h.01M795.1 994.8h.01M799.0 988.8h.01M801.0 998.7h.01M805.9 1000.7h.01M807.9 981.0h.01M810.2 970.1h.01M812.2 986.9h.01M813.8 1000.7h.01M816.7 998.7h.01M819.3 991.8h.01M822.7 996.7h.01M825.6 1010.5h.01M829.6 1008.6h.01M831.1 990.8h.01M833.1 977.0h.01M835.9 979.0h.01M837.4 965.2h.01M838.4 961.2h.01M840.4 979.0h.01M842.4 990.8h.01M845.3 982.9h.01M848.3 975.0h.01M849.7 969.1h.01M851.6 986.9h.01M854.2 1002.6h.01M857.2 998.7h.01M858.1 982.9h.01M862.1 981.0h.01M865.0 994.8h.01M867.0 1008.6h.01M871.0 1008.6h.01M872.9 988.8h.01M874.9 986.9h.01M876.9 998.7h.01M878.8 986.9h.01M879.8 969.1h.01M883.8 960.3h.01M887.7 958.3h.01M889.7 971.1h.01M891.7 959.3h.01M893.2 938.6h.01M895.6 959.3h.01M896.6 981.0h.01M900.5 990.8h.01M903.5 1002.6h.01M907.4 1010.5h.01M910.4 1016.4h.01M913.4 1024.3h.01M917.3 1020.4h.01M920.3 1010.5h.01M922.2 1007.6h.01M925.2 1016.4h.01M929.1 1014.5h.01M932.1 1008.6h.01M935.0 1014.5h.01M940.0 1016.4h.01M944.9 1010.5h.01M945.9 1008.3h.01M949.5 1004.3h.01M952.2 1010.3h.01M953.8 1021.1h.01M958.7 1020.1h.01M965.6 1022.1h.01M971.5 1025.0h.01M978.4 1025.0h.01M981.0 1019.1h.01M983.4 1016.8h.01M986.3 1021.1h.01M989.3 1027.0h.01M992.2 1022.1h.01M995.2 1021.1h.01M997.6 1013.2h.01M999.1 1005.3h.01M1000.7 1003.7h.01M1003.1 1009.3h.01M1004.1 1025.0h.01M1009.0 1027.0h.01M1015.9 1023.1h.01M1020.8 1027.0h.01M1025.8 1022.7h.01M1030.7 1025.0h.01M1034.6 1023.1h.01M1038.6 1027.0h.01M1044.5 1026.6h.01M1048.4 1030.0h.01M1054.4 1029.0h.01M1059.3 1026.0h.01M1065.2 1026.6h.01M1069.1 1030.6h.01M1078.0 1031.0h.01M1087.9 1030.6h.01M1095.8 1030.0h.01M1107.6 1029.0h.01M1117.4 1031.0h.01M1127.3 1030.0h.01M1137.2 1031.0h.01M1147.0 1030.6h.01M1156.9 1030.0h.01M1166.7 1030.0h.01M1173.6 1028.0h.01M1176.6 1021.1h.01M1179.6 1016.2h.01M1182.5 1015.6h.01M1185.5 1021.1h.01M1187.4 1013.2h.01M1188.8 1001.4h.01M1193.4 998.4h.01M1196.3 997.4h.01M1199.3 993.9h.01M1203.2 997.4h.01M1204.6 1009.3h.01M1208.1 1013.2h.01M1211.1 1019.1h.01M1213.1 1029.0h.01M1216.0 1025.0h.01M1220.0 1020.7h.01M1221.5 1019.0h.01M1224.2 1016.4h.01M1226.9 1021.7h.01M1230.4 1020.8h.01M1234.0 1027.0h.01M1239.3 1027.0h.01M1242.8 1025.2h.01M1247.3 1027.9h.01M1252.6 1027.9h.01M1255.2 1024.9h.01M1258.8 1027.0h.01M1263.2 1027.0h.01M1267.7 1025.6h.01M1272.1 1025.2h.01M1275.3 1023.5h.01M1278.3 1026.1h.01M1284.5 1026.1h.01M1288.1 1025.2h.01M1289.8 1012.8h.01M1292.5 1007.5h.01M1295.2 1010.1h.01M1297.8 1012.8h.01M1299.6 1019.9h.01M1302.3 1009.3h.01M1304.0 998.6h.01M1306.7 994.7h.01M1308.5 1002.2h.01M1312.0 1000.4h.01M1314.7 1002.2h.01M1316.5 1012.8h.01M1320.9 1011.9h.01M1323.6 1011.0h.01M1327.1 1016.4h.01M1330.7 1009.3h.01M1334.2 1003.9h.01M1336.3 1007.5h.01M1337.8 1019.9h.01M1342.2 1016.4h.01M1345.7 1007.5h.01M1346.6 993.3h.01M1348.4 989.7h.01M1351.1 995.1h.01M1352.8 1009.3h.01M1356.4 1011.0h.01M1359.0 1019.9h.01M1364.4 1017.2h.01M1368.8 1015.5h.01M1371.8 1013.2h.01M1375.0 1016.4h.01M1379.4 1016.4h.01M1383.0 1011.0h.01M1385.7 1015.5h.01M1391.0 1012.8h.01M1395.4 1007.5h.01M1396.7 1001.3h.01M1399.0 1000.4h.01M1400.7 1007.5h.01M1402.5 996.8h.01M1404.3 993.3h.01M1406.9 1000.4h.01M1409.6 1002.2h.01M1412.3 1001.3h.01M1414.9 1006.6h.01M1416.7 1012.8h.01M1421.1 1009.3h.01M1424.7 1005.7h.01M1429.1 1002.2h.01M1432.7 998.6h.01M1435.3 991.5h.01M1438.9 989.7h.01M1442.4 984.4h.01M1446.0 980.9h.01M1448.6 977.3h.01M1451.3 981.8h.01M1454.0 986.2h.01M1456.6 983.5h.01M1459.5 982.6h.01M1459.5 980.9h.01M119.8 1008.4h.01M120.9 1012.5h.01M126.4 1000.2h.01M134.6 1005.7h.01M142.8 998.9h.01M151.0 993.4h.01M153.7 981.1h.01M159.1 990.7h.01M167.3 994.8h.01M175.5 996.1h.01M182.4 1003.0h.01M187.8 998.9h.01M191.9 989.3h.01M196.0 981.1h.01M201.5 994.8h.01M208.3 997.5h.01M213.8 986.6h.01M219.2 992.0h.01M227.4 990.7h.01M235.6 993.4h.01M241.1 998.9h.01M249.2 997.5h.01M257.4 998.9h.01M262.9 996.1h.01M271.1 997.5h.01M276.6 994.8h.01M282.0 1003.0h.01M288.8 1013.9h.01M297.0 1008.4h.01M306.6 1009.8h.01M317.5 1016.6h.01M328.4 1008.4h.01M339.4 1011.2h.01M347.5 1015.3h.01M358.5 1012.5h.01M369.4 1008.4h.01M376.2 1005.7h.01M383.0 1005.7h.01M387.1 1013.9h.01M391.2 1020.7h.01M398.5 1023.3h.01M408.1 1025.4h.01M415.6 1023.3h.01M425.2 1024.4h.01M432.7 1021.2h.01M439.1 1020.1h.01M443.3 1012.6h.01M447.6 1016.9h.01M452.9 1020.1h.01M458.3 1014.8h.01M464.7 1002.0h.01M470.0 1008.4h.01M475.3 1016.9h.01M478.5 997.7h.01M483.9 1002.0h.01M487.1 1012.6h.01M490.3 1002.0h.01M493.5 993.4h.01M496.7 1002.0h.01M499.9 1014.8h.01M503.1 1021.2h.01M511.6 1024.4h.01M522.3 1026.5h.01M535.1 1027.6h.01M547.8 1028.6h.01M560.6 1028.6h.01M573.4 1028.6h.01M586.2 1028.6h.01M599.0 1027.6h.01M611.8 1029.3h.01M624.6 1029.7h.01M635.3 1028.6h.01M646.0 1026.5h.01M654.5 1023.3h.01M663.0 1021.2h.01M671.8 1023.7h.01M677.7 1016.8h.01M682.7 1026.6h.01M689.6 1024.6h.01M697.5 1027.6h.01M707.3 1027.6h.01M719.1 1028.6h.01M729.0 1027.6h.01M736.9 1025.6h.01M740.8 1020.7h.01M746.8 1024.6h.01M754.6 1026.6h.01M764.5 1026.6h.01M774.4 1024.6h.01M780.3 1020.7h.01M786.2 1023.7h.01M798.0 1023.7h.01M805.9 1027.6h.01M817.7 1025.6h.01M829.6 1026.6h.01M841.4 1026.6h.01M853.2 1025.6h.01M865.0 1026.6h.01M876.9 1028.6h.01M886.7 1024.6h.01M896.6 1025.6h.01M906.5 1028.6h.01M916.3 1030.6h.01M926.2 1029.6h.01M936.0 1031.0h.01M947.9 1031.3h.01M959.7 1029.7h.01M971.5 1030.9h.01M983.4 1030.3h.01M999.1 1031.3h.01M1018.9 1030.9h.01M1034.6 1031.3h.01M1046.5 1032.8h.01M1078.0 1032.8h.01M1117.4 1032.8h.01M1156.9 1032.8h.01M1176.6 1032.8h.01M1188.4 1031.3h.01M1196.3 1032.3h.01M1204.2 1029.7h.01M1213.1 1032.3h.01M1220.6 1031.2h.01M1236.6 1032.0h.01M1254.4 1032.0h.01M1272.1 1031.2h.01M1288.1 1031.7h.01M1293.4 1029.4h.01M1302.3 1029.4h.01M1306.7 1026.7h.01M1316.5 1029.4h.01M1327.1 1030.3h.01M1336.9 1031.2h.01M1344.8 1028.5h.01M1351.9 1027.6h.01M1360.8 1029.9h.01M1369.7 1028.5h.01M1380.3 1028.5h.01M1387.4 1029.4h.01M1398.1 1028.5h.01M1408.7 1028.9h.01M1419.4 1027.6h.01M1428.2 1025.8h.01M1437.1 1024.1h.01M1444.2 1025.0h.01M1449.5 1021.4h.01M1454.9 1023.2h.01M1459.5 1019.6h.01M246.5 747.7h.01M246.5 757.3h.01M246.5 762.8h.01M246.5 778.6h.01M246.5 790.6h.01M265.6 778.6h.01M278.5 787.9h.01M265.6 795.5h.01M223.3 811.9h.01M227.4 820.6h.01M128.6 842.5h.01M172.3 844.1h.01M312.0 866.0h.01M312.0 876.1h.01M305.2 882.1h.01M194.1 884.5h.01M140.0 872.0h.01M321.6 917.0h.01M167.3 1006.3h.01M181.5 1006.3h.01M201.5 1003.0h.01M208.3 1002.5h.01M243.8 1011.2h.01M260.2 1005.2h.01M288.8 1018.1h.01M297.0 1014.0h.01M306.0 1013.4h.01M373.5 1020.2h.01M134.0 1009.0h.01M246.0 809.2h.01M246.0 817.4h.01M271.1 802.4h.01M275.2 801.5h.01M281.5 814.6h.01M281.5 822.8h.01M223.3 835.1h.01M223.3 840.6h.01M128.6 850.1h.01M128.6 858.3h.01M128.6 872.0h.01M128.6 881.5h.01M140.0 880.2h.01M140.0 888.4h.01M140.0 896.6h.01M173.3 850.1h.01M173.3 858.3h.01M172.3 870.6h.01M160.5 881.5h.01M167.3 876.1h.01M312.0 895.2h.01M312.0 903.4h.01M353.5 889.7h.01M353.5 893.8h.01M357.1 901.5h.01M383.6 783.2h.01M381.7 787.9h.01M383.6 795.5h.01M381.7 802.4h.01M383.6 809.2h.01M383.6 818.7h.01M515.4 939.3h.01M515.4 945.1h.01M515.4 948.3h.01M515.4 956.8h.01M515.4 969.6h.01M515.4 976.0h.01M445.9 857.6h.01M445.9 869.3h.01M445.9 877.9h.01M445.9 882.1h.01M455.1 921.6h.01M455.1 928.0h.01M502.6 928.0h.01M502.6 933.3h.01M676.9 899.2h.01M676.9 905.6h.01M660.9 934.4h.01M660.9 945.1h.01M669.4 933.3h.01M643.4 976.0h.01M543.2 1010.1h.01M551.0 1008.6h.01M596.5 1003.7h.01M676.4 898.9h.01M676.4 906.2h.01M678.1 914.1h.01M675.8 919.0h.01M677.7 925.9h.01M739.3 902.2h.01M739.3 916.0h.01M739.3 919.0h.01M739.3 922.9h.01M739.3 931.8h.01M819.3 989.4h.01M893.2 936.2h.01M893.2 941.7h.01M893.2 947.6h.01M775.3 959.4h.01M810.2 967.9h.01M838.4 959.4h.01M849.7 967.3h.01M799.0 986.0h.01M1460.2 974.9h.01M480.6 597.7h.01M481.5 606.8h.01M480.6 615.5h.01M480.9 623.7h.01M480.9 628.6h.01M481.5 642.8h.01M480.1 646.9h.01M477.4 651.5h.01M481.5 656.5h.01M477.9 661.4h.01M481.5 666.8h.01M480.1 675.6h.01M480.1 679.7h.01M477.9 686.5h.01M481.5 687.8h.01M479.6 690.6h.01M495.4 645.5h.01M495.4 651.5h.01M495.4 657.3h.01M495.4 675.6h.01M495.4 678.8h.01M495.4 685.4h.01M495.4 696.6h.01M495.4 722.0h.01M495.4 739.2h.01M460.4 776.6h.01M460.4 783.4h.01M460.4 795.7h.01M460.4 798.4h.01M460.4 815.4h.01M460.4 825.2h.01M446.0 855.8h.01M446.0 859.9h.01M446.0 869.4h.01M445.4 877.6h.01M444.6 883.1h.01M444.6 891.3h.01M446.0 896.7h.01M469.7 746.6h.01M469.7 757.5h.01M467.8 771.1h.01M474.6 735.6h.01M476.8 732.9h.01M121.9 889.2h.01M123.2 888.8h.01M123.7 871.9h.01M124.9 879.7h.01M124.6 895.1h.01M125.4 859.2h.01M125.4 864.2h.01M125.7 871.5h.01M126.5 859.8h.01M127.6 897.8h.01M126.6 879.1h.01M127.8 849.5h.01M127.9 882.5h.01M129.1 882.6h.01M129.0 879.3h.01M130.6 892.6h.01M131.9 906.0h.01M134.9 912.5h.01M138.1 909.1h.01M138.8 909.3h.01M140.7 897.0h.01M139.7 897.4h.01M141.5 904.5h.01M142.6 909.4h.01M144.7 913.5h.01M149.7 910.8h.01M155.6 894.8h.01M157.7 894.4h.01M157.9 888.8h.01M161.0 897.6h.01M163.4 898.2h.01M164.9 899.4h.01M170.1 897.9h.01M170.7 877.8h.01M171.5 891.9h.01M171.7 882.3h.01M173.2 851.6h.01M172.4 891.2h.01M172.4 856.1h.01M174.1 875.4h.01M173.6 866.3h.01M175.3 885.2h.01M174.7 867.4h.01M176.0 885.6h.01M177.6 881.5h.01M179.3 884.5h.01M180.0 894.9h.01M182.1 895.3h.01M183.6 895.4h.01M185.2 898.2h.01M189.4 898.9h.01M190.5 903.3h.01M193.2 900.1h.01M194.5 899.4h.01M195.4 906.3h.01M196.3 902.4h.01M198.1 909.2h.01M203.8 911.9h.01M204.9 908.2h.01M206.8 907.6h.01M207.2 905.5h.01M208.4 904.2h.01M213.6 898.6h.01M216.3 894.6h.01M223.4 861.3h.01M223.3 866.1h.01M224.4 839.2h.01M224.1 852.8h.01M225.5 866.6h.01M225.3 865.4h.01M226.8 869.2h.01M226.2 868.5h.01M228.4 868.1h.01M229.5 868.6h.01M231.7 870.4h.01M233.8 859.8h.01M235.0 865.4h.01M236.2 860.8h.01M237.1 862.5h.01M238.7 834.5h.01M239.1 862.7h.01M239.7 838.7h.01M240.7 854.4h.01M242.0 835.3h.01M243.3 857.9h.01M244.3 853.3h.01M244.5 832.0h.01M244.3 852.8h.01M246.0 820.2h.01M246.1 853.7h.01M247.1 844.1h.01M247.5 836.6h.01M248.3 842.8h.01M249.4 853.1h.01M250.4 849.2h.01M253.3 850.0h.01M256.8 848.5h.01M259.8 844.4h.01M260.9 842.4h.01M262.9 839.9h.01M264.5 824.1h.01M264.5 810.6h.01M266.3 804.0h.01M266.6 832.9h.01M267.3 822.3h.01M267.0 833.0h.01M269.3 805.1h.01M269.2 813.9h.01M270.4 833.7h.01M270.1 822.3h.01M271.1 837.2h.01M271.5 818.0h.01M272.2 834.8h.01M272.9 811.8h.01M273.6 840.9h.01M273.3 827.8h.01M274.8 835.2h.01M274.7 844.4h.01M275.0 806.7h.01M275.4 836.5h.01M276.1 822.7h.01M277.2 836.1h.01M277.0 835.2h.01M278.9 844.5h.01M278.3 845.1h.01M279.4 849.3h.01M279.3 848.5h.01M281.2 844.8h.01M280.5 846.5h.01M281.9 847.8h.01M281.4 837.6h.01M282.8 862.7h.01M287.6 901.4h.01M290.5 906.9h.01M296.2 900.7h.01M297.8 905.5h.01M300.2 903.1h.01M301.2 899.9h.01M302.1 905.3h.01M303.8 891.1h.01M304.1 904.4h.01M305.1 909.4h.01M305.6 905.9h.01M305.4 903.2h.01M306.9 910.9h.01M306.6 909.9h.01M308.3 903.9h.01M308.8 895.5h.01M309.9 910.5h.01M310.0 879.9h.01M310.3 906.5h.01M311.0 877.8h.01M311.6 883.5h.01M312.4 898.9h.01M312.0 918.3h.01M313.5 904.0h.01M313.0 909.7h.01M314.1 918.9h.01M316.0 923.9h.01M321.9 927.3h.01M322.1 924.5h.01M330.3 925.1h.01M348.6 926.8h.01M350.9 926.9h.01M351.1 919.0h.01M352.3 916.3h.01M354.5 900.2h.01M353.8 924.3h.01M355.2 923.9h.01M355.4 910.0h.01M356.0 911.2h.01M357.1 923.5h.01M358.5 922.8h.01M359.8 928.5h.01M361.1 928.8h.01M362.8 925.1h.01M363.3 928.3h.01M366.4 936.7h.01M370.1 941.5h.01M370.6 940.9h.01M370.9 923.7h.01M371.8 912.3h.01M372.6 910.7h.01M380.0 829.2h.01M461.9 840.0h.01M463.1 818.5h.01M463.1 832.0h.01M464.9 821.8h.01M464.5 811.1h.01M463.9 830.2h.01M465.1 832.5h.01M465.4 849.8h.01M465.6 851.4h.01M466.1 841.5h.01M466.6 818.8h.01M466.3 830.0h.01M467.2 771.8h.01M466.9 805.9h.01M467.5 808.4h.01M468.0 828.4h.01M467.6 840.1h.01M467.9 788.4h.01M467.5 770.1h.01M469.2 754.5h.01M469.2 784.2h.01M469.7 835.9h.01M469.6 805.8h.01M468.8 836.0h.01M470.7 823.7h.01M469.8 822.6h.01M470.0 829.9h.01M470.8 750.1h.01M470.2 783.0h.01M471.1 760.6h.01M471.4 821.3h.01M471.1 757.0h.01M472.0 829.5h.01M471.8 831.5h.01M472.3 806.8h.01M473.2 795.3h.01M472.7 755.6h.01M472.3 820.4h.01M473.1 807.1h.01M473.7 815.1h.01M473.5 737.0h.01M473.6 812.9h.01M473.6 744.7h.01M475.3 797.9h.01M475.2 795.3h.01M475.6 751.8h.01M475.7 777.6h.01M476.8 725.6h.01M475.8 721.3h.01M476.5 776.5h.01M476.0 731.3h.01M476.9 742.4h.01M476.9 758.3h.01M478.9 700.3h.01M484.9 730.3h.01M486.4 776.7h.01M485.8 775.3h.01M487.5 766.0h.01M486.9 791.5h.01M486.6 767.2h.01M488.2 796.2h.01M488.6 796.3h.01M487.9 803.1h.01M489.6 797.2h.01M488.9 751.4h.01M489.3 782.9h.01M490.2 767.6h.01M492.7 751.9h.01M123.7 861.1h.01M128.6 844.7h.01M130.5 885.7h.01M137.3 907.5h.01M140.0 874.8h.01M142.8 902.1h.01M151.0 902.1h.01M155.1 893.9h.01M160.5 884.3h.01M164.6 896.6h.01M168.7 888.4h.01M172.3 847.5h.01M175.5 852.9h.01M176.9 880.2h.01M182.4 888.4h.01M186.5 899.4h.01M191.9 893.9h.01M194.6 887.1h.01M198.7 907.5h.01M204.2 910.3h.01M206.9 896.6h.01M211.0 902.1h.01M215.1 891.2h.01M223.3 836.6h.01M227.4 842.0h.01M230.1 869.3h.01M235.6 850.2h.01M238.3 833.8h.01M242.4 828.4h.01M246.0 812.0h.01M247.9 828.4h.01M252.0 850.2h.01M257.4 842.0h.01M259.6 829.7h.01M264.3 822.9h.01M265.6 799.7h.01M271.1 805.2h.01M275.2 803.8h.01M277.9 825.6h.01M281.5 816.1h.01M283.4 836.6h.01M284.7 869.3h.01M287.5 896.6h.01M292.9 904.8h.01M299.8 895.3h.01M305.2 884.3h.01M312.0 869.3h.01M313.4 907.5h.01M321.6 919.8h.01M332.5 918.5h.01M351.6 910.3h.01M353.5 892.5h.01M357.1 904.8h.01M359.8 921.2h.01M365.3 929.4h.01M369.4 932.1h.01M372.1 902.1h.01M379.2 847.5h.01M381.7 791.5h.01M464.0 802.8h.01M466.0 773.8h.01M469.0 746.8h.01M473.0 736.8h.01M477.0 717.8h.01M479.0 695.8h.01M483.2 695.8h.01M484.5 722.8h.01M486.0 746.8h.01M490.5 751.8h.01M492.0 748.8h.01M498.0 751.8h.01" stroke="#1f77b4" stroke-width="5.6" stroke-linecap="round" fill="none"/>
<polyline points="117.0,978.5 119.6,979.8 122.3,947.1 125.0,962.1 126.9,952.5 130.5,966.2 134.0,975.7 136.8,974.4 139.2,948.4 142.2,973.0 144.9,962.1 147.7,973.0 151.0,956.6 152.3,941.6 155.1,941.6 157.0,937.5 159.1,947.1 161.3,945.7 164.6,956.6 167.3,948.4 169.5,958.0 171.4,938.9 173.3,953.9 175.5,936.1 178.3,956.6 180.4,962.1 183.2,943.0 186.5,956.6 188.6,962.1 191.9,948.4 194.6,944.3 197.9,951.2 200.6,964.8 203.4,948.4 205.6,955.3 208.8,948.4 211.6,945.7 213.8,936.1 215.9,948.4 217.8,938.9 219.8,945.7 221.9,933.4 224.7,937.5 227.4,922.5 230.1,945.7 232.9,940.2 235.1,947.1 237.0,928.0 238.9,956.6 241.1,908.8 243.0,948.4 245.2,893.8 247.3,926.6 249.8,940.2 252.0,930.7 254.7,952.5 257.4,945.7 259.4,911.6 261.5,937.5 264.3,915.7 266.2,926.6 268.4,906.1 271.1,938.9 273.8,925.2 277.1,923.9 278.7,934.8 280.6,915.7 282.6,943.0 284.7,956.6 288.8,975.7 291.6,959.4 294.3,951.2 297.0,959.4 299.8,956.6 302.5,970.3 304.4,955.3 307.1,967.5 309.9,974.4 312.0,967.5 314.8,977.1 317.5,974.4 319.7,986.7 323.0,983.9 327.1,977.1 330.6,978.5 333.3,959.4 335.3,974.4 338.0,966.2 340.7,979.8 344.3,985.3 347.0,982.6 350.3,970.3 353.5,971.6 355.7,970.3 358.5,979.8 361.2,986.7 364.5,978.5 366.7,983.9 368.8,975.7 372.1,1005.8 374.3,970.3 377.0,956.6 378.9,963.4 380.9,918.4 383.0,904.7 384.4,937.5 385.8,981.2 388.5,1005.8 391.2,1014.0 398.5,1017.6 402.8,1018.6 407.1,1019.7 409.2,1016.5 413.5,1017.6 417.7,1018.0 422.0,1018.6 425.2,1019.7 428.0,1014.4 431.6,1014.4 434.8,1013.3 437.4,1012.2 439.5,989.8 441.6,970.6 443.3,962.1 445.0,968.5 446.5,962.1 448.7,968.5 450.8,992.0 452.3,1010.1 454.0,985.6 455.1,976.0 456.6,992.0 457.8,1006.9 459.3,928.0 460.4,876.8 462.1,928.0 463.6,953.6 465.1,962.1 466.4,928.0 467.9,908.8 468.9,934.4 470.6,904.5 472.1,945.1 473.6,900.3 474.9,932.3 476.4,885.3 477.5,875.7 479.2,821.3 480.4,787.2 481.7,864.0 483.2,910.9 484.5,928.0 486.4,964.2 487.7,936.5 488.8,913.1 490.3,949.3 491.7,885.3 493.0,857.6 493.9,891.7 494.9,856.5 496.2,896.0 497.3,917.3 498.4,898.1 499.2,949.3 500.5,987.7 502.0,992.0 504.1,994.1 506.3,1004.8 508.4,999.4 510.5,1013.3 512.7,1011.2 514.8,1004.8 516.3,1015.4 518.0,1011.2 520.5,1019.7 523.3,1022.9 526.5,1025.0 530.8,1024.0 535.1,1025.0 539.3,1023.5 543.6,1022.9 547.8,1024.0 550.4,1019.7 552.5,1024.0 558.5,1024.0 564.9,1025.0 571.3,1025.0 577.7,1024.4 584.1,1024.0 588.4,1025.0 592.6,1022.9 596.5,1019.7 599.0,1024.0 602.2,1020.8 605.4,1023.5 609.7,1024.0 614.0,1025.0 619.3,1027.2 624.6,1026.1 630.0,1025.0 633.2,1019.7 635.3,1013.3 637.4,1015.4 640.6,1005.8 643.4,1011.2 646.0,1015.4 649.2,1011.2 651.9,1004.8 654.5,998.4 656.6,1004.8 659.2,990.9 660.5,984.5 662.6,1004.8 665.2,1000.5 668.4,999.4 671.8,1002.8 674.8,976.2 676.8,988.0 678.7,978.2 681.3,999.8 683.7,1007.7 685.6,986.0 687.6,1001.8 689.6,1009.7 692.5,1007.7 694.5,1013.6 697.5,1006.7 699.4,1018.6 702.4,1012.7 707.3,1012.7 710.3,1019.6 712.2,1018.6 715.2,1023.5 718.2,1021.5 721.1,1024.5 724.1,1022.5 727.0,1024.5 730.0,1022.5 733.9,1019.6 735.9,997.9 737.9,980.1 738.9,975.2 740.8,984.1 742.8,995.9 744.8,1002.8 747.7,1013.6 750.7,1012.7 753.7,1017.6 756.6,1014.6 759.6,1019.6 762.5,1017.6 765.5,1019.6 768.4,1016.6 771.4,1015.6 773.4,1001.8 774.7,991.0 776.3,1005.8 778.3,1007.7 781.3,997.9 783.2,1007.7 786.2,1004.8 789.1,1013.6 792.1,1012.7 794.1,1007.7 796.4,1011.7 799.0,1008.7 802.0,1012.7 804.9,1017.6 807.5,1010.7 809.4,1005.8 811.4,1013.6 813.4,1012.7 815.8,1017.6 818.7,1010.7 820.7,1017.6 823.6,1016.6 825.6,1022.5 828.6,1018.6 831.5,1016.6 833.5,1010.7 835.9,1003.8 838.4,1003.8 840.4,1011.7 842.4,1017.6 845.3,1005.8 847.3,1009.7 849.3,1002.8 851.6,1013.6 854.2,1019.6 857.2,1017.6 859.1,1011.7 861.5,1003.8 864.1,1017.6 866.6,1021.5 869.0,1024.5 871.9,1022.5 874.9,1005.8 876.9,1019.6 878.8,1028.4 881.2,1007.7 884.4,996.9 886.7,1005.8 889.7,1019.6 891.7,1021.5 893.6,999.8 895.6,1005.8 898.6,1019.6 900.9,1007.7 903.5,1019.6 906.5,1019.6 908.8,1026.5 911.4,1028.4 915.3,1027.4 919.3,1023.5 922.2,1019.6 924.2,1024.5 929.1,1023.5 932.1,1018.6 935.0,1024.5 938.0,1023.5 941.0,1026.5 943.9,1028.4 945.5,1023.2 947.5,1027.2 949.5,1017.9 951.4,1025.2 954.8,1028.2 958.1,1023.8 960.7,1028.2 962.7,1025.2 966.6,1027.8 971.5,1028.5 976.5,1029.1 981.4,1029.1 983.8,1024.6 986.9,1028.2 990.3,1030.1 993.6,1027.2 996.2,1030.1 998.8,1026.2 1000.5,1022.2 1002.1,1029.1 1007.0,1029.1 1012.9,1028.2 1016.9,1027.8 1020.8,1029.1 1023.8,1030.1 1026.8,1027.2 1029.7,1029.1 1033.7,1027.8 1037.6,1030.1 1042.5,1029.1 1047.5,1031.1 1052.4,1030.5 1058.3,1029.7 1064.2,1029.1 1067.2,1031.7 1078.0,1031.7 1089.8,1031.1 1097.7,1030.5 1107.6,1030.1 1117.4,1031.1 1127.3,1030.5 1137.2,1031.7 1147.0,1031.1 1156.9,1030.7 1166.7,1030.7 1174.6,1029.7 1177.6,1026.2 1179.6,1029.1 1181.5,1019.9 1183.5,1030.1 1186.5,1029.1 1188.8,1022.2 1190.8,1013.4 1193.4,1013.4 1195.9,1030.5 1197.9,1009.4 1199.9,1013.4 1201.8,1023.2 1204.2,1024.6 1206.6,1022.6 1209.1,1029.1 1212.1,1030.1 1216.0,1028.2 1220.0,1027.2 1222.4,1025.6 1225.1,1027.8 1227.7,1026.9 1231.3,1028.1 1234.8,1029.5 1238.4,1029.2 1242.8,1028.6 1247.3,1029.5 1251.7,1030.9 1255.2,1028.6 1258.8,1029.5 1261.5,1028.6 1264.1,1030.4 1267.7,1028.1 1271.2,1027.8 1274.8,1026.9 1278.3,1027.8 1282.7,1028.6 1288.1,1028.6 1290.7,1024.2 1292.5,1017.1 1294.8,1018.0 1296.9,1024.2 1299.6,1023.3 1301.4,1025.1 1303.7,1018.9 1305.8,1015.7 1308.5,1017.1 1311.1,1016.2 1313.8,1021.5 1316.5,1022.4 1320.9,1021.0 1324.4,1023.3 1327.1,1023.8 1329.2,1025.1 1331.5,1018.9 1333.3,1017.1 1335.1,1022.4 1337.8,1025.1 1341.3,1026.0 1344.0,1020.7 1345.7,1024.2 1348.0,1018.0 1350.5,1017.1 1352.8,1019.2 1355.5,1019.2 1358.2,1024.2 1360.8,1026.3 1364.4,1022.4 1367.9,1022.4 1370.6,1024.2 1373.2,1021.5 1376.8,1022.4 1378.9,1020.7 1382.1,1023.3 1384.8,1024.2 1387.4,1022.4 1391.0,1020.7 1394.5,1022.8 1397.7,1018.0 1399.9,1022.4 1402.5,1022.4 1404.3,1016.2 1406.6,1017.1 1409.6,1019.8 1412.3,1018.9 1415.8,1021.5 1419.4,1019.8 1422.9,1019.8 1426.5,1020.7 1430.0,1017.1 1433.6,1012.7 1436.2,1010.9 1438.0,1013.6 1439.8,1005.6 1442.4,1010.0 1445.1,1007.3 1446.9,1002.9 1448.6,1004.7 1450.4,1001.1 1452.7,1009.1 1454.9,1010.0 1457.5,1004.7 1462.0,1005.6" fill="none" stroke="#ff7f0e" stroke-width="2.3" stroke-linejoin="round"/>
</g>
<rect x="1047.7" y="585.5" width="405.5999999999999" height="79.5" rx="3.3" fill="#fff" fill-opacity="0.8" stroke="#ccc" stroke-opacity="0.8" stroke-width="1.1"/>
<circle cx="1073.6" cy="600.5" r="2.8" fill="#1f77b4"/>
<path d="M1053 638.9H1092" stroke="#ff7f0e" stroke-width="2.1"/>
<text x="1106.1" y="605.9" font-size="17.7" textLength="44.30000000000018" lengthAdjust="spacingAndGlyphs" text-anchor="start" >Raw</text>
<text x="1156.0" y="605.9" font-size="17.7" textLength="50.09999999999991" lengthAdjust="spacingAndGlyphs" text-anchor="start" >Data</text>
<text x="1106.1" y="632.3" font-size="17.7" textLength="127.40000000000009" lengthAdjust="spacingAndGlyphs" text-anchor="start" >Butterworth</text>
<text x="1239.4" y="632.3" font-size="17.7" textLength="80.5" lengthAdjust="spacingAndGlyphs" text-anchor="start" >Filtered</text>
<text x="1327.4" y="632.3" font-size="17.7" textLength="49.59999999999991" lengthAdjust="spacingAndGlyphs" text-anchor="start" >Data</text>
<text x="1106.1" y="653.2" font-size="17.7" textLength="59.600000000000136" lengthAdjust="spacingAndGlyphs" text-anchor="start" >(N=6,</text>
<text x="1171.1" y="653.2" font-size="17.7" textLength="108.80000000000018" lengthAdjust="spacingAndGlyphs" text-anchor="start" >Tc=3.3333</text>
<text x="1286.5" y="653.2" font-size="17.7" textLength="45.299999999999955" lengthAdjust="spacingAndGlyphs" text-anchor="start" >min,</text>
<text x="1338.8" y="653.2" font-size="17.7" textLength="54.90000000000009" lengthAdjust="spacingAndGlyphs" text-anchor="start" >Type:</text>
<text x="1400.2" y="653.2" font-size="17.7" textLength="45.09999999999991" lengthAdjust="spacingAndGlyphs" text-anchor="start" >low)</text>
<path d="M116.5 1054.5v5M284.5 1054.5v5M452.5 1054.5v5M620.5 1054.5v5M789.5 1054.5v5M957.5 1054.5v5M1125.5 1054.5v5M1294.5 1054.5v5M116.5 1033.5h-5M116.5 969.5h-5M116.5 905.5h-5M116.5 841.5h-5M116.5 777.5h-5M116.5 713.5h-5M116.5 649.5h-5M116.5 585.5h-5" stroke="#000" stroke-width="1.1" fill="none"/>
<rect x="116.5" y="575.5" width="1346.0" height="479.0" fill="none" stroke="#000" stroke-width="1.1"/>
<text x="106.3" y="107.1" font-size="22.1" textLength="13.5" lengthAdjust="spacingAndGlyphs" text-anchor="end" >1</text>
<text x="106.3" y="188.1" font-size="22.1" textLength="17.0" lengthAdjust="spacingAndGlyphs" text-anchor="end" >0</text>
<text x="106.3" y="268.1" font-size="22.1" textLength="34.0" lengthAdjust="spacingAndGlyphs" text-anchor="end" >−1</text>
<text x="106.3" y="348.1" font-size="22.1" textLength="34.0" lengthAdjust="spacingAndGlyphs" text-anchor="end" >−2</text>
<text x="106.3" y="428.1" font-size="22.1" textLength="34.0" lengthAdjust="spacingAndGlyphs" text-anchor="end" >−3</text>
<text x="106.3" y="508.1" font-size="22.1" textLength="34.0" lengthAdjust="spacingAndGlyphs" text-anchor="end" >−4</text>
<text x="105.1" y="1041.1" font-size="22.1" textLength="54.5" lengthAdjust="spacingAndGlyphs" text-anchor="end" >0.00</text>
<text x="105.1" y="977.1" font-size="22.1" textLength="54.5" lengthAdjust="spacingAndGlyphs" text-anchor="end" >0.05</text>
<text x="105.1" y="913.1" font-size="22.1" textLength="54.5" lengthAdjust="spacingAndGlyphs" text-anchor="end" >0.10</text>
<text x="105.1" y="849.1" font-size="22.1" textLength="54.5" lengthAdjust="spacingAndGlyphs" text-anchor="end" >0.15</text>
<text x="105.1" y="785.1" font-size="22.1" textLength="54.5" lengthAdjust="spacingAndGlyphs" text-anchor="end" >0.20</text>
<text x="105.1" y="721.1" font-size="22.1" textLength="54.5" lengthAdjust="spacingAndGlyphs" text-anchor="end" >0.25</text>
<text x="105.1" y="657.1" font-size="22.1" textLength="54.5" lengthAdjust="spacingAndGlyphs" text-anchor="end" >0.30</text>
<text x="105.1" y="593.1" font-size="22.1" textLength="54.5" lengthAdjust="spacingAndGlyphs" text-anchor="end" >0.35</text>
<text transform="translate(115.1 1077.6) rotate(-30)" font-size="22.1" textLength="112.5" lengthAdjust="spacingAndGlyphs" text-anchor="end">08-12 00</text>
<text transform="translate(283.1 1077.6) rotate(-30)" font-size="22.1" textLength="112.5" lengthAdjust="spacingAndGlyphs" text-anchor="end">08-12 03</text>
<text transform="translate(451.1 1077.6) rotate(-30)" font-size="22.1" textLength="112.5" lengthAdjust="spacingAndGlyphs" text-anchor="end">08-12 06</text>
<text transform="translate(619.1 1077.6) rotate(-30)" font-size="22.1" textLength="112.5" lengthAdjust="spacingAndGlyphs" text-anchor="end">08-12 09</text>
<text transform="translate(788.1 1077.6) rotate(-30)" font-size="22.1" textLength="112.5" lengthAdjust="spacingAndGlyphs" text-anchor="end">08-12 12</text>
<text transform="translate(956.1 1077.6) rotate(-30)" font-size="22.1" textLength="112.5" lengthAdjust="spacingAndGlyphs" text-anchor="end">08-12 15</text>
<text transform="translate(1124.1 1077.6) rotate(-30)" font-size="22.1" textLength="112.5" lengthAdjust="spacingAndGlyphs" text-anchor="end">08-12 18</text>
<text transform="translate(1293.1 1077.6) rotate(-30)" font-size="22.1" textLength="112.5" lengthAdjust="spacingAndGlyphs" text-anchor="end">08-12 21</text>
<text x="115.3" y="29.2" font-size="27.0" textLength="42.5" lengthAdjust="spacingAndGlyphs" text-anchor="start" >(a)</text>
<text x="114.8" y="566.6" font-size="27.0" textLength="43.5" lengthAdjust="spacingAndGlyphs" text-anchor="start" >(b)</text>
<text x="634.3000000000001" y="29.6" font-size="27.5" textLength="65.70000000000002" lengthAdjust="spacingAndGlyphs" text-anchor="start" >10.0</text>
<text x="709.3000000000001" y="29.6" font-size="27.5" textLength="63.79999999999993" lengthAdjust="spacingAndGlyphs" text-anchor="start" >MHz</text>
<text x="782.6" y="29.6" font-size="27.5" textLength="151.90000000000006" lengthAdjust="spacingAndGlyphs" text-anchor="start" >N0000033</text>
<text x="789.3" y="1158" font-size="22.1" textLength="49.5" lengthAdjust="spacingAndGlyphs" text-anchor="middle" >UTC</text>
<text transform="translate(60.7 390.3) rotate(-90)" font-size="22.1" textLength="98.1" lengthAdjust="spacingAndGlyphs">Doppler</text>
<text transform="translate(60.7 286.9) rotate(-90)" font-size="22.1" textLength="61.2" lengthAdjust="spacingAndGlyphs">Shift</text>
<text transform="translate(60.7 216.2) rotate(-90)" font-size="22.1" textLength="49.9" lengthAdjust="spacingAndGlyphs">[Hz]</text>
<text transform="translate(40.1 918.9) rotate(-90)" font-size="22.1" textLength="59.3" lengthAdjust="spacingAndGlyphs">Peak</text>
<text transform="translate(40.1 852.9) rotate(-90)" font-size="22.1" textLength="97.8" lengthAdjust="spacingAndGlyphs">Voltage</text>
<text transform="translate(40.1 747.4) rotate(-90)" font-size="22.1" textLength="37.0" lengthAdjust="spacingAndGlyphs">[V]</text>
</svg>
</body></html>
